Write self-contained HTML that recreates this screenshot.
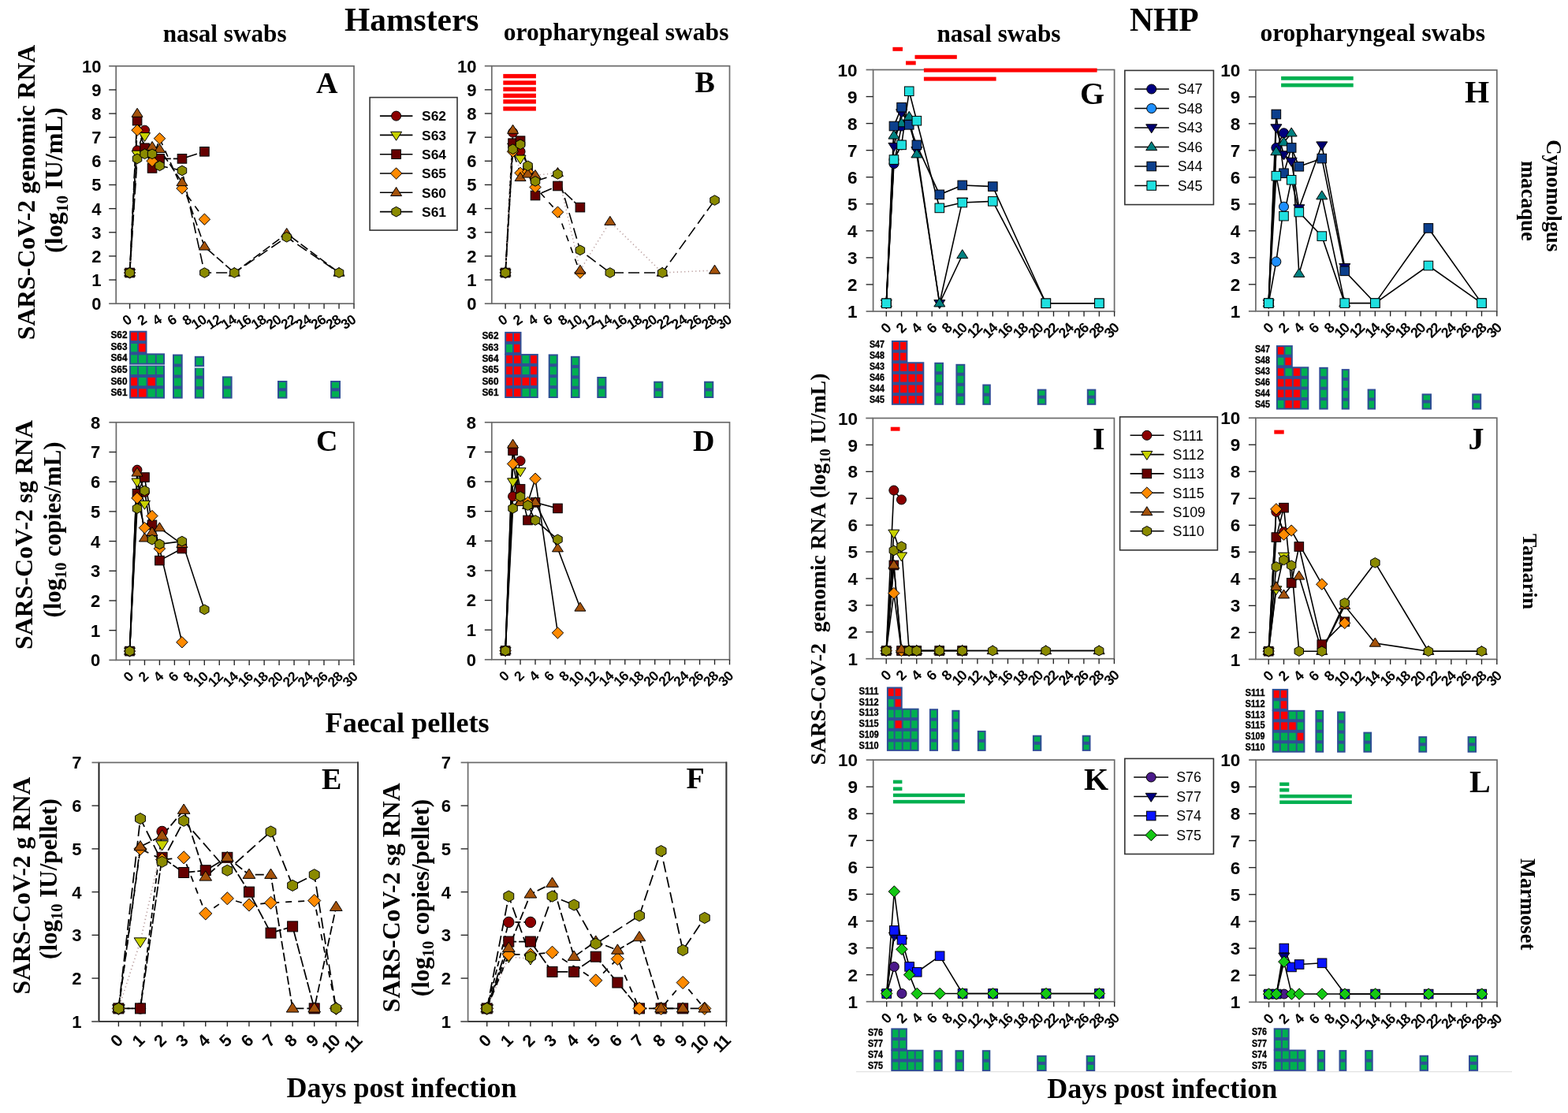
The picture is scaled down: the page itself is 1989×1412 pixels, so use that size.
<!DOCTYPE html>
<html><head><meta charset="utf-8"><title>SARS-CoV-2 RNA shedding in hamsters and NHP</title>
<style>
html,body{margin:0;padding:0;background:#fff;}
body{width:1989px;height:1412px;overflow:hidden;}
svg{display:block;}
</style></head>
<body>
<svg width="1989" height="1412" viewBox="0 0 1989 1412">
<rect width="1989" height="1412" fill="#fff"/>
<rect x="147.2" y="83.8" width="301.8" height="301.4" fill="none" stroke="#6a6a6a" stroke-width="1.7"/>
<line x1="138.2" y1="385.2" x2="147.2" y2="385.2" stroke="#6a6a6a" stroke-width="1.7"/>
<text x="128.5" y="393.12" font-family="'Liberation Sans', Arial, sans-serif" font-size="22" font-weight="bold" text-anchor="end">0</text>
<line x1="138.2" y1="355.06" x2="147.2" y2="355.06" stroke="#222" stroke-width="1.35"/>
<text x="128.5" y="362.98" font-family="'Liberation Sans', Arial, sans-serif" font-size="22" font-weight="bold" text-anchor="end">1</text>
<line x1="138.2" y1="324.92" x2="147.2" y2="324.92" stroke="#222" stroke-width="1.35"/>
<text x="128.5" y="332.84" font-family="'Liberation Sans', Arial, sans-serif" font-size="22" font-weight="bold" text-anchor="end">2</text>
<line x1="138.2" y1="294.78" x2="147.2" y2="294.78" stroke="#222" stroke-width="1.35"/>
<text x="128.5" y="302.7" font-family="'Liberation Sans', Arial, sans-serif" font-size="22" font-weight="bold" text-anchor="end">3</text>
<line x1="138.2" y1="264.64" x2="147.2" y2="264.64" stroke="#222" stroke-width="1.35"/>
<text x="128.5" y="272.56" font-family="'Liberation Sans', Arial, sans-serif" font-size="22" font-weight="bold" text-anchor="end">4</text>
<line x1="138.2" y1="234.5" x2="147.2" y2="234.5" stroke="#222" stroke-width="1.35"/>
<text x="128.5" y="242.42" font-family="'Liberation Sans', Arial, sans-serif" font-size="22" font-weight="bold" text-anchor="end">5</text>
<line x1="138.2" y1="204.36" x2="147.2" y2="204.36" stroke="#222" stroke-width="1.35"/>
<text x="128.5" y="212.28" font-family="'Liberation Sans', Arial, sans-serif" font-size="22" font-weight="bold" text-anchor="end">6</text>
<line x1="138.2" y1="174.22" x2="147.2" y2="174.22" stroke="#222" stroke-width="1.35"/>
<text x="128.5" y="182.14" font-family="'Liberation Sans', Arial, sans-serif" font-size="22" font-weight="bold" text-anchor="end">7</text>
<line x1="138.2" y1="144.08" x2="147.2" y2="144.08" stroke="#222" stroke-width="1.35"/>
<text x="128.5" y="152" font-family="'Liberation Sans', Arial, sans-serif" font-size="22" font-weight="bold" text-anchor="end">8</text>
<line x1="138.2" y1="113.94" x2="147.2" y2="113.94" stroke="#222" stroke-width="1.35"/>
<text x="128.5" y="121.86" font-family="'Liberation Sans', Arial, sans-serif" font-size="22" font-weight="bold" text-anchor="end">9</text>
<line x1="138.2" y1="83.8" x2="147.2" y2="83.8" stroke="#6a6a6a" stroke-width="1.7"/>
<text x="128.5" y="91.72" font-family="'Liberation Sans', Arial, sans-serif" font-size="22" font-weight="bold" text-anchor="end">10</text>
<line x1="164.6" y1="385.2" x2="164.6" y2="391.7" stroke="#222" stroke-width="1.35"/>
<text x="168.2" y="408.37" font-family="'Liberation Sans', Arial, sans-serif" font-size="17.5" font-weight="bold" text-anchor="end" transform="rotate(-34 168.2 408.37)" letter-spacing="-0.6">0</text>
<line x1="183.56" y1="385.2" x2="183.56" y2="391.7" stroke="#222" stroke-width="1.35"/>
<text x="187.16" y="408.37" font-family="'Liberation Sans', Arial, sans-serif" font-size="17.5" font-weight="bold" text-anchor="end" transform="rotate(-34 187.16 408.37)" letter-spacing="-0.6">2</text>
<line x1="202.52" y1="385.2" x2="202.52" y2="391.7" stroke="#222" stroke-width="1.35"/>
<text x="206.12" y="408.37" font-family="'Liberation Sans', Arial, sans-serif" font-size="17.5" font-weight="bold" text-anchor="end" transform="rotate(-34 206.12 408.37)" letter-spacing="-0.6">4</text>
<line x1="221.48" y1="385.2" x2="221.48" y2="391.7" stroke="#222" stroke-width="1.35"/>
<text x="225.08" y="408.37" font-family="'Liberation Sans', Arial, sans-serif" font-size="17.5" font-weight="bold" text-anchor="end" transform="rotate(-34 225.08 408.37)" letter-spacing="-0.6">6</text>
<line x1="240.44" y1="385.2" x2="240.44" y2="391.7" stroke="#222" stroke-width="1.35"/>
<text x="244.04" y="408.37" font-family="'Liberation Sans', Arial, sans-serif" font-size="17.5" font-weight="bold" text-anchor="end" transform="rotate(-34 244.04 408.37)" letter-spacing="-0.6">8</text>
<line x1="259.4" y1="385.2" x2="259.4" y2="391.7" stroke="#222" stroke-width="1.35"/>
<text x="263" y="408.37" font-family="'Liberation Sans', Arial, sans-serif" font-size="17.5" font-weight="bold" text-anchor="end" transform="rotate(-34 263 408.37)" letter-spacing="-0.6">10</text>
<line x1="278.36" y1="385.2" x2="278.36" y2="391.7" stroke="#222" stroke-width="1.35"/>
<text x="281.96" y="408.37" font-family="'Liberation Sans', Arial, sans-serif" font-size="17.5" font-weight="bold" text-anchor="end" transform="rotate(-34 281.96 408.37)" letter-spacing="-0.6">12</text>
<line x1="297.32" y1="385.2" x2="297.32" y2="391.7" stroke="#222" stroke-width="1.35"/>
<text x="300.92" y="408.37" font-family="'Liberation Sans', Arial, sans-serif" font-size="17.5" font-weight="bold" text-anchor="end" transform="rotate(-34 300.92 408.37)" letter-spacing="-0.6">14</text>
<line x1="316.28" y1="385.2" x2="316.28" y2="391.7" stroke="#222" stroke-width="1.35"/>
<text x="319.88" y="408.37" font-family="'Liberation Sans', Arial, sans-serif" font-size="17.5" font-weight="bold" text-anchor="end" transform="rotate(-34 319.88 408.37)" letter-spacing="-0.6">16</text>
<line x1="335.24" y1="385.2" x2="335.24" y2="391.7" stroke="#222" stroke-width="1.35"/>
<text x="338.84" y="408.37" font-family="'Liberation Sans', Arial, sans-serif" font-size="17.5" font-weight="bold" text-anchor="end" transform="rotate(-34 338.84 408.37)" letter-spacing="-0.6">18</text>
<line x1="354.2" y1="385.2" x2="354.2" y2="391.7" stroke="#222" stroke-width="1.35"/>
<text x="357.8" y="408.37" font-family="'Liberation Sans', Arial, sans-serif" font-size="17.5" font-weight="bold" text-anchor="end" transform="rotate(-34 357.8 408.37)" letter-spacing="-0.6">20</text>
<line x1="373.16" y1="385.2" x2="373.16" y2="391.7" stroke="#222" stroke-width="1.35"/>
<text x="376.76" y="408.37" font-family="'Liberation Sans', Arial, sans-serif" font-size="17.5" font-weight="bold" text-anchor="end" transform="rotate(-34 376.76 408.37)" letter-spacing="-0.6">22</text>
<line x1="392.12" y1="385.2" x2="392.12" y2="391.7" stroke="#222" stroke-width="1.35"/>
<text x="395.72" y="408.37" font-family="'Liberation Sans', Arial, sans-serif" font-size="17.5" font-weight="bold" text-anchor="end" transform="rotate(-34 395.72 408.37)" letter-spacing="-0.6">24</text>
<line x1="411.08" y1="385.2" x2="411.08" y2="391.7" stroke="#222" stroke-width="1.35"/>
<text x="414.68" y="408.37" font-family="'Liberation Sans', Arial, sans-serif" font-size="17.5" font-weight="bold" text-anchor="end" transform="rotate(-34 414.68 408.37)" letter-spacing="-0.6">26</text>
<line x1="430.04" y1="385.2" x2="430.04" y2="391.7" stroke="#222" stroke-width="1.35"/>
<text x="433.64" y="408.37" font-family="'Liberation Sans', Arial, sans-serif" font-size="17.5" font-weight="bold" text-anchor="end" transform="rotate(-34 433.64 408.37)" letter-spacing="-0.6">28</text>
<line x1="449" y1="385.2" x2="449" y2="391.7" stroke="#222" stroke-width="1.35"/>
<text x="452.6" y="408.37" font-family="'Liberation Sans', Arial, sans-serif" font-size="17.5" font-weight="bold" text-anchor="end" transform="rotate(-34 452.6 408.37)" letter-spacing="-0.6">30</text>
<text x="400.9" y="117.5" font-family="'Liberation Serif', 'Times New Roman', serif" font-size="38" font-weight="bold" text-anchor="start">A</text>
<polyline points="164.6,346.02 174.08,190.8 183.56,165.18" fill="none" stroke="#000" stroke-width="1.6" stroke-dasharray="7,4"/>
<polyline points="164.6,346.02 174.08,195.32 183.56,172.71" fill="none" stroke="#b89c9c" stroke-width="1.6" stroke-dasharray="1.2,3.5"/>
<polyline points="164.6,346.02 174.08,153.12 183.56,187.78 193.04,213.4 202.52,201.35 230.96,201.35 259.4,192.3" fill="none" stroke="#000" stroke-width="1.6" stroke-dasharray="14,3"/>
<polyline points="164.6,346.02 174.08,165.18 193.04,204.36 202.52,175.73 230.96,239.02 259.4,278.2" fill="none" stroke="#000" stroke-width="1.6" stroke-dasharray="8,8"/>
<polyline points="164.6,346.02 174.08,144.08 183.56,195.32 193.04,186.28 202.52,189.29 230.96,231.49 259.4,312.86 297.32,346.02 363.68,296.29 430.04,346.02" fill="none" stroke="#000" stroke-width="1.6" stroke-dasharray="11,4"/>
<polyline points="164.6,346.02 174.08,201.35 183.56,195.32 193.04,195.32 202.52,210.39 230.96,216.42 259.4,346.02 297.32,346.02 363.68,300.81 430.04,346.02" fill="none" stroke="#000" stroke-width="1.6" stroke-dasharray="14,6"/>
<circle cx="164.6" cy="346.02" r="6" fill="#8b0000" stroke="#000" stroke-width="1"/>
<circle cx="174.08" cy="190.8" r="6" fill="#8b0000" stroke="#000" stroke-width="1"/>
<circle cx="183.56" cy="165.18" r="6" fill="#8b0000" stroke="#000" stroke-width="1"/>
<path d="M164.6 352.84L171.6 341.84L157.6 341.84Z" fill="#c8d200" stroke="#000" stroke-width="1"/>
<path d="M174.08 202.14L181.08 191.14L167.08 191.14Z" fill="#c8d200" stroke="#000" stroke-width="1"/>
<path d="M183.56 179.53L190.56 168.53L176.56 168.53Z" fill="#c8d200" stroke="#000" stroke-width="1"/>
<rect x="158.8" y="340.22" width="11.6" height="11.6" fill="#650000" stroke="#000" stroke-width="1"/>
<rect x="168.28" y="147.32" width="11.6" height="11.6" fill="#650000" stroke="#000" stroke-width="1"/>
<rect x="177.76" y="181.98" width="11.6" height="11.6" fill="#650000" stroke="#000" stroke-width="1"/>
<rect x="187.24" y="207.6" width="11.6" height="11.6" fill="#650000" stroke="#000" stroke-width="1"/>
<rect x="196.72" y="195.55" width="11.6" height="11.6" fill="#650000" stroke="#000" stroke-width="1"/>
<rect x="225.16" y="195.55" width="11.6" height="11.6" fill="#650000" stroke="#000" stroke-width="1"/>
<rect x="253.6" y="186.5" width="11.6" height="11.6" fill="#650000" stroke="#000" stroke-width="1"/>
<path d="M164.6 338.82L171.8 346.02L164.6 353.22L157.4 346.02Z" fill="#ff8a00" stroke="#000" stroke-width="1"/>
<path d="M174.08 157.98L181.28 165.18L174.08 172.38L166.88 165.18Z" fill="#ff8a00" stroke="#000" stroke-width="1"/>
<path d="M193.04 197.16L200.24 204.36L193.04 211.56L185.84 204.36Z" fill="#ff8a00" stroke="#000" stroke-width="1"/>
<path d="M202.52 168.53L209.72 175.73L202.52 182.93L195.32 175.73Z" fill="#ff8a00" stroke="#000" stroke-width="1"/>
<path d="M230.96 231.82L238.16 239.02L230.96 246.22L223.76 239.02Z" fill="#ff8a00" stroke="#000" stroke-width="1"/>
<path d="M259.4 271L266.6 278.2L259.4 285.4L252.2 278.2Z" fill="#ff8a00" stroke="#000" stroke-width="1"/>
<path d="M164.6 339.2L171.6 350.2L157.6 350.2Z" fill="#a4520a" stroke="#000" stroke-width="1"/>
<path d="M174.08 137.26L181.08 148.26L167.08 148.26Z" fill="#a4520a" stroke="#000" stroke-width="1"/>
<path d="M183.56 188.5L190.56 199.5L176.56 199.5Z" fill="#a4520a" stroke="#000" stroke-width="1"/>
<path d="M193.04 179.46L200.04 190.46L186.04 190.46Z" fill="#a4520a" stroke="#000" stroke-width="1"/>
<path d="M202.52 182.47L209.52 193.47L195.52 193.47Z" fill="#a4520a" stroke="#000" stroke-width="1"/>
<path d="M230.96 224.67L237.96 235.67L223.96 235.67Z" fill="#a4520a" stroke="#000" stroke-width="1"/>
<path d="M259.4 306.04L266.4 317.04L252.4 317.04Z" fill="#a4520a" stroke="#000" stroke-width="1"/>
<path d="M297.32 339.2L304.32 350.2L290.32 350.2Z" fill="#a4520a" stroke="#000" stroke-width="1"/>
<path d="M363.68 289.47L370.68 300.47L356.68 300.47Z" fill="#a4520a" stroke="#000" stroke-width="1"/>
<path d="M430.04 339.2L437.04 350.2L423.04 350.2Z" fill="#a4520a" stroke="#000" stroke-width="1"/>
<polygon points="164.6,339.72 158.87,342.87 158.87,349.17 164.6,352.32 170.33,349.17 170.33,342.87" fill="#8a8a00" stroke="#000" stroke-width="1"/>
<polygon points="174.08,195.05 168.35,198.2 168.35,204.5 174.08,207.65 179.81,204.5 179.81,198.2" fill="#8a8a00" stroke="#000" stroke-width="1"/>
<polygon points="183.56,189.02 177.83,192.17 177.83,198.47 183.56,201.62 189.29,198.47 189.29,192.17" fill="#8a8a00" stroke="#000" stroke-width="1"/>
<polygon points="193.04,189.02 187.31,192.17 187.31,198.47 193.04,201.62 198.77,198.47 198.77,192.17" fill="#8a8a00" stroke="#000" stroke-width="1"/>
<polygon points="202.52,204.09 196.79,207.24 196.79,213.54 202.52,216.69 208.25,213.54 208.25,207.24" fill="#8a8a00" stroke="#000" stroke-width="1"/>
<polygon points="230.96,210.12 225.23,213.27 225.23,219.57 230.96,222.72 236.69,219.57 236.69,213.27" fill="#8a8a00" stroke="#000" stroke-width="1"/>
<polygon points="259.4,339.72 253.67,342.87 253.67,349.17 259.4,352.32 265.13,349.17 265.13,342.87" fill="#8a8a00" stroke="#000" stroke-width="1"/>
<polygon points="297.32,339.72 291.59,342.87 291.59,349.17 297.32,352.32 303.05,349.17 303.05,342.87" fill="#8a8a00" stroke="#000" stroke-width="1"/>
<polygon points="363.68,294.51 357.95,297.66 357.95,303.96 363.68,307.11 369.41,303.96 369.41,297.66" fill="#8a8a00" stroke="#000" stroke-width="1"/>
<polygon points="430.04,339.72 424.31,342.87 424.31,349.17 430.04,352.32 435.77,349.17 435.77,342.87" fill="#8a8a00" stroke="#000" stroke-width="1"/>
<rect x="623.8" y="83.7" width="301.7" height="301.5" fill="none" stroke="#6a6a6a" stroke-width="1.7"/>
<line x1="614.8" y1="385.2" x2="623.8" y2="385.2" stroke="#6a6a6a" stroke-width="1.7"/>
<text x="604.5" y="393.12" font-family="'Liberation Sans', Arial, sans-serif" font-size="22" font-weight="bold" text-anchor="end">0</text>
<line x1="614.8" y1="355.05" x2="623.8" y2="355.05" stroke="#222" stroke-width="1.35"/>
<text x="604.5" y="362.97" font-family="'Liberation Sans', Arial, sans-serif" font-size="22" font-weight="bold" text-anchor="end">1</text>
<line x1="614.8" y1="324.9" x2="623.8" y2="324.9" stroke="#222" stroke-width="1.35"/>
<text x="604.5" y="332.82" font-family="'Liberation Sans', Arial, sans-serif" font-size="22" font-weight="bold" text-anchor="end">2</text>
<line x1="614.8" y1="294.75" x2="623.8" y2="294.75" stroke="#222" stroke-width="1.35"/>
<text x="604.5" y="302.67" font-family="'Liberation Sans', Arial, sans-serif" font-size="22" font-weight="bold" text-anchor="end">3</text>
<line x1="614.8" y1="264.6" x2="623.8" y2="264.6" stroke="#222" stroke-width="1.35"/>
<text x="604.5" y="272.52" font-family="'Liberation Sans', Arial, sans-serif" font-size="22" font-weight="bold" text-anchor="end">4</text>
<line x1="614.8" y1="234.45" x2="623.8" y2="234.45" stroke="#222" stroke-width="1.35"/>
<text x="604.5" y="242.37" font-family="'Liberation Sans', Arial, sans-serif" font-size="22" font-weight="bold" text-anchor="end">5</text>
<line x1="614.8" y1="204.3" x2="623.8" y2="204.3" stroke="#222" stroke-width="1.35"/>
<text x="604.5" y="212.22" font-family="'Liberation Sans', Arial, sans-serif" font-size="22" font-weight="bold" text-anchor="end">6</text>
<line x1="614.8" y1="174.15" x2="623.8" y2="174.15" stroke="#222" stroke-width="1.35"/>
<text x="604.5" y="182.07" font-family="'Liberation Sans', Arial, sans-serif" font-size="22" font-weight="bold" text-anchor="end">7</text>
<line x1="614.8" y1="144" x2="623.8" y2="144" stroke="#222" stroke-width="1.35"/>
<text x="604.5" y="151.92" font-family="'Liberation Sans', Arial, sans-serif" font-size="22" font-weight="bold" text-anchor="end">8</text>
<line x1="614.8" y1="113.85" x2="623.8" y2="113.85" stroke="#222" stroke-width="1.35"/>
<text x="604.5" y="121.77" font-family="'Liberation Sans', Arial, sans-serif" font-size="22" font-weight="bold" text-anchor="end">9</text>
<line x1="614.8" y1="83.7" x2="623.8" y2="83.7" stroke="#6a6a6a" stroke-width="1.7"/>
<text x="604.5" y="91.62" font-family="'Liberation Sans', Arial, sans-serif" font-size="22" font-weight="bold" text-anchor="end">10</text>
<line x1="641.1" y1="385.2" x2="641.1" y2="391.7" stroke="#222" stroke-width="1.35"/>
<text x="644.7" y="408.37" font-family="'Liberation Sans', Arial, sans-serif" font-size="17.5" font-weight="bold" text-anchor="end" transform="rotate(-34 644.7 408.37)" letter-spacing="-0.6">0</text>
<line x1="660.06" y1="385.2" x2="660.06" y2="391.7" stroke="#222" stroke-width="1.35"/>
<text x="663.66" y="408.37" font-family="'Liberation Sans', Arial, sans-serif" font-size="17.5" font-weight="bold" text-anchor="end" transform="rotate(-34 663.66 408.37)" letter-spacing="-0.6">2</text>
<line x1="679.02" y1="385.2" x2="679.02" y2="391.7" stroke="#222" stroke-width="1.35"/>
<text x="682.62" y="408.37" font-family="'Liberation Sans', Arial, sans-serif" font-size="17.5" font-weight="bold" text-anchor="end" transform="rotate(-34 682.62 408.37)" letter-spacing="-0.6">4</text>
<line x1="697.98" y1="385.2" x2="697.98" y2="391.7" stroke="#222" stroke-width="1.35"/>
<text x="701.58" y="408.37" font-family="'Liberation Sans', Arial, sans-serif" font-size="17.5" font-weight="bold" text-anchor="end" transform="rotate(-34 701.58 408.37)" letter-spacing="-0.6">6</text>
<line x1="716.94" y1="385.2" x2="716.94" y2="391.7" stroke="#222" stroke-width="1.35"/>
<text x="720.54" y="408.37" font-family="'Liberation Sans', Arial, sans-serif" font-size="17.5" font-weight="bold" text-anchor="end" transform="rotate(-34 720.54 408.37)" letter-spacing="-0.6">8</text>
<line x1="735.9" y1="385.2" x2="735.9" y2="391.7" stroke="#222" stroke-width="1.35"/>
<text x="739.5" y="408.37" font-family="'Liberation Sans', Arial, sans-serif" font-size="17.5" font-weight="bold" text-anchor="end" transform="rotate(-34 739.5 408.37)" letter-spacing="-0.6">10</text>
<line x1="754.86" y1="385.2" x2="754.86" y2="391.7" stroke="#222" stroke-width="1.35"/>
<text x="758.46" y="408.37" font-family="'Liberation Sans', Arial, sans-serif" font-size="17.5" font-weight="bold" text-anchor="end" transform="rotate(-34 758.46 408.37)" letter-spacing="-0.6">12</text>
<line x1="773.82" y1="385.2" x2="773.82" y2="391.7" stroke="#222" stroke-width="1.35"/>
<text x="777.42" y="408.37" font-family="'Liberation Sans', Arial, sans-serif" font-size="17.5" font-weight="bold" text-anchor="end" transform="rotate(-34 777.42 408.37)" letter-spacing="-0.6">14</text>
<line x1="792.78" y1="385.2" x2="792.78" y2="391.7" stroke="#222" stroke-width="1.35"/>
<text x="796.38" y="408.37" font-family="'Liberation Sans', Arial, sans-serif" font-size="17.5" font-weight="bold" text-anchor="end" transform="rotate(-34 796.38 408.37)" letter-spacing="-0.6">16</text>
<line x1="811.74" y1="385.2" x2="811.74" y2="391.7" stroke="#222" stroke-width="1.35"/>
<text x="815.34" y="408.37" font-family="'Liberation Sans', Arial, sans-serif" font-size="17.5" font-weight="bold" text-anchor="end" transform="rotate(-34 815.34 408.37)" letter-spacing="-0.6">18</text>
<line x1="830.7" y1="385.2" x2="830.7" y2="391.7" stroke="#222" stroke-width="1.35"/>
<text x="834.3" y="408.37" font-family="'Liberation Sans', Arial, sans-serif" font-size="17.5" font-weight="bold" text-anchor="end" transform="rotate(-34 834.3 408.37)" letter-spacing="-0.6">20</text>
<line x1="849.66" y1="385.2" x2="849.66" y2="391.7" stroke="#222" stroke-width="1.35"/>
<text x="853.26" y="408.37" font-family="'Liberation Sans', Arial, sans-serif" font-size="17.5" font-weight="bold" text-anchor="end" transform="rotate(-34 853.26 408.37)" letter-spacing="-0.6">22</text>
<line x1="868.62" y1="385.2" x2="868.62" y2="391.7" stroke="#222" stroke-width="1.35"/>
<text x="872.22" y="408.37" font-family="'Liberation Sans', Arial, sans-serif" font-size="17.5" font-weight="bold" text-anchor="end" transform="rotate(-34 872.22 408.37)" letter-spacing="-0.6">24</text>
<line x1="887.58" y1="385.2" x2="887.58" y2="391.7" stroke="#222" stroke-width="1.35"/>
<text x="891.18" y="408.37" font-family="'Liberation Sans', Arial, sans-serif" font-size="17.5" font-weight="bold" text-anchor="end" transform="rotate(-34 891.18 408.37)" letter-spacing="-0.6">26</text>
<line x1="906.54" y1="385.2" x2="906.54" y2="391.7" stroke="#222" stroke-width="1.35"/>
<text x="910.14" y="408.37" font-family="'Liberation Sans', Arial, sans-serif" font-size="17.5" font-weight="bold" text-anchor="end" transform="rotate(-34 910.14 408.37)" letter-spacing="-0.6">28</text>
<line x1="925.5" y1="385.2" x2="925.5" y2="391.7" stroke="#222" stroke-width="1.35"/>
<text x="929.1" y="408.37" font-family="'Liberation Sans', Arial, sans-serif" font-size="17.5" font-weight="bold" text-anchor="end" transform="rotate(-34 929.1 408.37)" letter-spacing="-0.6">30</text>
<rect x="638.3" y="93.9" width="41.6" height="5.4" fill="#ff0000"/>
<rect x="638.3" y="102.3" width="41.6" height="5.4" fill="#ff0000"/>
<rect x="638.3" y="110.5" width="41.6" height="5.4" fill="#ff0000"/>
<rect x="638.3" y="118.7" width="41.6" height="5.4" fill="#ff0000"/>
<rect x="638.3" y="126.2" width="41.6" height="5.4" fill="#ff0000"/>
<rect x="638.3" y="135.2" width="41.6" height="5.4" fill="#ff0000"/>
<text x="881.4" y="116.5" font-family="'Liberation Serif', 'Times New Roman', serif" font-size="38" font-weight="bold" text-anchor="start">B</text>
<polyline points="641.1,346 650.58,168.12 660.06,192.24" fill="none" stroke="#000" stroke-width="1.6" stroke-dasharray="7,4"/>
<polyline points="641.1,346 650.58,186.21 660.06,201.28" fill="none" stroke="#b89c9c" stroke-width="1.6" stroke-dasharray="1.2,3.5"/>
<polyline points="641.1,346 650.58,181.69 660.06,178.67 669.54,216.36 679.02,248.02 707.46,235.96 735.9,263.09" fill="none" stroke="#000" stroke-width="1.6" stroke-dasharray="14,3"/>
<polyline points="641.1,346 650.58,192.24 660.06,219.38 669.54,217.87 679.02,237.46 707.46,269.12 735.9,346" fill="none" stroke="#000" stroke-width="1.6" stroke-dasharray="8,8"/>
<polyline points="641.1,346 650.58,165.11 660.06,225.4 669.54,220.88 679.02,222.39 707.46,219.38 735.9,342.99 773.82,281.18 840.18,346 906.54,342.99" fill="none" stroke="#b89c9c" stroke-width="1.6" stroke-dasharray="1.2,3.5"/>
<polyline points="641.1,346 650.58,189.22 660.06,183.19 669.54,210.33 679.02,229.93 707.46,220.88 735.9,317.36 773.82,346 840.18,346 906.54,254.05" fill="none" stroke="#000" stroke-width="1.6" stroke-dasharray="14,6"/>
<circle cx="641.1" cy="346" r="6" fill="#8b0000" stroke="#000" stroke-width="1"/>
<circle cx="650.58" cy="168.12" r="6" fill="#8b0000" stroke="#000" stroke-width="1"/>
<circle cx="660.06" cy="192.24" r="6" fill="#8b0000" stroke="#000" stroke-width="1"/>
<path d="M641.1 352.82L648.1 341.82L634.1 341.82Z" fill="#c8d200" stroke="#000" stroke-width="1"/>
<path d="M650.58 193.03L657.58 182.03L643.58 182.03Z" fill="#c8d200" stroke="#000" stroke-width="1"/>
<path d="M660.06 208.1L667.06 197.1L653.06 197.1Z" fill="#c8d200" stroke="#000" stroke-width="1"/>
<rect x="635.3" y="340.2" width="11.6" height="11.6" fill="#650000" stroke="#000" stroke-width="1"/>
<rect x="644.78" y="175.89" width="11.6" height="11.6" fill="#650000" stroke="#000" stroke-width="1"/>
<rect x="654.26" y="172.87" width="11.6" height="11.6" fill="#650000" stroke="#000" stroke-width="1"/>
<rect x="663.74" y="210.56" width="11.6" height="11.6" fill="#650000" stroke="#000" stroke-width="1"/>
<rect x="673.22" y="242.22" width="11.6" height="11.6" fill="#650000" stroke="#000" stroke-width="1"/>
<rect x="701.66" y="230.16" width="11.6" height="11.6" fill="#650000" stroke="#000" stroke-width="1"/>
<rect x="730.1" y="257.29" width="11.6" height="11.6" fill="#650000" stroke="#000" stroke-width="1"/>
<path d="M641.1 338.81L648.3 346L641.1 353.2L633.9 346Z" fill="#ff8a00" stroke="#000" stroke-width="1"/>
<path d="M650.58 185.04L657.78 192.24L650.58 199.44L643.38 192.24Z" fill="#ff8a00" stroke="#000" stroke-width="1"/>
<path d="M660.06 212.18L667.26 219.38L660.06 226.57L652.86 219.38Z" fill="#ff8a00" stroke="#000" stroke-width="1"/>
<path d="M669.54 210.67L676.74 217.87L669.54 225.07L662.34 217.87Z" fill="#ff8a00" stroke="#000" stroke-width="1"/>
<path d="M679.02 230.26L686.22 237.46L679.02 244.66L671.82 237.46Z" fill="#ff8a00" stroke="#000" stroke-width="1"/>
<path d="M707.46 261.92L714.66 269.12L707.46 276.32L700.26 269.12Z" fill="#ff8a00" stroke="#000" stroke-width="1"/>
<path d="M735.9 338.81L743.1 346L735.9 353.2L728.7 346Z" fill="#ff8a00" stroke="#000" stroke-width="1"/>
<path d="M641.1 339.19L648.1 350.19L634.1 350.19Z" fill="#a4520a" stroke="#000" stroke-width="1"/>
<path d="M650.58 158.29L657.58 169.29L643.58 169.29Z" fill="#a4520a" stroke="#000" stroke-width="1"/>
<path d="M660.06 218.58L667.06 229.58L653.06 229.58Z" fill="#a4520a" stroke="#000" stroke-width="1"/>
<path d="M669.54 214.06L676.54 225.06L662.54 225.06Z" fill="#a4520a" stroke="#000" stroke-width="1"/>
<path d="M679.02 215.57L686.02 226.57L672.02 226.57Z" fill="#a4520a" stroke="#000" stroke-width="1"/>
<path d="M707.46 212.56L714.46 223.56L700.46 223.56Z" fill="#a4520a" stroke="#000" stroke-width="1"/>
<path d="M735.9 336.17L742.9 347.17L728.9 347.17Z" fill="#a4520a" stroke="#000" stroke-width="1"/>
<path d="M773.82 274.36L780.82 285.36L766.82 285.36Z" fill="#a4520a" stroke="#000" stroke-width="1"/>
<path d="M840.18 339.19L847.18 350.19L833.18 350.19Z" fill="#a4520a" stroke="#000" stroke-width="1"/>
<path d="M906.54 336.17L913.54 347.17L899.54 347.17Z" fill="#a4520a" stroke="#000" stroke-width="1"/>
<polygon points="641.1,339.7 635.37,342.86 635.37,349.15 641.1,352.31 646.83,349.15 646.83,342.86" fill="#8a8a00" stroke="#000" stroke-width="1"/>
<polygon points="650.58,182.92 644.85,186.07 644.85,192.38 650.58,195.53 656.31,192.38 656.31,186.07" fill="#8a8a00" stroke="#000" stroke-width="1"/>
<polygon points="660.06,176.89 654.33,180.04 654.33,186.34 660.06,189.5 665.79,186.34 665.79,180.04" fill="#8a8a00" stroke="#000" stroke-width="1"/>
<polygon points="669.54,204.03 663.81,207.18 663.81,213.48 669.54,216.63 675.27,213.48 675.27,207.18" fill="#8a8a00" stroke="#000" stroke-width="1"/>
<polygon points="679.02,223.63 673.29,226.78 673.29,233.08 679.02,236.23 684.75,233.08 684.75,226.78" fill="#8a8a00" stroke="#000" stroke-width="1"/>
<polygon points="707.46,214.58 701.73,217.73 701.73,224.03 707.46,227.18 713.19,224.03 713.19,217.73" fill="#8a8a00" stroke="#000" stroke-width="1"/>
<polygon points="735.9,311.06 730.17,314.21 730.17,320.51 735.9,323.66 741.63,320.51 741.63,314.21" fill="#8a8a00" stroke="#000" stroke-width="1"/>
<polygon points="773.82,339.7 768.09,342.86 768.09,349.15 773.82,352.31 779.55,349.15 779.55,342.86" fill="#8a8a00" stroke="#000" stroke-width="1"/>
<polygon points="840.18,339.7 834.45,342.86 834.45,349.15 840.18,352.31 845.91,349.15 845.91,342.86" fill="#8a8a00" stroke="#000" stroke-width="1"/>
<polygon points="906.54,247.75 900.81,250.9 900.81,257.2 906.54,260.35 912.27,257.2 912.27,250.9" fill="#8a8a00" stroke="#000" stroke-width="1"/>
<rect x="147.4" y="535.8" width="301.4" height="301.6" fill="none" stroke="#6a6a6a" stroke-width="1.7"/>
<line x1="138.4" y1="837.4" x2="147.4" y2="837.4" stroke="#6a6a6a" stroke-width="1.7"/>
<text x="127.2" y="845.32" font-family="'Liberation Sans', Arial, sans-serif" font-size="22" font-weight="bold" text-anchor="end">0</text>
<line x1="138.4" y1="799.7" x2="147.4" y2="799.7" stroke="#222" stroke-width="1.35"/>
<text x="127.2" y="807.62" font-family="'Liberation Sans', Arial, sans-serif" font-size="22" font-weight="bold" text-anchor="end">1</text>
<line x1="138.4" y1="762" x2="147.4" y2="762" stroke="#222" stroke-width="1.35"/>
<text x="127.2" y="769.92" font-family="'Liberation Sans', Arial, sans-serif" font-size="22" font-weight="bold" text-anchor="end">2</text>
<line x1="138.4" y1="724.3" x2="147.4" y2="724.3" stroke="#222" stroke-width="1.35"/>
<text x="127.2" y="732.22" font-family="'Liberation Sans', Arial, sans-serif" font-size="22" font-weight="bold" text-anchor="end">3</text>
<line x1="138.4" y1="686.6" x2="147.4" y2="686.6" stroke="#222" stroke-width="1.35"/>
<text x="127.2" y="694.52" font-family="'Liberation Sans', Arial, sans-serif" font-size="22" font-weight="bold" text-anchor="end">4</text>
<line x1="138.4" y1="648.9" x2="147.4" y2="648.9" stroke="#222" stroke-width="1.35"/>
<text x="127.2" y="656.82" font-family="'Liberation Sans', Arial, sans-serif" font-size="22" font-weight="bold" text-anchor="end">5</text>
<line x1="138.4" y1="611.2" x2="147.4" y2="611.2" stroke="#222" stroke-width="1.35"/>
<text x="127.2" y="619.12" font-family="'Liberation Sans', Arial, sans-serif" font-size="22" font-weight="bold" text-anchor="end">6</text>
<line x1="138.4" y1="573.5" x2="147.4" y2="573.5" stroke="#222" stroke-width="1.35"/>
<text x="127.2" y="581.42" font-family="'Liberation Sans', Arial, sans-serif" font-size="22" font-weight="bold" text-anchor="end">7</text>
<line x1="138.4" y1="535.8" x2="147.4" y2="535.8" stroke="#6a6a6a" stroke-width="1.7"/>
<text x="127.2" y="543.72" font-family="'Liberation Sans', Arial, sans-serif" font-size="22" font-weight="bold" text-anchor="end">8</text>
<line x1="164.5" y1="837.4" x2="164.5" y2="843.9" stroke="#222" stroke-width="1.35"/>
<text x="170.23" y="859.48" font-family="'Liberation Sans', Arial, sans-serif" font-size="17.5" font-weight="bold" text-anchor="end" transform="rotate(-45 170.23 859.48)" letter-spacing="-0.6">0</text>
<line x1="183.46" y1="837.4" x2="183.46" y2="843.9" stroke="#222" stroke-width="1.35"/>
<text x="189.19" y="859.48" font-family="'Liberation Sans', Arial, sans-serif" font-size="17.5" font-weight="bold" text-anchor="end" transform="rotate(-45 189.19 859.48)" letter-spacing="-0.6">2</text>
<line x1="202.42" y1="837.4" x2="202.42" y2="843.9" stroke="#222" stroke-width="1.35"/>
<text x="208.15" y="859.48" font-family="'Liberation Sans', Arial, sans-serif" font-size="17.5" font-weight="bold" text-anchor="end" transform="rotate(-45 208.15 859.48)" letter-spacing="-0.6">4</text>
<line x1="221.38" y1="837.4" x2="221.38" y2="843.9" stroke="#222" stroke-width="1.35"/>
<text x="227.11" y="859.48" font-family="'Liberation Sans', Arial, sans-serif" font-size="17.5" font-weight="bold" text-anchor="end" transform="rotate(-45 227.11 859.48)" letter-spacing="-0.6">6</text>
<line x1="240.34" y1="837.4" x2="240.34" y2="843.9" stroke="#222" stroke-width="1.35"/>
<text x="246.07" y="859.48" font-family="'Liberation Sans', Arial, sans-serif" font-size="17.5" font-weight="bold" text-anchor="end" transform="rotate(-45 246.07 859.48)" letter-spacing="-0.6">8</text>
<line x1="259.3" y1="837.4" x2="259.3" y2="843.9" stroke="#222" stroke-width="1.35"/>
<text x="265.03" y="859.48" font-family="'Liberation Sans', Arial, sans-serif" font-size="17.5" font-weight="bold" text-anchor="end" transform="rotate(-45 265.03 859.48)" letter-spacing="-0.6">10</text>
<line x1="278.26" y1="837.4" x2="278.26" y2="843.9" stroke="#222" stroke-width="1.35"/>
<text x="283.99" y="859.48" font-family="'Liberation Sans', Arial, sans-serif" font-size="17.5" font-weight="bold" text-anchor="end" transform="rotate(-45 283.99 859.48)" letter-spacing="-0.6">12</text>
<line x1="297.22" y1="837.4" x2="297.22" y2="843.9" stroke="#222" stroke-width="1.35"/>
<text x="302.95" y="859.48" font-family="'Liberation Sans', Arial, sans-serif" font-size="17.5" font-weight="bold" text-anchor="end" transform="rotate(-45 302.95 859.48)" letter-spacing="-0.6">14</text>
<line x1="316.18" y1="837.4" x2="316.18" y2="843.9" stroke="#222" stroke-width="1.35"/>
<text x="321.91" y="859.48" font-family="'Liberation Sans', Arial, sans-serif" font-size="17.5" font-weight="bold" text-anchor="end" transform="rotate(-45 321.91 859.48)" letter-spacing="-0.6">16</text>
<line x1="335.14" y1="837.4" x2="335.14" y2="843.9" stroke="#222" stroke-width="1.35"/>
<text x="340.87" y="859.48" font-family="'Liberation Sans', Arial, sans-serif" font-size="17.5" font-weight="bold" text-anchor="end" transform="rotate(-45 340.87 859.48)" letter-spacing="-0.6">18</text>
<line x1="354.1" y1="837.4" x2="354.1" y2="843.9" stroke="#222" stroke-width="1.35"/>
<text x="359.83" y="859.48" font-family="'Liberation Sans', Arial, sans-serif" font-size="17.5" font-weight="bold" text-anchor="end" transform="rotate(-45 359.83 859.48)" letter-spacing="-0.6">20</text>
<line x1="373.06" y1="837.4" x2="373.06" y2="843.9" stroke="#222" stroke-width="1.35"/>
<text x="378.79" y="859.48" font-family="'Liberation Sans', Arial, sans-serif" font-size="17.5" font-weight="bold" text-anchor="end" transform="rotate(-45 378.79 859.48)" letter-spacing="-0.6">22</text>
<line x1="392.02" y1="837.4" x2="392.02" y2="843.9" stroke="#222" stroke-width="1.35"/>
<text x="397.75" y="859.48" font-family="'Liberation Sans', Arial, sans-serif" font-size="17.5" font-weight="bold" text-anchor="end" transform="rotate(-45 397.75 859.48)" letter-spacing="-0.6">24</text>
<line x1="410.98" y1="837.4" x2="410.98" y2="843.9" stroke="#222" stroke-width="1.35"/>
<text x="416.71" y="859.48" font-family="'Liberation Sans', Arial, sans-serif" font-size="17.5" font-weight="bold" text-anchor="end" transform="rotate(-45 416.71 859.48)" letter-spacing="-0.6">26</text>
<line x1="429.94" y1="837.4" x2="429.94" y2="843.9" stroke="#222" stroke-width="1.35"/>
<text x="435.67" y="859.48" font-family="'Liberation Sans', Arial, sans-serif" font-size="17.5" font-weight="bold" text-anchor="end" transform="rotate(-45 435.67 859.48)" letter-spacing="-0.6">28</text>
<line x1="448.9" y1="837.4" x2="448.9" y2="843.9" stroke="#222" stroke-width="1.35"/>
<text x="454.63" y="859.48" font-family="'Liberation Sans', Arial, sans-serif" font-size="17.5" font-weight="bold" text-anchor="end" transform="rotate(-45 454.63 859.48)" letter-spacing="-0.6">30</text>
<text x="400.9" y="572.3" font-family="'Liberation Serif', 'Times New Roman', serif" font-size="38" font-weight="bold" text-anchor="start">C</text>
<polyline points="164.5,826.09 173.98,596.12 183.46,624.39" fill="none" stroke="#000" stroke-width="1.6"/>
<polyline points="164.5,826.09 173.98,611.2 183.46,639.47" fill="none" stroke="#000" stroke-width="1.6"/>
<polyline points="164.5,826.09 173.98,626.28 183.46,605.54 192.94,665.87 202.42,711.11 230.86,696.02" fill="none" stroke="#000" stroke-width="1.6"/>
<polyline points="164.5,826.09 173.98,631.93 183.46,669.63 192.94,654.55 202.42,696.02 230.86,814.78" fill="none" stroke="#000" stroke-width="1.6"/>
<polyline points="164.5,826.09 173.98,599.89 183.46,682.83 192.94,675.29 202.42,669.63 230.86,690.37" fill="none" stroke="#000" stroke-width="1.6"/>
<polyline points="164.5,826.09 173.98,645.13 183.46,622.51 192.94,684.71 202.42,690.37 230.86,686.6 259.3,773.31" fill="none" stroke="#000" stroke-width="1.6"/>
<circle cx="164.5" cy="826.09" r="6" fill="#8b0000" stroke="#000" stroke-width="1"/>
<circle cx="173.98" cy="596.12" r="6" fill="#8b0000" stroke="#000" stroke-width="1"/>
<circle cx="183.46" cy="624.39" r="6" fill="#8b0000" stroke="#000" stroke-width="1"/>
<path d="M164.5 832.91L171.5 821.91L157.5 821.91Z" fill="#c8d200" stroke="#000" stroke-width="1"/>
<path d="M173.98 618.02L180.98 607.02L166.98 607.02Z" fill="#c8d200" stroke="#000" stroke-width="1"/>
<path d="M183.46 646.29L190.46 635.29L176.46 635.29Z" fill="#c8d200" stroke="#000" stroke-width="1"/>
<rect x="158.7" y="820.29" width="11.6" height="11.6" fill="#650000" stroke="#000" stroke-width="1"/>
<rect x="168.18" y="620.48" width="11.6" height="11.6" fill="#650000" stroke="#000" stroke-width="1"/>
<rect x="177.66" y="599.75" width="11.6" height="11.6" fill="#650000" stroke="#000" stroke-width="1"/>
<rect x="187.14" y="660.07" width="11.6" height="11.6" fill="#650000" stroke="#000" stroke-width="1"/>
<rect x="196.62" y="705.31" width="11.6" height="11.6" fill="#650000" stroke="#000" stroke-width="1"/>
<rect x="225.06" y="690.23" width="11.6" height="11.6" fill="#650000" stroke="#000" stroke-width="1"/>
<path d="M164.5 818.89L171.7 826.09L164.5 833.29L157.3 826.09Z" fill="#ff8a00" stroke="#000" stroke-width="1"/>
<path d="M173.98 624.73L181.18 631.93L173.98 639.13L166.78 631.93Z" fill="#ff8a00" stroke="#000" stroke-width="1"/>
<path d="M183.46 662.43L190.66 669.63L183.46 676.84L176.26 669.63Z" fill="#ff8a00" stroke="#000" stroke-width="1"/>
<path d="M192.94 647.35L200.14 654.55L192.94 661.75L185.74 654.55Z" fill="#ff8a00" stroke="#000" stroke-width="1"/>
<path d="M202.42 688.82L209.62 696.02L202.42 703.23L195.22 696.02Z" fill="#ff8a00" stroke="#000" stroke-width="1"/>
<path d="M230.86 807.58L238.06 814.78L230.86 821.98L223.66 814.78Z" fill="#ff8a00" stroke="#000" stroke-width="1"/>
<path d="M164.5 819.27L171.5 830.27L157.5 830.27Z" fill="#a4520a" stroke="#000" stroke-width="1"/>
<path d="M173.98 593.07L180.98 604.07L166.98 604.07Z" fill="#a4520a" stroke="#000" stroke-width="1"/>
<path d="M183.46 676.01L190.46 687.01L176.46 687.01Z" fill="#a4520a" stroke="#000" stroke-width="1"/>
<path d="M192.94 668.47L199.94 679.47L185.94 679.47Z" fill="#a4520a" stroke="#000" stroke-width="1"/>
<path d="M202.42 662.81L209.42 673.81L195.42 673.81Z" fill="#a4520a" stroke="#000" stroke-width="1"/>
<path d="M230.86 683.55L237.86 694.55L223.86 694.55Z" fill="#a4520a" stroke="#000" stroke-width="1"/>
<polygon points="164.5,819.79 158.77,822.94 158.77,829.24 164.5,832.39 170.23,829.24 170.23,822.94" fill="#8a8a00" stroke="#000" stroke-width="1"/>
<polygon points="173.98,638.83 168.25,641.98 168.25,648.28 173.98,651.43 179.71,648.28 179.71,641.98" fill="#8a8a00" stroke="#000" stroke-width="1"/>
<polygon points="183.46,616.21 177.73,619.36 177.73,625.66 183.46,628.81 189.19,625.66 189.19,619.36" fill="#8a8a00" stroke="#000" stroke-width="1"/>
<polygon points="192.94,678.41 187.21,681.56 187.21,687.86 192.94,691.01 198.67,687.86 198.67,681.56" fill="#8a8a00" stroke="#000" stroke-width="1"/>
<polygon points="202.42,684.07 196.69,687.22 196.69,693.52 202.42,696.67 208.15,693.52 208.15,687.22" fill="#8a8a00" stroke="#000" stroke-width="1"/>
<polygon points="230.86,680.3 225.13,683.45 225.13,689.75 230.86,692.9 236.59,689.75 236.59,683.45" fill="#8a8a00" stroke="#000" stroke-width="1"/>
<polygon points="259.3,767.01 253.57,770.16 253.57,776.46 259.3,779.61 265.03,776.46 265.03,770.16" fill="#8a8a00" stroke="#000" stroke-width="1"/>
<rect x="623.8" y="535.8" width="301.7" height="301" fill="none" stroke="#6a6a6a" stroke-width="1.7"/>
<line x1="614.8" y1="836.8" x2="623.8" y2="836.8" stroke="#6a6a6a" stroke-width="1.7"/>
<text x="604" y="844.72" font-family="'Liberation Sans', Arial, sans-serif" font-size="22" font-weight="bold" text-anchor="end">0</text>
<line x1="614.8" y1="799.17" x2="623.8" y2="799.17" stroke="#222" stroke-width="1.35"/>
<text x="604" y="807.09" font-family="'Liberation Sans', Arial, sans-serif" font-size="22" font-weight="bold" text-anchor="end">1</text>
<line x1="614.8" y1="761.55" x2="623.8" y2="761.55" stroke="#222" stroke-width="1.35"/>
<text x="604" y="769.47" font-family="'Liberation Sans', Arial, sans-serif" font-size="22" font-weight="bold" text-anchor="end">2</text>
<line x1="614.8" y1="723.92" x2="623.8" y2="723.92" stroke="#222" stroke-width="1.35"/>
<text x="604" y="731.84" font-family="'Liberation Sans', Arial, sans-serif" font-size="22" font-weight="bold" text-anchor="end">3</text>
<line x1="614.8" y1="686.3" x2="623.8" y2="686.3" stroke="#222" stroke-width="1.35"/>
<text x="604" y="694.22" font-family="'Liberation Sans', Arial, sans-serif" font-size="22" font-weight="bold" text-anchor="end">4</text>
<line x1="614.8" y1="648.67" x2="623.8" y2="648.67" stroke="#222" stroke-width="1.35"/>
<text x="604" y="656.59" font-family="'Liberation Sans', Arial, sans-serif" font-size="22" font-weight="bold" text-anchor="end">5</text>
<line x1="614.8" y1="611.05" x2="623.8" y2="611.05" stroke="#222" stroke-width="1.35"/>
<text x="604" y="618.97" font-family="'Liberation Sans', Arial, sans-serif" font-size="22" font-weight="bold" text-anchor="end">6</text>
<line x1="614.8" y1="573.42" x2="623.8" y2="573.42" stroke="#222" stroke-width="1.35"/>
<text x="604" y="581.34" font-family="'Liberation Sans', Arial, sans-serif" font-size="22" font-weight="bold" text-anchor="end">7</text>
<line x1="614.8" y1="535.8" x2="623.8" y2="535.8" stroke="#6a6a6a" stroke-width="1.7"/>
<text x="604" y="543.72" font-family="'Liberation Sans', Arial, sans-serif" font-size="22" font-weight="bold" text-anchor="end">8</text>
<line x1="641.1" y1="836.8" x2="641.1" y2="843.3" stroke="#222" stroke-width="1.35"/>
<text x="646.83" y="858.88" font-family="'Liberation Sans', Arial, sans-serif" font-size="17.5" font-weight="bold" text-anchor="end" transform="rotate(-45 646.83 858.88)" letter-spacing="-0.6">0</text>
<line x1="660.06" y1="836.8" x2="660.06" y2="843.3" stroke="#222" stroke-width="1.35"/>
<text x="665.79" y="858.88" font-family="'Liberation Sans', Arial, sans-serif" font-size="17.5" font-weight="bold" text-anchor="end" transform="rotate(-45 665.79 858.88)" letter-spacing="-0.6">2</text>
<line x1="679.02" y1="836.8" x2="679.02" y2="843.3" stroke="#222" stroke-width="1.35"/>
<text x="684.75" y="858.88" font-family="'Liberation Sans', Arial, sans-serif" font-size="17.5" font-weight="bold" text-anchor="end" transform="rotate(-45 684.75 858.88)" letter-spacing="-0.6">4</text>
<line x1="697.98" y1="836.8" x2="697.98" y2="843.3" stroke="#222" stroke-width="1.35"/>
<text x="703.71" y="858.88" font-family="'Liberation Sans', Arial, sans-serif" font-size="17.5" font-weight="bold" text-anchor="end" transform="rotate(-45 703.71 858.88)" letter-spacing="-0.6">6</text>
<line x1="716.94" y1="836.8" x2="716.94" y2="843.3" stroke="#222" stroke-width="1.35"/>
<text x="722.67" y="858.88" font-family="'Liberation Sans', Arial, sans-serif" font-size="17.5" font-weight="bold" text-anchor="end" transform="rotate(-45 722.67 858.88)" letter-spacing="-0.6">8</text>
<line x1="735.9" y1="836.8" x2="735.9" y2="843.3" stroke="#222" stroke-width="1.35"/>
<text x="741.63" y="858.88" font-family="'Liberation Sans', Arial, sans-serif" font-size="17.5" font-weight="bold" text-anchor="end" transform="rotate(-45 741.63 858.88)" letter-spacing="-0.6">10</text>
<line x1="754.86" y1="836.8" x2="754.86" y2="843.3" stroke="#222" stroke-width="1.35"/>
<text x="760.59" y="858.88" font-family="'Liberation Sans', Arial, sans-serif" font-size="17.5" font-weight="bold" text-anchor="end" transform="rotate(-45 760.59 858.88)" letter-spacing="-0.6">12</text>
<line x1="773.82" y1="836.8" x2="773.82" y2="843.3" stroke="#222" stroke-width="1.35"/>
<text x="779.55" y="858.88" font-family="'Liberation Sans', Arial, sans-serif" font-size="17.5" font-weight="bold" text-anchor="end" transform="rotate(-45 779.55 858.88)" letter-spacing="-0.6">14</text>
<line x1="792.78" y1="836.8" x2="792.78" y2="843.3" stroke="#222" stroke-width="1.35"/>
<text x="798.51" y="858.88" font-family="'Liberation Sans', Arial, sans-serif" font-size="17.5" font-weight="bold" text-anchor="end" transform="rotate(-45 798.51 858.88)" letter-spacing="-0.6">16</text>
<line x1="811.74" y1="836.8" x2="811.74" y2="843.3" stroke="#222" stroke-width="1.35"/>
<text x="817.47" y="858.88" font-family="'Liberation Sans', Arial, sans-serif" font-size="17.5" font-weight="bold" text-anchor="end" transform="rotate(-45 817.47 858.88)" letter-spacing="-0.6">18</text>
<line x1="830.7" y1="836.8" x2="830.7" y2="843.3" stroke="#222" stroke-width="1.35"/>
<text x="836.43" y="858.88" font-family="'Liberation Sans', Arial, sans-serif" font-size="17.5" font-weight="bold" text-anchor="end" transform="rotate(-45 836.43 858.88)" letter-spacing="-0.6">20</text>
<line x1="849.66" y1="836.8" x2="849.66" y2="843.3" stroke="#222" stroke-width="1.35"/>
<text x="855.39" y="858.88" font-family="'Liberation Sans', Arial, sans-serif" font-size="17.5" font-weight="bold" text-anchor="end" transform="rotate(-45 855.39 858.88)" letter-spacing="-0.6">22</text>
<line x1="868.62" y1="836.8" x2="868.62" y2="843.3" stroke="#222" stroke-width="1.35"/>
<text x="874.35" y="858.88" font-family="'Liberation Sans', Arial, sans-serif" font-size="17.5" font-weight="bold" text-anchor="end" transform="rotate(-45 874.35 858.88)" letter-spacing="-0.6">24</text>
<line x1="887.58" y1="836.8" x2="887.58" y2="843.3" stroke="#222" stroke-width="1.35"/>
<text x="893.31" y="858.88" font-family="'Liberation Sans', Arial, sans-serif" font-size="17.5" font-weight="bold" text-anchor="end" transform="rotate(-45 893.31 858.88)" letter-spacing="-0.6">26</text>
<line x1="906.54" y1="836.8" x2="906.54" y2="843.3" stroke="#222" stroke-width="1.35"/>
<text x="912.27" y="858.88" font-family="'Liberation Sans', Arial, sans-serif" font-size="17.5" font-weight="bold" text-anchor="end" transform="rotate(-45 912.27 858.88)" letter-spacing="-0.6">28</text>
<line x1="925.5" y1="836.8" x2="925.5" y2="843.3" stroke="#222" stroke-width="1.35"/>
<text x="931.23" y="858.88" font-family="'Liberation Sans', Arial, sans-serif" font-size="17.5" font-weight="bold" text-anchor="end" transform="rotate(-45 931.23 858.88)" letter-spacing="-0.6">30</text>
<text x="878.9" y="572.3" font-family="'Liberation Serif', 'Times New Roman', serif" font-size="38" font-weight="bold" text-anchor="start">D</text>
<polyline points="641.1,825.51 650.58,629.86 660.06,584.71" fill="none" stroke="#000" stroke-width="1.6"/>
<polyline points="641.1,825.51 650.58,611.05 660.06,597.88" fill="none" stroke="#000" stroke-width="1.6"/>
<polyline points="641.1,825.51 650.58,571.54 660.06,620.46 669.54,659.96 679.02,637.39 707.46,644.91" fill="none" stroke="#000" stroke-width="1.6"/>
<polyline points="641.1,825.51 650.58,588.47 660.06,633.62 669.54,637.39 679.02,607.29 707.46,802.94" fill="none" stroke="#000" stroke-width="1.6"/>
<polyline points="641.1,825.51 650.58,564.02 660.06,637.39 669.54,641.15 679.02,637.39 707.46,695.71 735.9,770.96" fill="none" stroke="#000" stroke-width="1.6"/>
<polyline points="641.1,825.51 650.58,644.91 660.06,629.86 669.54,641.15 679.02,659.96 707.46,684.42" fill="none" stroke="#000" stroke-width="1.6"/>
<circle cx="641.1" cy="825.51" r="6" fill="#8b0000" stroke="#000" stroke-width="1"/>
<circle cx="650.58" cy="629.86" r="6" fill="#8b0000" stroke="#000" stroke-width="1"/>
<circle cx="660.06" cy="584.71" r="6" fill="#8b0000" stroke="#000" stroke-width="1"/>
<path d="M641.1 832.33L648.1 821.33L634.1 821.33Z" fill="#c8d200" stroke="#000" stroke-width="1"/>
<path d="M650.58 617.87L657.58 606.87L643.58 606.87Z" fill="#c8d200" stroke="#000" stroke-width="1"/>
<path d="M660.06 604.7L667.06 593.7L653.06 593.7Z" fill="#c8d200" stroke="#000" stroke-width="1"/>
<rect x="635.3" y="819.71" width="11.6" height="11.6" fill="#650000" stroke="#000" stroke-width="1"/>
<rect x="644.78" y="565.74" width="11.6" height="11.6" fill="#650000" stroke="#000" stroke-width="1"/>
<rect x="654.26" y="614.66" width="11.6" height="11.6" fill="#650000" stroke="#000" stroke-width="1"/>
<rect x="663.74" y="654.16" width="11.6" height="11.6" fill="#650000" stroke="#000" stroke-width="1"/>
<rect x="673.22" y="631.59" width="11.6" height="11.6" fill="#650000" stroke="#000" stroke-width="1"/>
<rect x="701.66" y="639.11" width="11.6" height="11.6" fill="#650000" stroke="#000" stroke-width="1"/>
<path d="M641.1 818.31L648.3 825.51L641.1 832.71L633.9 825.51Z" fill="#ff8a00" stroke="#000" stroke-width="1"/>
<path d="M650.58 581.27L657.78 588.47L650.58 595.67L643.38 588.47Z" fill="#ff8a00" stroke="#000" stroke-width="1"/>
<path d="M660.06 626.42L667.26 633.62L660.06 640.83L652.86 633.62Z" fill="#ff8a00" stroke="#000" stroke-width="1"/>
<path d="M669.54 630.19L676.74 637.39L669.54 644.59L662.34 637.39Z" fill="#ff8a00" stroke="#000" stroke-width="1"/>
<path d="M679.02 600.09L686.22 607.29L679.02 614.49L671.82 607.29Z" fill="#ff8a00" stroke="#000" stroke-width="1"/>
<path d="M707.46 795.74L714.66 802.94L707.46 810.14L700.26 802.94Z" fill="#ff8a00" stroke="#000" stroke-width="1"/>
<path d="M641.1 818.69L648.1 829.69L634.1 829.69Z" fill="#a4520a" stroke="#000" stroke-width="1"/>
<path d="M650.58 557.2L657.58 568.2L643.58 568.2Z" fill="#a4520a" stroke="#000" stroke-width="1"/>
<path d="M660.06 630.57L667.06 641.57L653.06 641.57Z" fill="#a4520a" stroke="#000" stroke-width="1"/>
<path d="M669.54 634.33L676.54 645.33L662.54 645.33Z" fill="#a4520a" stroke="#000" stroke-width="1"/>
<path d="M679.02 630.57L686.02 641.57L672.02 641.57Z" fill="#a4520a" stroke="#000" stroke-width="1"/>
<path d="M707.46 688.89L714.46 699.89L700.46 699.89Z" fill="#a4520a" stroke="#000" stroke-width="1"/>
<path d="M735.9 764.14L742.9 775.14L728.9 775.14Z" fill="#a4520a" stroke="#000" stroke-width="1"/>
<polygon points="641.1,819.21 635.37,822.36 635.37,828.66 641.1,831.81 646.83,828.66 646.83,822.36" fill="#8a8a00" stroke="#000" stroke-width="1"/>
<polygon points="650.58,638.61 644.85,641.76 644.85,648.06 650.58,651.21 656.31,648.06 656.31,641.76" fill="#8a8a00" stroke="#000" stroke-width="1"/>
<polygon points="660.06,623.56 654.33,626.71 654.33,633.01 660.06,636.16 665.79,633.01 665.79,626.71" fill="#8a8a00" stroke="#000" stroke-width="1"/>
<polygon points="669.54,634.85 663.81,638 663.81,644.3 669.54,647.45 675.27,644.3 675.27,638" fill="#8a8a00" stroke="#000" stroke-width="1"/>
<polygon points="679.02,653.66 673.29,656.81 673.29,663.11 679.02,666.26 684.75,663.11 684.75,656.81" fill="#8a8a00" stroke="#000" stroke-width="1"/>
<polygon points="707.46,678.12 701.73,681.27 701.73,687.57 707.46,690.72 713.19,687.57 713.19,681.27" fill="#8a8a00" stroke="#000" stroke-width="1"/>
<rect x="125.5" y="967.4" width="328.5" height="328.4" fill="none" stroke="#6a6a6a" stroke-width="1.7"/>
<line x1="116.5" y1="1295.8" x2="454.85" y2="1295.8" stroke="#333" stroke-width="1.8"/>
<line x1="125.5" y1="967.4" x2="125.5" y2="1295.8" stroke="#1a1a1a" stroke-width="1.6"/>
<line x1="454" y1="966.55" x2="454" y2="1295.8" stroke="#333" stroke-width="1.8"/>
<line x1="116.5" y1="1295.8" x2="125.5" y2="1295.8" stroke="#6a6a6a" stroke-width="1.7"/>
<text x="103.5" y="1303.72" font-family="'Liberation Sans', Arial, sans-serif" font-size="22" font-weight="bold" text-anchor="end">1</text>
<line x1="116.5" y1="1241.07" x2="125.5" y2="1241.07" stroke="#222" stroke-width="1.35"/>
<text x="103.5" y="1248.99" font-family="'Liberation Sans', Arial, sans-serif" font-size="22" font-weight="bold" text-anchor="end">2</text>
<line x1="116.5" y1="1186.33" x2="125.5" y2="1186.33" stroke="#222" stroke-width="1.35"/>
<text x="103.5" y="1194.25" font-family="'Liberation Sans', Arial, sans-serif" font-size="22" font-weight="bold" text-anchor="end">3</text>
<line x1="116.5" y1="1131.6" x2="125.5" y2="1131.6" stroke="#222" stroke-width="1.35"/>
<text x="103.5" y="1139.52" font-family="'Liberation Sans', Arial, sans-serif" font-size="22" font-weight="bold" text-anchor="end">4</text>
<line x1="116.5" y1="1076.87" x2="125.5" y2="1076.87" stroke="#222" stroke-width="1.35"/>
<text x="103.5" y="1084.79" font-family="'Liberation Sans', Arial, sans-serif" font-size="22" font-weight="bold" text-anchor="end">5</text>
<line x1="116.5" y1="1022.13" x2="125.5" y2="1022.13" stroke="#222" stroke-width="1.35"/>
<text x="103.5" y="1030.05" font-family="'Liberation Sans', Arial, sans-serif" font-size="22" font-weight="bold" text-anchor="end">6</text>
<line x1="116.5" y1="967.4" x2="125.5" y2="967.4" stroke="#6a6a6a" stroke-width="1.7"/>
<text x="103.5" y="975.32" font-family="'Liberation Sans', Arial, sans-serif" font-size="22" font-weight="bold" text-anchor="end">7</text>
<line x1="150.4" y1="1295.8" x2="150.4" y2="1302.3" stroke="#222" stroke-width="1.35"/>
<text x="156.84" y="1321.6" font-family="'Liberation Sans', Arial, sans-serif" font-size="21.5" font-weight="bold" text-anchor="end" transform="rotate(-45 156.84 1321.6)" letter-spacing="-0.8">0</text>
<line x1="177.99" y1="1295.8" x2="177.99" y2="1302.3" stroke="#222" stroke-width="1.35"/>
<text x="184.43" y="1321.6" font-family="'Liberation Sans', Arial, sans-serif" font-size="21.5" font-weight="bold" text-anchor="end" transform="rotate(-45 184.43 1321.6)" letter-spacing="-0.8">1</text>
<line x1="205.58" y1="1295.8" x2="205.58" y2="1302.3" stroke="#222" stroke-width="1.35"/>
<text x="212.02" y="1321.6" font-family="'Liberation Sans', Arial, sans-serif" font-size="21.5" font-weight="bold" text-anchor="end" transform="rotate(-45 212.02 1321.6)" letter-spacing="-0.8">2</text>
<line x1="233.17" y1="1295.8" x2="233.17" y2="1302.3" stroke="#222" stroke-width="1.35"/>
<text x="239.61" y="1321.6" font-family="'Liberation Sans', Arial, sans-serif" font-size="21.5" font-weight="bold" text-anchor="end" transform="rotate(-45 239.61 1321.6)" letter-spacing="-0.8">3</text>
<line x1="260.76" y1="1295.8" x2="260.76" y2="1302.3" stroke="#222" stroke-width="1.35"/>
<text x="267.2" y="1321.6" font-family="'Liberation Sans', Arial, sans-serif" font-size="21.5" font-weight="bold" text-anchor="end" transform="rotate(-45 267.2 1321.6)" letter-spacing="-0.8">4</text>
<line x1="288.35" y1="1295.8" x2="288.35" y2="1302.3" stroke="#222" stroke-width="1.35"/>
<text x="294.79" y="1321.6" font-family="'Liberation Sans', Arial, sans-serif" font-size="21.5" font-weight="bold" text-anchor="end" transform="rotate(-45 294.79 1321.6)" letter-spacing="-0.8">5</text>
<line x1="315.94" y1="1295.8" x2="315.94" y2="1302.3" stroke="#222" stroke-width="1.35"/>
<text x="322.38" y="1321.6" font-family="'Liberation Sans', Arial, sans-serif" font-size="21.5" font-weight="bold" text-anchor="end" transform="rotate(-45 322.38 1321.6)" letter-spacing="-0.8">6</text>
<line x1="343.53" y1="1295.8" x2="343.53" y2="1302.3" stroke="#222" stroke-width="1.35"/>
<text x="349.97" y="1321.6" font-family="'Liberation Sans', Arial, sans-serif" font-size="21.5" font-weight="bold" text-anchor="end" transform="rotate(-45 349.97 1321.6)" letter-spacing="-0.8">7</text>
<line x1="371.12" y1="1295.8" x2="371.12" y2="1302.3" stroke="#222" stroke-width="1.35"/>
<text x="377.56" y="1321.6" font-family="'Liberation Sans', Arial, sans-serif" font-size="21.5" font-weight="bold" text-anchor="end" transform="rotate(-45 377.56 1321.6)" letter-spacing="-0.8">8</text>
<line x1="398.71" y1="1295.8" x2="398.71" y2="1302.3" stroke="#222" stroke-width="1.35"/>
<text x="405.15" y="1321.6" font-family="'Liberation Sans', Arial, sans-serif" font-size="21.5" font-weight="bold" text-anchor="end" transform="rotate(-45 405.15 1321.6)" letter-spacing="-0.8">9</text>
<line x1="426.3" y1="1295.8" x2="426.3" y2="1302.3" stroke="#222" stroke-width="1.35"/>
<text x="432.74" y="1321.6" font-family="'Liberation Sans', Arial, sans-serif" font-size="21.5" font-weight="bold" text-anchor="end" transform="rotate(-45 432.74 1321.6)" letter-spacing="-0.8">10</text>
<line x1="453.89" y1="1295.8" x2="453.89" y2="1302.3" stroke="#222" stroke-width="1.35"/>
<text x="460.33" y="1321.6" font-family="'Liberation Sans', Arial, sans-serif" font-size="21.5" font-weight="bold" text-anchor="end" transform="rotate(-45 460.33 1321.6)" letter-spacing="-0.8">11</text>
<text x="407.9" y="1000.6" font-family="'Liberation Serif', 'Times New Roman', serif" font-size="38" font-weight="bold" text-anchor="start">E</text>
<polyline points="150.4,1279.38 177.99,1279.38 205.58,1054.97" fill="none" stroke="#000" stroke-width="1.75" stroke-dasharray="7,4"/>
<polyline points="150.4,1279.38 177.99,1194.54 205.58,1071.39" fill="none" stroke="#b89c9c" stroke-width="1.75" stroke-dasharray="1.2,3.5"/>
<polyline points="150.4,1279.38 177.99,1279.38 205.58,1087.81 233.17,1106.97 260.76,1104.23 288.35,1087.81 315.94,1131.6 343.53,1183.6 371.12,1175.39 398.71,1279.38" fill="none" stroke="#000" stroke-width="1.75" stroke-dasharray="14,3"/>
<polyline points="150.4,1279.38 177.99,1076.87 205.58,1090.55 233.17,1087.81 260.76,1158.97 288.35,1139.81 315.94,1148.02 343.53,1145.28 398.71,1142.55 426.3,1279.38" fill="none" stroke="#000" stroke-width="1.75" stroke-dasharray="8,8"/>
<polyline points="150.4,1279.38 177.99,1074.13 205.58,1060.45 233.17,1027.61 260.76,1112.44 288.35,1087.81 315.94,1109.71 343.53,1109.71 371.12,1279.38 398.71,1279.38 426.3,1150.76" fill="none" stroke="#000" stroke-width="1.75" stroke-dasharray="11,4"/>
<polyline points="150.4,1279.38 177.99,1038.55 205.58,1093.29 233.17,1041.29 288.35,1104.23 343.53,1054.97 371.12,1123.39 398.71,1109.71 426.3,1279.38" fill="none" stroke="#000" stroke-width="1.75" stroke-dasharray="14,6"/>
<circle cx="150.4" cy="1279.38" r="6.72" fill="#8b0000" stroke="#000" stroke-width="1"/>
<circle cx="177.99" cy="1279.38" r="6.72" fill="#8b0000" stroke="#000" stroke-width="1"/>
<circle cx="205.58" cy="1054.97" r="6.72" fill="#8b0000" stroke="#000" stroke-width="1"/>
<path d="M150.4 1287.02L158.24 1274.7L142.56 1274.7Z" fill="#c8d200" stroke="#000" stroke-width="1"/>
<path d="M177.99 1202.18L185.83 1189.86L170.15 1189.86Z" fill="#c8d200" stroke="#000" stroke-width="1"/>
<path d="M205.58 1079.03L213.42 1066.71L197.74 1066.71Z" fill="#c8d200" stroke="#000" stroke-width="1"/>
<rect x="143.9" y="1272.88" width="12.99" height="12.99" fill="#650000" stroke="#000" stroke-width="1"/>
<rect x="171.49" y="1272.88" width="12.99" height="12.99" fill="#650000" stroke="#000" stroke-width="1"/>
<rect x="199.08" y="1081.32" width="12.99" height="12.99" fill="#650000" stroke="#000" stroke-width="1"/>
<rect x="226.67" y="1100.47" width="12.99" height="12.99" fill="#650000" stroke="#000" stroke-width="1"/>
<rect x="254.26" y="1097.74" width="12.99" height="12.99" fill="#650000" stroke="#000" stroke-width="1"/>
<rect x="281.85" y="1081.32" width="12.99" height="12.99" fill="#650000" stroke="#000" stroke-width="1"/>
<rect x="309.44" y="1125.1" width="12.99" height="12.99" fill="#650000" stroke="#000" stroke-width="1"/>
<rect x="337.03" y="1177.1" width="12.99" height="12.99" fill="#650000" stroke="#000" stroke-width="1"/>
<rect x="364.62" y="1168.89" width="12.99" height="12.99" fill="#650000" stroke="#000" stroke-width="1"/>
<rect x="392.21" y="1272.88" width="12.99" height="12.99" fill="#650000" stroke="#000" stroke-width="1"/>
<path d="M150.4 1271.32L158.46 1279.38L150.4 1287.44L142.34 1279.38Z" fill="#ff8a00" stroke="#000" stroke-width="1"/>
<path d="M177.99 1068.8L186.05 1076.87L177.99 1084.93L169.93 1076.87Z" fill="#ff8a00" stroke="#000" stroke-width="1"/>
<path d="M205.58 1082.49L213.64 1090.55L205.58 1098.61L197.52 1090.55Z" fill="#ff8a00" stroke="#000" stroke-width="1"/>
<path d="M233.17 1079.75L241.23 1087.81L233.17 1095.88L225.11 1087.81Z" fill="#ff8a00" stroke="#000" stroke-width="1"/>
<path d="M260.76 1150.9L268.82 1158.97L260.76 1167.03L252.7 1158.97Z" fill="#ff8a00" stroke="#000" stroke-width="1"/>
<path d="M288.35 1131.75L296.41 1139.81L288.35 1147.87L280.29 1139.81Z" fill="#ff8a00" stroke="#000" stroke-width="1"/>
<path d="M315.94 1139.96L324 1148.02L315.94 1156.08L307.88 1148.02Z" fill="#ff8a00" stroke="#000" stroke-width="1"/>
<path d="M343.53 1137.22L351.59 1145.28L343.53 1153.35L335.47 1145.28Z" fill="#ff8a00" stroke="#000" stroke-width="1"/>
<path d="M398.71 1134.48L406.77 1142.55L398.71 1150.61L390.65 1142.55Z" fill="#ff8a00" stroke="#000" stroke-width="1"/>
<path d="M426.3 1271.32L434.36 1279.38L426.3 1287.44L418.24 1279.38Z" fill="#ff8a00" stroke="#000" stroke-width="1"/>
<path d="M150.4 1271.74L158.24 1284.06L142.56 1284.06Z" fill="#a4520a" stroke="#000" stroke-width="1"/>
<path d="M177.99 1066.49L185.83 1078.81L170.15 1078.81Z" fill="#a4520a" stroke="#000" stroke-width="1"/>
<path d="M205.58 1052.81L213.42 1065.13L197.74 1065.13Z" fill="#a4520a" stroke="#000" stroke-width="1"/>
<path d="M233.17 1019.97L241.01 1032.29L225.33 1032.29Z" fill="#a4520a" stroke="#000" stroke-width="1"/>
<path d="M260.76 1104.8L268.6 1117.12L252.92 1117.12Z" fill="#a4520a" stroke="#000" stroke-width="1"/>
<path d="M288.35 1080.17L296.19 1092.49L280.51 1092.49Z" fill="#a4520a" stroke="#000" stroke-width="1"/>
<path d="M315.94 1102.07L323.78 1114.39L308.1 1114.39Z" fill="#a4520a" stroke="#000" stroke-width="1"/>
<path d="M343.53 1102.07L351.37 1114.39L335.69 1114.39Z" fill="#a4520a" stroke="#000" stroke-width="1"/>
<path d="M371.12 1271.74L378.96 1284.06L363.28 1284.06Z" fill="#a4520a" stroke="#000" stroke-width="1"/>
<path d="M398.71 1271.74L406.55 1284.06L390.87 1284.06Z" fill="#a4520a" stroke="#000" stroke-width="1"/>
<path d="M426.3 1143.12L434.14 1155.44L418.46 1155.44Z" fill="#a4520a" stroke="#000" stroke-width="1"/>
<polygon points="150.4,1272.32 143.98,1275.85 143.98,1282.91 150.4,1286.44 156.82,1282.91 156.82,1275.85" fill="#8a8a00" stroke="#000" stroke-width="1"/>
<polygon points="177.99,1031.5 171.57,1035.03 171.57,1042.08 177.99,1045.61 184.41,1042.08 184.41,1035.03" fill="#8a8a00" stroke="#000" stroke-width="1"/>
<polygon points="205.58,1086.23 199.16,1089.76 199.16,1096.81 205.58,1100.34 212,1096.81 212,1089.76" fill="#8a8a00" stroke="#000" stroke-width="1"/>
<polygon points="233.17,1034.23 226.75,1037.76 226.75,1044.82 233.17,1048.35 239.59,1044.82 239.59,1037.76" fill="#8a8a00" stroke="#000" stroke-width="1"/>
<polygon points="288.35,1097.18 281.93,1100.71 281.93,1107.76 288.35,1111.29 294.77,1107.76 294.77,1100.71" fill="#8a8a00" stroke="#000" stroke-width="1"/>
<polygon points="343.53,1047.92 337.11,1051.45 337.11,1058.5 343.53,1062.03 349.95,1058.5 349.95,1051.45" fill="#8a8a00" stroke="#000" stroke-width="1"/>
<polygon points="371.12,1116.33 364.7,1119.86 364.7,1126.92 371.12,1130.45 377.54,1126.92 377.54,1119.86" fill="#8a8a00" stroke="#000" stroke-width="1"/>
<polygon points="398.71,1102.65 392.29,1106.18 392.29,1113.23 398.71,1116.76 405.13,1113.23 405.13,1106.18" fill="#8a8a00" stroke="#000" stroke-width="1"/>
<polygon points="426.3,1272.32 419.88,1275.85 419.88,1282.91 426.3,1286.44 432.72,1282.91 432.72,1275.85" fill="#8a8a00" stroke="#000" stroke-width="1"/>
<rect x="593.6" y="967.4" width="327.8" height="328.4" fill="none" stroke="#6a6a6a" stroke-width="1.7"/>
<line x1="584.6" y1="1295.8" x2="922.25" y2="1295.8" stroke="#333" stroke-width="1.8"/>
<line x1="921.4" y1="966.55" x2="921.4" y2="1295.8" stroke="#333" stroke-width="1.8"/>
<line x1="584.6" y1="1295.8" x2="593.6" y2="1295.8" stroke="#6a6a6a" stroke-width="1.7"/>
<text x="572" y="1303.72" font-family="'Liberation Sans', Arial, sans-serif" font-size="22" font-weight="bold" text-anchor="end">1</text>
<line x1="584.6" y1="1241.07" x2="593.6" y2="1241.07" stroke="#222" stroke-width="1.35"/>
<text x="572" y="1248.99" font-family="'Liberation Sans', Arial, sans-serif" font-size="22" font-weight="bold" text-anchor="end">2</text>
<line x1="584.6" y1="1186.33" x2="593.6" y2="1186.33" stroke="#222" stroke-width="1.35"/>
<text x="572" y="1194.25" font-family="'Liberation Sans', Arial, sans-serif" font-size="22" font-weight="bold" text-anchor="end">3</text>
<line x1="584.6" y1="1131.6" x2="593.6" y2="1131.6" stroke="#222" stroke-width="1.35"/>
<text x="572" y="1139.52" font-family="'Liberation Sans', Arial, sans-serif" font-size="22" font-weight="bold" text-anchor="end">4</text>
<line x1="584.6" y1="1076.87" x2="593.6" y2="1076.87" stroke="#222" stroke-width="1.35"/>
<text x="572" y="1084.79" font-family="'Liberation Sans', Arial, sans-serif" font-size="22" font-weight="bold" text-anchor="end">5</text>
<line x1="584.6" y1="1022.13" x2="593.6" y2="1022.13" stroke="#222" stroke-width="1.35"/>
<text x="572" y="1030.05" font-family="'Liberation Sans', Arial, sans-serif" font-size="22" font-weight="bold" text-anchor="end">6</text>
<line x1="584.6" y1="967.4" x2="593.6" y2="967.4" stroke="#6a6a6a" stroke-width="1.7"/>
<text x="572" y="975.32" font-family="'Liberation Sans', Arial, sans-serif" font-size="22" font-weight="bold" text-anchor="end">7</text>
<line x1="617.7" y1="1295.8" x2="617.7" y2="1302.3" stroke="#222" stroke-width="1.35"/>
<text x="624.14" y="1321.6" font-family="'Liberation Sans', Arial, sans-serif" font-size="21.5" font-weight="bold" text-anchor="end" transform="rotate(-45 624.14 1321.6)" letter-spacing="-0.8">0</text>
<line x1="645.31" y1="1295.8" x2="645.31" y2="1302.3" stroke="#222" stroke-width="1.35"/>
<text x="651.75" y="1321.6" font-family="'Liberation Sans', Arial, sans-serif" font-size="21.5" font-weight="bold" text-anchor="end" transform="rotate(-45 651.75 1321.6)" letter-spacing="-0.8">1</text>
<line x1="672.92" y1="1295.8" x2="672.92" y2="1302.3" stroke="#222" stroke-width="1.35"/>
<text x="679.36" y="1321.6" font-family="'Liberation Sans', Arial, sans-serif" font-size="21.5" font-weight="bold" text-anchor="end" transform="rotate(-45 679.36 1321.6)" letter-spacing="-0.8">2</text>
<line x1="700.53" y1="1295.8" x2="700.53" y2="1302.3" stroke="#222" stroke-width="1.35"/>
<text x="706.97" y="1321.6" font-family="'Liberation Sans', Arial, sans-serif" font-size="21.5" font-weight="bold" text-anchor="end" transform="rotate(-45 706.97 1321.6)" letter-spacing="-0.8">3</text>
<line x1="728.14" y1="1295.8" x2="728.14" y2="1302.3" stroke="#222" stroke-width="1.35"/>
<text x="734.58" y="1321.6" font-family="'Liberation Sans', Arial, sans-serif" font-size="21.5" font-weight="bold" text-anchor="end" transform="rotate(-45 734.58 1321.6)" letter-spacing="-0.8">4</text>
<line x1="755.75" y1="1295.8" x2="755.75" y2="1302.3" stroke="#222" stroke-width="1.35"/>
<text x="762.19" y="1321.6" font-family="'Liberation Sans', Arial, sans-serif" font-size="21.5" font-weight="bold" text-anchor="end" transform="rotate(-45 762.19 1321.6)" letter-spacing="-0.8">5</text>
<line x1="783.36" y1="1295.8" x2="783.36" y2="1302.3" stroke="#222" stroke-width="1.35"/>
<text x="789.8" y="1321.6" font-family="'Liberation Sans', Arial, sans-serif" font-size="21.5" font-weight="bold" text-anchor="end" transform="rotate(-45 789.8 1321.6)" letter-spacing="-0.8">6</text>
<line x1="810.97" y1="1295.8" x2="810.97" y2="1302.3" stroke="#222" stroke-width="1.35"/>
<text x="817.41" y="1321.6" font-family="'Liberation Sans', Arial, sans-serif" font-size="21.5" font-weight="bold" text-anchor="end" transform="rotate(-45 817.41 1321.6)" letter-spacing="-0.8">7</text>
<line x1="838.58" y1="1295.8" x2="838.58" y2="1302.3" stroke="#222" stroke-width="1.35"/>
<text x="845.02" y="1321.6" font-family="'Liberation Sans', Arial, sans-serif" font-size="21.5" font-weight="bold" text-anchor="end" transform="rotate(-45 845.02 1321.6)" letter-spacing="-0.8">8</text>
<line x1="866.19" y1="1295.8" x2="866.19" y2="1302.3" stroke="#222" stroke-width="1.35"/>
<text x="872.63" y="1321.6" font-family="'Liberation Sans', Arial, sans-serif" font-size="21.5" font-weight="bold" text-anchor="end" transform="rotate(-45 872.63 1321.6)" letter-spacing="-0.8">9</text>
<line x1="893.8" y1="1295.8" x2="893.8" y2="1302.3" stroke="#222" stroke-width="1.35"/>
<text x="900.24" y="1321.6" font-family="'Liberation Sans', Arial, sans-serif" font-size="21.5" font-weight="bold" text-anchor="end" transform="rotate(-45 900.24 1321.6)" letter-spacing="-0.8">10</text>
<line x1="921.41" y1="1295.8" x2="921.41" y2="1302.3" stroke="#222" stroke-width="1.35"/>
<text x="927.85" y="1321.6" font-family="'Liberation Sans', Arial, sans-serif" font-size="21.5" font-weight="bold" text-anchor="end" transform="rotate(-45 927.85 1321.6)" letter-spacing="-0.8">11</text>
<text x="870.4" y="999.8" font-family="'Liberation Serif', 'Times New Roman', serif" font-size="38" font-weight="bold" text-anchor="start">F</text>
<polyline points="617.7,1279.38 645.31,1169.91 672.92,1169.91" fill="none" stroke="#000" stroke-width="1.75" stroke-dasharray="7,4"/>
<polyline points="617.7,1279.38 645.31,1213.7 672.92,1216.44" fill="none" stroke="#b89c9c" stroke-width="1.75" stroke-dasharray="1.2,3.5"/>
<polyline points="617.7,1279.38 645.31,1194.54 672.92,1194.54 700.53,1232.86 728.14,1232.86 755.75,1213.7 783.36,1246.54 810.97,1279.38 838.58,1279.38 866.19,1279.38" fill="none" stroke="#000" stroke-width="1.75" stroke-dasharray="14,3"/>
<polyline points="617.7,1279.38 645.31,1210.96 672.92,1210.96 700.53,1208.23 755.75,1243.8 783.36,1216.44 810.97,1279.38 838.58,1279.38 866.19,1246.54 893.8,1279.38" fill="none" stroke="#000" stroke-width="1.75" stroke-dasharray="8,8"/>
<polyline points="617.7,1279.38 645.31,1202.75 672.92,1134.34 700.53,1120.65 728.14,1213.7 755.75,1194.54 783.36,1205.49 810.97,1189.07 838.58,1279.38 866.19,1279.38 893.8,1279.38" fill="none" stroke="#000" stroke-width="1.75" stroke-dasharray="11,4"/>
<polyline points="617.7,1279.38 645.31,1137.07 672.92,1213.7 700.53,1137.07 728.14,1148.02 755.75,1197.28 810.97,1161.7 838.58,1079.6 866.19,1205.49 893.8,1164.44" fill="none" stroke="#000" stroke-width="1.75" stroke-dasharray="14,6"/>
<circle cx="617.7" cy="1279.38" r="6.72" fill="#8b0000" stroke="#000" stroke-width="1"/>
<circle cx="645.31" cy="1169.91" r="6.72" fill="#8b0000" stroke="#000" stroke-width="1"/>
<circle cx="672.92" cy="1169.91" r="6.72" fill="#8b0000" stroke="#000" stroke-width="1"/>
<path d="M617.7 1287.02L625.54 1274.7L609.86 1274.7Z" fill="#c8d200" stroke="#000" stroke-width="1"/>
<path d="M645.31 1221.34L653.15 1209.02L637.47 1209.02Z" fill="#c8d200" stroke="#000" stroke-width="1"/>
<path d="M672.92 1224.08L680.76 1211.76L665.08 1211.76Z" fill="#c8d200" stroke="#000" stroke-width="1"/>
<rect x="611.2" y="1272.88" width="12.99" height="12.99" fill="#650000" stroke="#000" stroke-width="1"/>
<rect x="638.81" y="1188.05" width="12.99" height="12.99" fill="#650000" stroke="#000" stroke-width="1"/>
<rect x="666.42" y="1188.05" width="12.99" height="12.99" fill="#650000" stroke="#000" stroke-width="1"/>
<rect x="694.03" y="1226.36" width="12.99" height="12.99" fill="#650000" stroke="#000" stroke-width="1"/>
<rect x="721.64" y="1226.36" width="12.99" height="12.99" fill="#650000" stroke="#000" stroke-width="1"/>
<rect x="749.25" y="1207.2" width="12.99" height="12.99" fill="#650000" stroke="#000" stroke-width="1"/>
<rect x="776.86" y="1240.04" width="12.99" height="12.99" fill="#650000" stroke="#000" stroke-width="1"/>
<rect x="804.47" y="1272.88" width="12.99" height="12.99" fill="#650000" stroke="#000" stroke-width="1"/>
<rect x="832.08" y="1272.88" width="12.99" height="12.99" fill="#650000" stroke="#000" stroke-width="1"/>
<rect x="859.69" y="1272.88" width="12.99" height="12.99" fill="#650000" stroke="#000" stroke-width="1"/>
<path d="M617.7 1271.32L625.76 1279.38L617.7 1287.44L609.64 1279.38Z" fill="#ff8a00" stroke="#000" stroke-width="1"/>
<path d="M645.31 1202.9L653.37 1210.96L645.31 1219.03L637.25 1210.96Z" fill="#ff8a00" stroke="#000" stroke-width="1"/>
<path d="M672.92 1202.9L680.98 1210.96L672.92 1219.03L664.86 1210.96Z" fill="#ff8a00" stroke="#000" stroke-width="1"/>
<path d="M700.53 1200.16L708.59 1208.23L700.53 1216.29L692.47 1208.23Z" fill="#ff8a00" stroke="#000" stroke-width="1"/>
<path d="M755.75 1235.74L763.81 1243.8L755.75 1251.87L747.69 1243.8Z" fill="#ff8a00" stroke="#000" stroke-width="1"/>
<path d="M783.36 1208.37L791.42 1216.44L783.36 1224.5L775.3 1216.44Z" fill="#ff8a00" stroke="#000" stroke-width="1"/>
<path d="M810.97 1271.32L819.03 1279.38L810.97 1287.44L802.91 1279.38Z" fill="#ff8a00" stroke="#000" stroke-width="1"/>
<path d="M838.58 1271.32L846.64 1279.38L838.58 1287.44L830.52 1279.38Z" fill="#ff8a00" stroke="#000" stroke-width="1"/>
<path d="M866.19 1238.48L874.25 1246.54L866.19 1254.6L858.13 1246.54Z" fill="#ff8a00" stroke="#000" stroke-width="1"/>
<path d="M893.8 1271.32L901.86 1279.38L893.8 1287.44L885.74 1279.38Z" fill="#ff8a00" stroke="#000" stroke-width="1"/>
<path d="M617.7 1271.74L625.54 1284.06L609.86 1284.06Z" fill="#a4520a" stroke="#000" stroke-width="1"/>
<path d="M645.31 1195.11L653.15 1207.43L637.47 1207.43Z" fill="#a4520a" stroke="#000" stroke-width="1"/>
<path d="M672.92 1126.7L680.76 1139.02L665.08 1139.02Z" fill="#a4520a" stroke="#000" stroke-width="1"/>
<path d="M700.53 1113.01L708.37 1125.33L692.69 1125.33Z" fill="#a4520a" stroke="#000" stroke-width="1"/>
<path d="M728.14 1206.06L735.98 1218.38L720.3 1218.38Z" fill="#a4520a" stroke="#000" stroke-width="1"/>
<path d="M755.75 1186.9L763.59 1199.22L747.91 1199.22Z" fill="#a4520a" stroke="#000" stroke-width="1"/>
<path d="M783.36 1197.85L791.2 1210.17L775.52 1210.17Z" fill="#a4520a" stroke="#000" stroke-width="1"/>
<path d="M810.97 1181.43L818.81 1193.75L803.13 1193.75Z" fill="#a4520a" stroke="#000" stroke-width="1"/>
<path d="M838.58 1271.74L846.42 1284.06L830.74 1284.06Z" fill="#a4520a" stroke="#000" stroke-width="1"/>
<path d="M866.19 1271.74L874.03 1284.06L858.35 1284.06Z" fill="#a4520a" stroke="#000" stroke-width="1"/>
<path d="M893.8 1271.74L901.64 1284.06L885.96 1284.06Z" fill="#a4520a" stroke="#000" stroke-width="1"/>
<polygon points="617.7,1272.32 611.28,1275.85 611.28,1282.91 617.7,1286.44 624.12,1282.91 624.12,1275.85" fill="#8a8a00" stroke="#000" stroke-width="1"/>
<polygon points="645.31,1130.02 638.89,1133.55 638.89,1140.6 645.31,1144.13 651.73,1140.6 651.73,1133.55" fill="#8a8a00" stroke="#000" stroke-width="1"/>
<polygon points="672.92,1206.64 666.5,1210.17 666.5,1217.23 672.92,1220.76 679.34,1217.23 679.34,1210.17" fill="#8a8a00" stroke="#000" stroke-width="1"/>
<polygon points="700.53,1130.02 694.11,1133.55 694.11,1140.6 700.53,1144.13 706.95,1140.6 706.95,1133.55" fill="#8a8a00" stroke="#000" stroke-width="1"/>
<polygon points="728.14,1140.96 721.72,1144.49 721.72,1151.55 728.14,1155.08 734.56,1151.55 734.56,1144.49" fill="#8a8a00" stroke="#000" stroke-width="1"/>
<polygon points="755.75,1190.22 749.33,1193.75 749.33,1200.81 755.75,1204.34 762.17,1200.81 762.17,1193.75" fill="#8a8a00" stroke="#000" stroke-width="1"/>
<polygon points="810.97,1154.65 804.55,1158.18 804.55,1165.23 810.97,1168.76 817.39,1165.23 817.39,1158.18" fill="#8a8a00" stroke="#000" stroke-width="1"/>
<polygon points="838.58,1072.55 832.16,1076.08 832.16,1083.13 838.58,1086.66 845,1083.13 845,1076.08" fill="#8a8a00" stroke="#000" stroke-width="1"/>
<polygon points="866.19,1198.43 859.77,1201.96 859.77,1209.02 866.19,1212.55 872.61,1209.02 872.61,1201.96" fill="#8a8a00" stroke="#000" stroke-width="1"/>
<polygon points="893.8,1157.38 887.38,1160.91 887.38,1167.97 893.8,1171.5 900.22,1167.97 900.22,1160.91" fill="#8a8a00" stroke="#000" stroke-width="1"/>
<rect x="1107.6" y="88.5" width="306" height="306.5" fill="none" stroke="#6a6a6a" stroke-width="1.7"/>
<line x1="1098.6" y1="395" x2="1107.6" y2="395" stroke="#6a6a6a" stroke-width="1.7"/>
<text x="1087.5" y="403.1" font-family="'Liberation Sans', Arial, sans-serif" font-size="22.5" font-weight="bold" text-anchor="end">1</text>
<line x1="1098.6" y1="360.94" x2="1107.6" y2="360.94" stroke="#222" stroke-width="1.35"/>
<text x="1087.5" y="369.04" font-family="'Liberation Sans', Arial, sans-serif" font-size="22.5" font-weight="bold" text-anchor="end">2</text>
<line x1="1098.6" y1="326.89" x2="1107.6" y2="326.89" stroke="#222" stroke-width="1.35"/>
<text x="1087.5" y="334.99" font-family="'Liberation Sans', Arial, sans-serif" font-size="22.5" font-weight="bold" text-anchor="end">3</text>
<line x1="1098.6" y1="292.83" x2="1107.6" y2="292.83" stroke="#222" stroke-width="1.35"/>
<text x="1087.5" y="300.93" font-family="'Liberation Sans', Arial, sans-serif" font-size="22.5" font-weight="bold" text-anchor="end">4</text>
<line x1="1098.6" y1="258.78" x2="1107.6" y2="258.78" stroke="#222" stroke-width="1.35"/>
<text x="1087.5" y="266.88" font-family="'Liberation Sans', Arial, sans-serif" font-size="22.5" font-weight="bold" text-anchor="end">5</text>
<line x1="1098.6" y1="224.72" x2="1107.6" y2="224.72" stroke="#222" stroke-width="1.35"/>
<text x="1087.5" y="232.82" font-family="'Liberation Sans', Arial, sans-serif" font-size="22.5" font-weight="bold" text-anchor="end">6</text>
<line x1="1098.6" y1="190.67" x2="1107.6" y2="190.67" stroke="#222" stroke-width="1.35"/>
<text x="1087.5" y="198.77" font-family="'Liberation Sans', Arial, sans-serif" font-size="22.5" font-weight="bold" text-anchor="end">7</text>
<line x1="1098.6" y1="156.61" x2="1107.6" y2="156.61" stroke="#222" stroke-width="1.35"/>
<text x="1087.5" y="164.71" font-family="'Liberation Sans', Arial, sans-serif" font-size="22.5" font-weight="bold" text-anchor="end">8</text>
<line x1="1098.6" y1="122.56" x2="1107.6" y2="122.56" stroke="#222" stroke-width="1.35"/>
<text x="1087.5" y="130.66" font-family="'Liberation Sans', Arial, sans-serif" font-size="22.5" font-weight="bold" text-anchor="end">9</text>
<line x1="1098.6" y1="88.5" x2="1107.6" y2="88.5" stroke="#6a6a6a" stroke-width="1.7"/>
<text x="1087.5" y="96.6" font-family="'Liberation Sans', Arial, sans-serif" font-size="22.5" font-weight="bold" text-anchor="end">10</text>
<line x1="1124.3" y1="395" x2="1124.3" y2="401.5" stroke="#222" stroke-width="1.35"/>
<text x="1130.96" y="417.71" font-family="'Liberation Sans', Arial, sans-serif" font-size="18" font-weight="bold" text-anchor="end" transform="rotate(-45 1130.96 417.71)" letter-spacing="-1.3">0</text>
<line x1="1143.59" y1="395" x2="1143.59" y2="401.5" stroke="#222" stroke-width="1.35"/>
<text x="1150.25" y="417.71" font-family="'Liberation Sans', Arial, sans-serif" font-size="18" font-weight="bold" text-anchor="end" transform="rotate(-45 1150.25 417.71)" letter-spacing="-1.3">2</text>
<line x1="1162.88" y1="395" x2="1162.88" y2="401.5" stroke="#222" stroke-width="1.35"/>
<text x="1169.53" y="417.71" font-family="'Liberation Sans', Arial, sans-serif" font-size="18" font-weight="bold" text-anchor="end" transform="rotate(-45 1169.53 417.71)" letter-spacing="-1.3">4</text>
<line x1="1182.16" y1="395" x2="1182.16" y2="401.5" stroke="#222" stroke-width="1.35"/>
<text x="1188.82" y="417.71" font-family="'Liberation Sans', Arial, sans-serif" font-size="18" font-weight="bold" text-anchor="end" transform="rotate(-45 1188.82 417.71)" letter-spacing="-1.3">6</text>
<line x1="1201.45" y1="395" x2="1201.45" y2="401.5" stroke="#222" stroke-width="1.35"/>
<text x="1208.11" y="417.71" font-family="'Liberation Sans', Arial, sans-serif" font-size="18" font-weight="bold" text-anchor="end" transform="rotate(-45 1208.11 417.71)" letter-spacing="-1.3">8</text>
<line x1="1220.74" y1="395" x2="1220.74" y2="401.5" stroke="#222" stroke-width="1.35"/>
<text x="1227.4" y="417.71" font-family="'Liberation Sans', Arial, sans-serif" font-size="18" font-weight="bold" text-anchor="end" transform="rotate(-45 1227.4 417.71)" letter-spacing="-1.3">10</text>
<line x1="1240.03" y1="395" x2="1240.03" y2="401.5" stroke="#222" stroke-width="1.35"/>
<text x="1246.69" y="417.71" font-family="'Liberation Sans', Arial, sans-serif" font-size="18" font-weight="bold" text-anchor="end" transform="rotate(-45 1246.69 417.71)" letter-spacing="-1.3">12</text>
<line x1="1259.32" y1="395" x2="1259.32" y2="401.5" stroke="#222" stroke-width="1.35"/>
<text x="1265.97" y="417.71" font-family="'Liberation Sans', Arial, sans-serif" font-size="18" font-weight="bold" text-anchor="end" transform="rotate(-45 1265.97 417.71)" letter-spacing="-1.3">14</text>
<line x1="1278.6" y1="395" x2="1278.6" y2="401.5" stroke="#222" stroke-width="1.35"/>
<text x="1285.26" y="417.71" font-family="'Liberation Sans', Arial, sans-serif" font-size="18" font-weight="bold" text-anchor="end" transform="rotate(-45 1285.26 417.71)" letter-spacing="-1.3">16</text>
<line x1="1297.89" y1="395" x2="1297.89" y2="401.5" stroke="#222" stroke-width="1.35"/>
<text x="1304.55" y="417.71" font-family="'Liberation Sans', Arial, sans-serif" font-size="18" font-weight="bold" text-anchor="end" transform="rotate(-45 1304.55 417.71)" letter-spacing="-1.3">18</text>
<line x1="1317.18" y1="395" x2="1317.18" y2="401.5" stroke="#222" stroke-width="1.35"/>
<text x="1323.84" y="417.71" font-family="'Liberation Sans', Arial, sans-serif" font-size="18" font-weight="bold" text-anchor="end" transform="rotate(-45 1323.84 417.71)" letter-spacing="-1.3">20</text>
<line x1="1336.47" y1="395" x2="1336.47" y2="401.5" stroke="#222" stroke-width="1.35"/>
<text x="1343.13" y="417.71" font-family="'Liberation Sans', Arial, sans-serif" font-size="18" font-weight="bold" text-anchor="end" transform="rotate(-45 1343.13 417.71)" letter-spacing="-1.3">22</text>
<line x1="1355.76" y1="395" x2="1355.76" y2="401.5" stroke="#222" stroke-width="1.35"/>
<text x="1362.41" y="417.71" font-family="'Liberation Sans', Arial, sans-serif" font-size="18" font-weight="bold" text-anchor="end" transform="rotate(-45 1362.41 417.71)" letter-spacing="-1.3">24</text>
<line x1="1375.04" y1="395" x2="1375.04" y2="401.5" stroke="#222" stroke-width="1.35"/>
<text x="1381.7" y="417.71" font-family="'Liberation Sans', Arial, sans-serif" font-size="18" font-weight="bold" text-anchor="end" transform="rotate(-45 1381.7 417.71)" letter-spacing="-1.3">26</text>
<line x1="1394.33" y1="395" x2="1394.33" y2="401.5" stroke="#222" stroke-width="1.35"/>
<text x="1400.99" y="417.71" font-family="'Liberation Sans', Arial, sans-serif" font-size="18" font-weight="bold" text-anchor="end" transform="rotate(-45 1400.99 417.71)" letter-spacing="-1.3">28</text>
<line x1="1413.62" y1="395" x2="1413.62" y2="401.5" stroke="#222" stroke-width="1.35"/>
<text x="1420.28" y="417.71" font-family="'Liberation Sans', Arial, sans-serif" font-size="18" font-weight="bold" text-anchor="end" transform="rotate(-45 1420.28 417.71)" letter-spacing="-1.3">30</text>
<rect x="1132.4" y="59.8" width="12.6" height="5" fill="#ff0000"/>
<rect x="1160.5" y="69.8" width="53.3" height="5" fill="#ff0000"/>
<rect x="1149" y="77.4" width="12.7" height="5" fill="#ff0000"/>
<rect x="1171.9" y="86.6" width="219.7" height="5" fill="#ff0000"/>
<rect x="1171.9" y="97.6" width="91.7" height="5" fill="#ff0000"/>
<text x="1370" y="132.4" font-family="'Liberation Serif', 'Times New Roman', serif" font-size="40" font-weight="bold" text-anchor="start">G</text>
<polyline points="1124.3,384.78 1133.94,207.69 1143.59,160.02" fill="none" stroke="#000" stroke-width="1.6"/>
<polyline points="1124.3,384.78 1133.94,202.59 1143.59,183.86" fill="none" stroke="#000" stroke-width="1.6"/>
<polyline points="1124.3,384.78 1133.94,185.56 1143.59,142.99 1153.23,156.61 1162.88,190.67 1191.81,384.78 1220.74,255.37" fill="none" stroke="#000" stroke-width="1.6"/>
<polyline points="1124.3,384.78 1133.94,171.94 1143.59,156.61 1153.23,148.1 1162.88,195.78 1191.81,384.78 1220.74,323.48" fill="none" stroke="#000" stroke-width="1.6"/>
<polyline points="1124.3,384.78 1133.94,160.02 1143.59,136.18 1153.23,158.31 1162.88,183.86 1191.81,246.86 1220.74,234.94 1259.32,236.64 1326.82,384.78 1394.33,384.78" fill="none" stroke="#000" stroke-width="1.6"/>
<polyline points="1124.3,384.78 1133.94,202.59 1143.59,183.86 1153.23,115.74 1162.88,153.21 1191.81,263.89 1220.74,257.07 1259.32,255.37 1326.82,384.78 1394.33,384.78" fill="none" stroke="#000" stroke-width="1.6"/>
<circle cx="1124.3" cy="384.78" r="6" fill="#000080" stroke="#000" stroke-width="1"/>
<circle cx="1133.94" cy="207.69" r="6" fill="#000080" stroke="#000" stroke-width="1"/>
<circle cx="1143.59" cy="160.02" r="6" fill="#000080" stroke="#000" stroke-width="1"/>
<circle cx="1124.3" cy="384.78" r="6" fill="#1e8fff" stroke="#000" stroke-width="1"/>
<circle cx="1133.94" cy="202.59" r="6" fill="#1e8fff" stroke="#000" stroke-width="1"/>
<circle cx="1143.59" cy="183.86" r="6" fill="#1e8fff" stroke="#000" stroke-width="1"/>
<path d="M1124.3 391.6L1131.3 380.6L1117.3 380.6Z" fill="#000070" stroke="#000" stroke-width="1"/>
<path d="M1133.94 192.38L1140.94 181.38L1126.94 181.38Z" fill="#000070" stroke="#000" stroke-width="1"/>
<path d="M1143.59 149.81L1150.59 138.81L1136.59 138.81Z" fill="#000070" stroke="#000" stroke-width="1"/>
<path d="M1153.23 163.43L1160.23 152.43L1146.23 152.43Z" fill="#000070" stroke="#000" stroke-width="1"/>
<path d="M1162.88 197.49L1169.88 186.49L1155.88 186.49Z" fill="#000070" stroke="#000" stroke-width="1"/>
<path d="M1191.81 391.6L1198.81 380.6L1184.81 380.6Z" fill="#000070" stroke="#000" stroke-width="1"/>
<path d="M1220.74 262.19L1227.74 251.19L1213.74 251.19Z" fill="#000070" stroke="#000" stroke-width="1"/>
<path d="M1124.3 377.96L1131.3 388.96L1117.3 388.96Z" fill="#008080" stroke="#000" stroke-width="1"/>
<path d="M1133.94 165.12L1140.94 176.12L1126.94 176.12Z" fill="#008080" stroke="#000" stroke-width="1"/>
<path d="M1143.59 149.79L1150.59 160.79L1136.59 160.79Z" fill="#008080" stroke="#000" stroke-width="1"/>
<path d="M1153.23 141.28L1160.23 152.28L1146.23 152.28Z" fill="#008080" stroke="#000" stroke-width="1"/>
<path d="M1162.88 188.96L1169.88 199.96L1155.88 199.96Z" fill="#008080" stroke="#000" stroke-width="1"/>
<path d="M1191.81 377.96L1198.81 388.96L1184.81 388.96Z" fill="#008080" stroke="#000" stroke-width="1"/>
<path d="M1220.74 316.66L1227.74 327.66L1213.74 327.66Z" fill="#008080" stroke="#000" stroke-width="1"/>
<rect x="1118.5" y="378.98" width="11.6" height="11.6" fill="#0c3f8c" stroke="#000" stroke-width="1"/>
<rect x="1128.14" y="154.22" width="11.6" height="11.6" fill="#0c3f8c" stroke="#000" stroke-width="1"/>
<rect x="1137.79" y="130.38" width="11.6" height="11.6" fill="#0c3f8c" stroke="#000" stroke-width="1"/>
<rect x="1147.43" y="152.51" width="11.6" height="11.6" fill="#0c3f8c" stroke="#000" stroke-width="1"/>
<rect x="1157.08" y="178.06" width="11.6" height="11.6" fill="#0c3f8c" stroke="#000" stroke-width="1"/>
<rect x="1186.01" y="241.06" width="11.6" height="11.6" fill="#0c3f8c" stroke="#000" stroke-width="1"/>
<rect x="1214.94" y="229.14" width="11.6" height="11.6" fill="#0c3f8c" stroke="#000" stroke-width="1"/>
<rect x="1253.52" y="230.84" width="11.6" height="11.6" fill="#0c3f8c" stroke="#000" stroke-width="1"/>
<rect x="1321.02" y="378.98" width="11.6" height="11.6" fill="#0c3f8c" stroke="#000" stroke-width="1"/>
<rect x="1388.53" y="378.98" width="11.6" height="11.6" fill="#0c3f8c" stroke="#000" stroke-width="1"/>
<rect x="1118.5" y="378.98" width="11.6" height="11.6" fill="#1fe0e0" stroke="#000" stroke-width="1"/>
<rect x="1128.14" y="196.79" width="11.6" height="11.6" fill="#1fe0e0" stroke="#000" stroke-width="1"/>
<rect x="1137.79" y="178.06" width="11.6" height="11.6" fill="#1fe0e0" stroke="#000" stroke-width="1"/>
<rect x="1147.43" y="109.94" width="11.6" height="11.6" fill="#1fe0e0" stroke="#000" stroke-width="1"/>
<rect x="1157.08" y="147.41" width="11.6" height="11.6" fill="#1fe0e0" stroke="#000" stroke-width="1"/>
<rect x="1186.01" y="258.09" width="11.6" height="11.6" fill="#1fe0e0" stroke="#000" stroke-width="1"/>
<rect x="1214.94" y="251.27" width="11.6" height="11.6" fill="#1fe0e0" stroke="#000" stroke-width="1"/>
<rect x="1253.52" y="249.57" width="11.6" height="11.6" fill="#1fe0e0" stroke="#000" stroke-width="1"/>
<rect x="1321.02" y="378.98" width="11.6" height="11.6" fill="#1fe0e0" stroke="#000" stroke-width="1"/>
<rect x="1388.53" y="378.98" width="11.6" height="11.6" fill="#1fe0e0" stroke="#000" stroke-width="1"/>
<rect x="1592.9" y="88.9" width="305.9" height="305.9" fill="none" stroke="#6a6a6a" stroke-width="1.7"/>
<line x1="1583.9" y1="394.8" x2="1592.9" y2="394.8" stroke="#6a6a6a" stroke-width="1.7"/>
<text x="1573.3" y="402.9" font-family="'Liberation Sans', Arial, sans-serif" font-size="22.5" font-weight="bold" text-anchor="end">1</text>
<line x1="1583.9" y1="360.81" x2="1592.9" y2="360.81" stroke="#222" stroke-width="1.35"/>
<text x="1573.3" y="368.91" font-family="'Liberation Sans', Arial, sans-serif" font-size="22.5" font-weight="bold" text-anchor="end">2</text>
<line x1="1583.9" y1="326.82" x2="1592.9" y2="326.82" stroke="#222" stroke-width="1.35"/>
<text x="1573.3" y="334.92" font-family="'Liberation Sans', Arial, sans-serif" font-size="22.5" font-weight="bold" text-anchor="end">3</text>
<line x1="1583.9" y1="292.83" x2="1592.9" y2="292.83" stroke="#222" stroke-width="1.35"/>
<text x="1573.3" y="300.93" font-family="'Liberation Sans', Arial, sans-serif" font-size="22.5" font-weight="bold" text-anchor="end">4</text>
<line x1="1583.9" y1="258.84" x2="1592.9" y2="258.84" stroke="#222" stroke-width="1.35"/>
<text x="1573.3" y="266.94" font-family="'Liberation Sans', Arial, sans-serif" font-size="22.5" font-weight="bold" text-anchor="end">5</text>
<line x1="1583.9" y1="224.86" x2="1592.9" y2="224.86" stroke="#222" stroke-width="1.35"/>
<text x="1573.3" y="232.96" font-family="'Liberation Sans', Arial, sans-serif" font-size="22.5" font-weight="bold" text-anchor="end">6</text>
<line x1="1583.9" y1="190.87" x2="1592.9" y2="190.87" stroke="#222" stroke-width="1.35"/>
<text x="1573.3" y="198.97" font-family="'Liberation Sans', Arial, sans-serif" font-size="22.5" font-weight="bold" text-anchor="end">7</text>
<line x1="1583.9" y1="156.88" x2="1592.9" y2="156.88" stroke="#222" stroke-width="1.35"/>
<text x="1573.3" y="164.98" font-family="'Liberation Sans', Arial, sans-serif" font-size="22.5" font-weight="bold" text-anchor="end">8</text>
<line x1="1583.9" y1="122.89" x2="1592.9" y2="122.89" stroke="#222" stroke-width="1.35"/>
<text x="1573.3" y="130.99" font-family="'Liberation Sans', Arial, sans-serif" font-size="22.5" font-weight="bold" text-anchor="end">9</text>
<line x1="1583.9" y1="88.9" x2="1592.9" y2="88.9" stroke="#6a6a6a" stroke-width="1.7"/>
<text x="1573.3" y="97" font-family="'Liberation Sans', Arial, sans-serif" font-size="22.5" font-weight="bold" text-anchor="end">10</text>
<line x1="1609.2" y1="394.8" x2="1609.2" y2="401.3" stroke="#222" stroke-width="1.35"/>
<text x="1615.86" y="417.51" font-family="'Liberation Sans', Arial, sans-serif" font-size="18" font-weight="bold" text-anchor="end" transform="rotate(-45 1615.86 417.51)" letter-spacing="-1.3">0</text>
<line x1="1628.51" y1="394.8" x2="1628.51" y2="401.3" stroke="#222" stroke-width="1.35"/>
<text x="1635.16" y="417.51" font-family="'Liberation Sans', Arial, sans-serif" font-size="18" font-weight="bold" text-anchor="end" transform="rotate(-45 1635.16 417.51)" letter-spacing="-1.3">2</text>
<line x1="1647.81" y1="394.8" x2="1647.81" y2="401.3" stroke="#222" stroke-width="1.35"/>
<text x="1654.47" y="417.51" font-family="'Liberation Sans', Arial, sans-serif" font-size="18" font-weight="bold" text-anchor="end" transform="rotate(-45 1654.47 417.51)" letter-spacing="-1.3">4</text>
<line x1="1667.12" y1="394.8" x2="1667.12" y2="401.3" stroke="#222" stroke-width="1.35"/>
<text x="1673.78" y="417.51" font-family="'Liberation Sans', Arial, sans-serif" font-size="18" font-weight="bold" text-anchor="end" transform="rotate(-45 1673.78 417.51)" letter-spacing="-1.3">6</text>
<line x1="1686.42" y1="394.8" x2="1686.42" y2="401.3" stroke="#222" stroke-width="1.35"/>
<text x="1693.08" y="417.51" font-family="'Liberation Sans', Arial, sans-serif" font-size="18" font-weight="bold" text-anchor="end" transform="rotate(-45 1693.08 417.51)" letter-spacing="-1.3">8</text>
<line x1="1705.73" y1="394.8" x2="1705.73" y2="401.3" stroke="#222" stroke-width="1.35"/>
<text x="1712.39" y="417.51" font-family="'Liberation Sans', Arial, sans-serif" font-size="18" font-weight="bold" text-anchor="end" transform="rotate(-45 1712.39 417.51)" letter-spacing="-1.3">10</text>
<line x1="1725.04" y1="394.8" x2="1725.04" y2="401.3" stroke="#222" stroke-width="1.35"/>
<text x="1731.69" y="417.51" font-family="'Liberation Sans', Arial, sans-serif" font-size="18" font-weight="bold" text-anchor="end" transform="rotate(-45 1731.69 417.51)" letter-spacing="-1.3">12</text>
<line x1="1744.34" y1="394.8" x2="1744.34" y2="401.3" stroke="#222" stroke-width="1.35"/>
<text x="1751" y="417.51" font-family="'Liberation Sans', Arial, sans-serif" font-size="18" font-weight="bold" text-anchor="end" transform="rotate(-45 1751 417.51)" letter-spacing="-1.3">14</text>
<line x1="1763.65" y1="394.8" x2="1763.65" y2="401.3" stroke="#222" stroke-width="1.35"/>
<text x="1770.31" y="417.51" font-family="'Liberation Sans', Arial, sans-serif" font-size="18" font-weight="bold" text-anchor="end" transform="rotate(-45 1770.31 417.51)" letter-spacing="-1.3">16</text>
<line x1="1782.95" y1="394.8" x2="1782.95" y2="401.3" stroke="#222" stroke-width="1.35"/>
<text x="1789.61" y="417.51" font-family="'Liberation Sans', Arial, sans-serif" font-size="18" font-weight="bold" text-anchor="end" transform="rotate(-45 1789.61 417.51)" letter-spacing="-1.3">18</text>
<line x1="1802.26" y1="394.8" x2="1802.26" y2="401.3" stroke="#222" stroke-width="1.35"/>
<text x="1808.92" y="417.51" font-family="'Liberation Sans', Arial, sans-serif" font-size="18" font-weight="bold" text-anchor="end" transform="rotate(-45 1808.92 417.51)" letter-spacing="-1.3">20</text>
<line x1="1821.57" y1="394.8" x2="1821.57" y2="401.3" stroke="#222" stroke-width="1.35"/>
<text x="1828.22" y="417.51" font-family="'Liberation Sans', Arial, sans-serif" font-size="18" font-weight="bold" text-anchor="end" transform="rotate(-45 1828.22 417.51)" letter-spacing="-1.3">22</text>
<line x1="1840.87" y1="394.8" x2="1840.87" y2="401.3" stroke="#222" stroke-width="1.35"/>
<text x="1847.53" y="417.51" font-family="'Liberation Sans', Arial, sans-serif" font-size="18" font-weight="bold" text-anchor="end" transform="rotate(-45 1847.53 417.51)" letter-spacing="-1.3">24</text>
<line x1="1860.18" y1="394.8" x2="1860.18" y2="401.3" stroke="#222" stroke-width="1.35"/>
<text x="1866.84" y="417.51" font-family="'Liberation Sans', Arial, sans-serif" font-size="18" font-weight="bold" text-anchor="end" transform="rotate(-45 1866.84 417.51)" letter-spacing="-1.3">26</text>
<line x1="1879.48" y1="394.8" x2="1879.48" y2="401.3" stroke="#222" stroke-width="1.35"/>
<text x="1886.14" y="417.51" font-family="'Liberation Sans', Arial, sans-serif" font-size="18" font-weight="bold" text-anchor="end" transform="rotate(-45 1886.14 417.51)" letter-spacing="-1.3">28</text>
<line x1="1898.79" y1="394.8" x2="1898.79" y2="401.3" stroke="#222" stroke-width="1.35"/>
<text x="1905.45" y="417.51" font-family="'Liberation Sans', Arial, sans-serif" font-size="18" font-weight="bold" text-anchor="end" transform="rotate(-45 1905.45 417.51)" letter-spacing="-1.3">30</text>
<rect x="1625.1" y="96.9" width="91.6" height="4.8" fill="#00b050"/>
<rect x="1625.1" y="105.7" width="91.6" height="4.8" fill="#00b050"/>
<text x="1858" y="129.6" font-family="'Liberation Serif', 'Times New Roman', serif" font-size="40" font-weight="bold" text-anchor="start">H</text>
<polyline points="1609.2,384.6 1618.85,187.47 1628.51,168.77" fill="none" stroke="#000" stroke-width="1.6"/>
<polyline points="1609.2,384.6 1618.85,331.92 1628.51,262.24" fill="none" stroke="#000" stroke-width="1.6"/>
<polyline points="1609.2,384.6 1618.85,161.98 1628.51,195.97 1638.16,204.46 1647.81,263.94 1676.77,184.07 1705.73,338.72" fill="none" stroke="#000" stroke-width="1.6"/>
<polyline points="1609.2,384.6 1618.85,192.57 1628.51,180.67 1638.16,168.77 1647.81,347.22 1676.77,248.65 1705.73,384.6" fill="none" stroke="#000" stroke-width="1.6"/>
<polyline points="1609.2,384.6 1618.85,144.98 1628.51,219.76 1638.16,187.47 1647.81,211.26 1676.77,201.06 1705.73,343.82 1744.34,384.6 1811.91,289.43 1879.48,384.6" fill="none" stroke="#000" stroke-width="1.6"/>
<polyline points="1609.2,384.6 1618.85,223.16 1628.51,274.14 1638.16,228.25 1647.81,269.04 1676.77,299.63 1705.73,384.6 1744.34,384.6 1811.91,337.02 1879.48,384.6" fill="none" stroke="#000" stroke-width="1.6"/>
<circle cx="1609.2" cy="384.6" r="6" fill="#000080" stroke="#000" stroke-width="1"/>
<circle cx="1618.85" cy="187.47" r="6" fill="#000080" stroke="#000" stroke-width="1"/>
<circle cx="1628.51" cy="168.77" r="6" fill="#000080" stroke="#000" stroke-width="1"/>
<circle cx="1609.2" cy="384.6" r="6" fill="#1e8fff" stroke="#000" stroke-width="1"/>
<circle cx="1618.85" cy="331.92" r="6" fill="#1e8fff" stroke="#000" stroke-width="1"/>
<circle cx="1628.51" cy="262.24" r="6" fill="#1e8fff" stroke="#000" stroke-width="1"/>
<path d="M1609.2 391.42L1616.2 380.42L1602.2 380.42Z" fill="#000070" stroke="#000" stroke-width="1"/>
<path d="M1618.85 168.8L1625.85 157.8L1611.85 157.8Z" fill="#000070" stroke="#000" stroke-width="1"/>
<path d="M1628.51 202.79L1635.51 191.79L1621.51 191.79Z" fill="#000070" stroke="#000" stroke-width="1"/>
<path d="M1638.16 211.28L1645.16 200.28L1631.16 200.28Z" fill="#000070" stroke="#000" stroke-width="1"/>
<path d="M1647.81 270.76L1654.81 259.76L1640.81 259.76Z" fill="#000070" stroke="#000" stroke-width="1"/>
<path d="M1676.77 190.89L1683.77 179.89L1669.77 179.89Z" fill="#000070" stroke="#000" stroke-width="1"/>
<path d="M1705.73 345.54L1712.73 334.54L1698.73 334.54Z" fill="#000070" stroke="#000" stroke-width="1"/>
<path d="M1609.2 377.78L1616.2 388.78L1602.2 388.78Z" fill="#008080" stroke="#000" stroke-width="1"/>
<path d="M1618.85 185.75L1625.85 196.75L1611.85 196.75Z" fill="#008080" stroke="#000" stroke-width="1"/>
<path d="M1628.51 173.85L1635.51 184.85L1621.51 184.85Z" fill="#008080" stroke="#000" stroke-width="1"/>
<path d="M1638.16 161.95L1645.16 172.95L1631.16 172.95Z" fill="#008080" stroke="#000" stroke-width="1"/>
<path d="M1647.81 340.4L1654.81 351.4L1640.81 351.4Z" fill="#008080" stroke="#000" stroke-width="1"/>
<path d="M1676.77 241.83L1683.77 252.83L1669.77 252.83Z" fill="#008080" stroke="#000" stroke-width="1"/>
<path d="M1705.73 377.78L1712.73 388.78L1698.73 388.78Z" fill="#008080" stroke="#000" stroke-width="1"/>
<rect x="1603.4" y="378.8" width="11.6" height="11.6" fill="#0c3f8c" stroke="#000" stroke-width="1"/>
<rect x="1613.05" y="139.18" width="11.6" height="11.6" fill="#0c3f8c" stroke="#000" stroke-width="1"/>
<rect x="1622.71" y="213.96" width="11.6" height="11.6" fill="#0c3f8c" stroke="#000" stroke-width="1"/>
<rect x="1632.36" y="181.67" width="11.6" height="11.6" fill="#0c3f8c" stroke="#000" stroke-width="1"/>
<rect x="1642.01" y="205.46" width="11.6" height="11.6" fill="#0c3f8c" stroke="#000" stroke-width="1"/>
<rect x="1670.97" y="195.26" width="11.6" height="11.6" fill="#0c3f8c" stroke="#000" stroke-width="1"/>
<rect x="1699.93" y="338.02" width="11.6" height="11.6" fill="#0c3f8c" stroke="#000" stroke-width="1"/>
<rect x="1738.54" y="378.8" width="11.6" height="11.6" fill="#0c3f8c" stroke="#000" stroke-width="1"/>
<rect x="1806.11" y="283.63" width="11.6" height="11.6" fill="#0c3f8c" stroke="#000" stroke-width="1"/>
<rect x="1873.68" y="378.8" width="11.6" height="11.6" fill="#0c3f8c" stroke="#000" stroke-width="1"/>
<rect x="1603.4" y="378.8" width="11.6" height="11.6" fill="#1fe0e0" stroke="#000" stroke-width="1"/>
<rect x="1613.05" y="217.36" width="11.6" height="11.6" fill="#1fe0e0" stroke="#000" stroke-width="1"/>
<rect x="1622.71" y="268.34" width="11.6" height="11.6" fill="#1fe0e0" stroke="#000" stroke-width="1"/>
<rect x="1632.36" y="222.45" width="11.6" height="11.6" fill="#1fe0e0" stroke="#000" stroke-width="1"/>
<rect x="1642.01" y="263.24" width="11.6" height="11.6" fill="#1fe0e0" stroke="#000" stroke-width="1"/>
<rect x="1670.97" y="293.83" width="11.6" height="11.6" fill="#1fe0e0" stroke="#000" stroke-width="1"/>
<rect x="1699.93" y="378.8" width="11.6" height="11.6" fill="#1fe0e0" stroke="#000" stroke-width="1"/>
<rect x="1738.54" y="378.8" width="11.6" height="11.6" fill="#1fe0e0" stroke="#000" stroke-width="1"/>
<rect x="1806.11" y="331.22" width="11.6" height="11.6" fill="#1fe0e0" stroke="#000" stroke-width="1"/>
<rect x="1873.68" y="378.8" width="11.6" height="11.6" fill="#1fe0e0" stroke="#000" stroke-width="1"/>
<rect x="1107.3" y="530.5" width="306.1" height="305.2" fill="none" stroke="#6a6a6a" stroke-width="1.7"/>
<line x1="1098.3" y1="835.7" x2="1107.3" y2="835.7" stroke="#6a6a6a" stroke-width="1.7"/>
<text x="1088" y="843.8" font-family="'Liberation Sans', Arial, sans-serif" font-size="22.5" font-weight="bold" text-anchor="end">1</text>
<line x1="1098.3" y1="801.79" x2="1107.3" y2="801.79" stroke="#222" stroke-width="1.35"/>
<text x="1088" y="809.89" font-family="'Liberation Sans', Arial, sans-serif" font-size="22.5" font-weight="bold" text-anchor="end">2</text>
<line x1="1098.3" y1="767.88" x2="1107.3" y2="767.88" stroke="#222" stroke-width="1.35"/>
<text x="1088" y="775.98" font-family="'Liberation Sans', Arial, sans-serif" font-size="22.5" font-weight="bold" text-anchor="end">3</text>
<line x1="1098.3" y1="733.97" x2="1107.3" y2="733.97" stroke="#222" stroke-width="1.35"/>
<text x="1088" y="742.07" font-family="'Liberation Sans', Arial, sans-serif" font-size="22.5" font-weight="bold" text-anchor="end">4</text>
<line x1="1098.3" y1="700.06" x2="1107.3" y2="700.06" stroke="#222" stroke-width="1.35"/>
<text x="1088" y="708.16" font-family="'Liberation Sans', Arial, sans-serif" font-size="22.5" font-weight="bold" text-anchor="end">5</text>
<line x1="1098.3" y1="666.14" x2="1107.3" y2="666.14" stroke="#222" stroke-width="1.35"/>
<text x="1088" y="674.24" font-family="'Liberation Sans', Arial, sans-serif" font-size="22.5" font-weight="bold" text-anchor="end">6</text>
<line x1="1098.3" y1="632.23" x2="1107.3" y2="632.23" stroke="#222" stroke-width="1.35"/>
<text x="1088" y="640.33" font-family="'Liberation Sans', Arial, sans-serif" font-size="22.5" font-weight="bold" text-anchor="end">7</text>
<line x1="1098.3" y1="598.32" x2="1107.3" y2="598.32" stroke="#222" stroke-width="1.35"/>
<text x="1088" y="606.42" font-family="'Liberation Sans', Arial, sans-serif" font-size="22.5" font-weight="bold" text-anchor="end">8</text>
<line x1="1098.3" y1="564.41" x2="1107.3" y2="564.41" stroke="#222" stroke-width="1.35"/>
<text x="1088" y="572.51" font-family="'Liberation Sans', Arial, sans-serif" font-size="22.5" font-weight="bold" text-anchor="end">9</text>
<line x1="1098.3" y1="530.5" x2="1107.3" y2="530.5" stroke="#6a6a6a" stroke-width="1.7"/>
<text x="1088" y="538.6" font-family="'Liberation Sans', Arial, sans-serif" font-size="22.5" font-weight="bold" text-anchor="end">10</text>
<line x1="1124.2" y1="835.7" x2="1124.2" y2="842.2" stroke="#222" stroke-width="1.35"/>
<text x="1130.86" y="858.41" font-family="'Liberation Sans', Arial, sans-serif" font-size="18" font-weight="bold" text-anchor="end" transform="rotate(-45 1130.86 858.41)" letter-spacing="-1.3">0</text>
<line x1="1143.48" y1="835.7" x2="1143.48" y2="842.2" stroke="#222" stroke-width="1.35"/>
<text x="1150.14" y="858.41" font-family="'Liberation Sans', Arial, sans-serif" font-size="18" font-weight="bold" text-anchor="end" transform="rotate(-45 1150.14 858.41)" letter-spacing="-1.3">2</text>
<line x1="1162.76" y1="835.7" x2="1162.76" y2="842.2" stroke="#222" stroke-width="1.35"/>
<text x="1169.42" y="858.41" font-family="'Liberation Sans', Arial, sans-serif" font-size="18" font-weight="bold" text-anchor="end" transform="rotate(-45 1169.42 858.41)" letter-spacing="-1.3">4</text>
<line x1="1182.04" y1="835.7" x2="1182.04" y2="842.2" stroke="#222" stroke-width="1.35"/>
<text x="1188.7" y="858.41" font-family="'Liberation Sans', Arial, sans-serif" font-size="18" font-weight="bold" text-anchor="end" transform="rotate(-45 1188.7 858.41)" letter-spacing="-1.3">6</text>
<line x1="1201.32" y1="835.7" x2="1201.32" y2="842.2" stroke="#222" stroke-width="1.35"/>
<text x="1207.98" y="858.41" font-family="'Liberation Sans', Arial, sans-serif" font-size="18" font-weight="bold" text-anchor="end" transform="rotate(-45 1207.98 858.41)" letter-spacing="-1.3">8</text>
<line x1="1220.6" y1="835.7" x2="1220.6" y2="842.2" stroke="#222" stroke-width="1.35"/>
<text x="1227.26" y="858.41" font-family="'Liberation Sans', Arial, sans-serif" font-size="18" font-weight="bold" text-anchor="end" transform="rotate(-45 1227.26 858.41)" letter-spacing="-1.3">10</text>
<line x1="1239.88" y1="835.7" x2="1239.88" y2="842.2" stroke="#222" stroke-width="1.35"/>
<text x="1246.54" y="858.41" font-family="'Liberation Sans', Arial, sans-serif" font-size="18" font-weight="bold" text-anchor="end" transform="rotate(-45 1246.54 858.41)" letter-spacing="-1.3">12</text>
<line x1="1259.16" y1="835.7" x2="1259.16" y2="842.2" stroke="#222" stroke-width="1.35"/>
<text x="1265.82" y="858.41" font-family="'Liberation Sans', Arial, sans-serif" font-size="18" font-weight="bold" text-anchor="end" transform="rotate(-45 1265.82 858.41)" letter-spacing="-1.3">14</text>
<line x1="1278.44" y1="835.7" x2="1278.44" y2="842.2" stroke="#222" stroke-width="1.35"/>
<text x="1285.1" y="858.41" font-family="'Liberation Sans', Arial, sans-serif" font-size="18" font-weight="bold" text-anchor="end" transform="rotate(-45 1285.1 858.41)" letter-spacing="-1.3">16</text>
<line x1="1297.72" y1="835.7" x2="1297.72" y2="842.2" stroke="#222" stroke-width="1.35"/>
<text x="1304.38" y="858.41" font-family="'Liberation Sans', Arial, sans-serif" font-size="18" font-weight="bold" text-anchor="end" transform="rotate(-45 1304.38 858.41)" letter-spacing="-1.3">18</text>
<line x1="1317" y1="835.7" x2="1317" y2="842.2" stroke="#222" stroke-width="1.35"/>
<text x="1323.66" y="858.41" font-family="'Liberation Sans', Arial, sans-serif" font-size="18" font-weight="bold" text-anchor="end" transform="rotate(-45 1323.66 858.41)" letter-spacing="-1.3">20</text>
<line x1="1336.28" y1="835.7" x2="1336.28" y2="842.2" stroke="#222" stroke-width="1.35"/>
<text x="1342.94" y="858.41" font-family="'Liberation Sans', Arial, sans-serif" font-size="18" font-weight="bold" text-anchor="end" transform="rotate(-45 1342.94 858.41)" letter-spacing="-1.3">22</text>
<line x1="1355.56" y1="835.7" x2="1355.56" y2="842.2" stroke="#222" stroke-width="1.35"/>
<text x="1362.22" y="858.41" font-family="'Liberation Sans', Arial, sans-serif" font-size="18" font-weight="bold" text-anchor="end" transform="rotate(-45 1362.22 858.41)" letter-spacing="-1.3">24</text>
<line x1="1374.84" y1="835.7" x2="1374.84" y2="842.2" stroke="#222" stroke-width="1.35"/>
<text x="1381.5" y="858.41" font-family="'Liberation Sans', Arial, sans-serif" font-size="18" font-weight="bold" text-anchor="end" transform="rotate(-45 1381.5 858.41)" letter-spacing="-1.3">26</text>
<line x1="1394.12" y1="835.7" x2="1394.12" y2="842.2" stroke="#222" stroke-width="1.35"/>
<text x="1400.78" y="858.41" font-family="'Liberation Sans', Arial, sans-serif" font-size="18" font-weight="bold" text-anchor="end" transform="rotate(-45 1400.78 858.41)" letter-spacing="-1.3">28</text>
<line x1="1413.4" y1="835.7" x2="1413.4" y2="842.2" stroke="#222" stroke-width="1.35"/>
<text x="1420.06" y="858.41" font-family="'Liberation Sans', Arial, sans-serif" font-size="18" font-weight="bold" text-anchor="end" transform="rotate(-45 1420.06 858.41)" letter-spacing="-1.3">30</text>
<rect x="1129.8" y="541.7" width="11.7" height="5" fill="#ff0000"/>
<text x="1386" y="569.6" font-family="'Liberation Serif', 'Times New Roman', serif" font-size="40" font-weight="bold" text-anchor="start">I</text>
<polyline points="1124.2,825.53 1133.84,622.06 1143.48,633.93" fill="none" stroke="#000" stroke-width="1.6"/>
<polyline points="1124.2,825.53 1133.84,676.32 1143.48,705.14" fill="none" stroke="#000" stroke-width="1.6"/>
<polyline points="1124.2,825.53 1133.84,717.01 1143.48,825.53 1153.12,825.53 1162.76,825.53 1191.68,825.53 1220.6,825.53" fill="none" stroke="#000" stroke-width="1.6"/>
<polyline points="1124.2,825.53 1133.84,752.62 1143.48,825.53 1153.12,825.53 1162.76,825.53 1191.68,825.53 1220.6,825.53" fill="none" stroke="#000" stroke-width="1.6"/>
<polyline points="1124.2,825.53 1133.84,717.01 1143.48,823.83 1153.12,825.53 1162.76,825.53 1191.68,825.53 1220.6,825.53 1259.16,825.53 1326.64,825.53 1394.12,825.53" fill="none" stroke="#000" stroke-width="1.6"/>
<polyline points="1124.2,825.53 1133.84,698.36 1143.48,693.27 1153.12,825.53 1162.76,825.53 1191.68,825.53 1220.6,825.53 1259.16,825.53 1326.64,825.53 1394.12,825.53" fill="none" stroke="#000" stroke-width="1.6"/>
<circle cx="1124.2" cy="825.53" r="6" fill="#8b0000" stroke="#000" stroke-width="1"/>
<circle cx="1133.84" cy="622.06" r="6" fill="#8b0000" stroke="#000" stroke-width="1"/>
<circle cx="1143.48" cy="633.93" r="6" fill="#8b0000" stroke="#000" stroke-width="1"/>
<path d="M1124.2 832.35L1131.2 821.35L1117.2 821.35Z" fill="#c8d200" stroke="#000" stroke-width="1"/>
<path d="M1133.84 683.14L1140.84 672.14L1126.84 672.14Z" fill="#c8d200" stroke="#000" stroke-width="1"/>
<path d="M1143.48 711.96L1150.48 700.96L1136.48 700.96Z" fill="#c8d200" stroke="#000" stroke-width="1"/>
<rect x="1118.4" y="819.73" width="11.6" height="11.6" fill="#650000" stroke="#000" stroke-width="1"/>
<rect x="1128.04" y="711.21" width="11.6" height="11.6" fill="#650000" stroke="#000" stroke-width="1"/>
<rect x="1137.68" y="819.73" width="11.6" height="11.6" fill="#650000" stroke="#000" stroke-width="1"/>
<rect x="1147.32" y="819.73" width="11.6" height="11.6" fill="#650000" stroke="#000" stroke-width="1"/>
<rect x="1156.96" y="819.73" width="11.6" height="11.6" fill="#650000" stroke="#000" stroke-width="1"/>
<rect x="1185.88" y="819.73" width="11.6" height="11.6" fill="#650000" stroke="#000" stroke-width="1"/>
<rect x="1214.8" y="819.73" width="11.6" height="11.6" fill="#650000" stroke="#000" stroke-width="1"/>
<path d="M1124.2 818.33L1131.4 825.53L1124.2 832.73L1117 825.53Z" fill="#ff8a00" stroke="#000" stroke-width="1"/>
<path d="M1133.84 745.42L1141.04 752.62L1133.84 759.82L1126.64 752.62Z" fill="#ff8a00" stroke="#000" stroke-width="1"/>
<path d="M1143.48 818.33L1150.68 825.53L1143.48 832.73L1136.28 825.53Z" fill="#ff8a00" stroke="#000" stroke-width="1"/>
<path d="M1153.12 818.33L1160.32 825.53L1153.12 832.73L1145.92 825.53Z" fill="#ff8a00" stroke="#000" stroke-width="1"/>
<path d="M1162.76 818.33L1169.96 825.53L1162.76 832.73L1155.56 825.53Z" fill="#ff8a00" stroke="#000" stroke-width="1"/>
<path d="M1191.68 818.33L1198.88 825.53L1191.68 832.73L1184.48 825.53Z" fill="#ff8a00" stroke="#000" stroke-width="1"/>
<path d="M1220.6 818.33L1227.8 825.53L1220.6 832.73L1213.4 825.53Z" fill="#ff8a00" stroke="#000" stroke-width="1"/>
<path d="M1124.2 818.71L1131.2 829.71L1117.2 829.71Z" fill="#a4520a" stroke="#000" stroke-width="1"/>
<path d="M1133.84 710.19L1140.84 721.19L1126.84 721.19Z" fill="#a4520a" stroke="#000" stroke-width="1"/>
<path d="M1143.48 817.01L1150.48 828.01L1136.48 828.01Z" fill="#a4520a" stroke="#000" stroke-width="1"/>
<path d="M1153.12 818.71L1160.12 829.71L1146.12 829.71Z" fill="#a4520a" stroke="#000" stroke-width="1"/>
<path d="M1162.76 818.71L1169.76 829.71L1155.76 829.71Z" fill="#a4520a" stroke="#000" stroke-width="1"/>
<path d="M1191.68 818.71L1198.68 829.71L1184.68 829.71Z" fill="#a4520a" stroke="#000" stroke-width="1"/>
<path d="M1220.6 818.71L1227.6 829.71L1213.6 829.71Z" fill="#a4520a" stroke="#000" stroke-width="1"/>
<path d="M1259.16 818.71L1266.16 829.71L1252.16 829.71Z" fill="#a4520a" stroke="#000" stroke-width="1"/>
<path d="M1326.64 818.71L1333.64 829.71L1319.64 829.71Z" fill="#a4520a" stroke="#000" stroke-width="1"/>
<path d="M1394.12 818.71L1401.12 829.71L1387.12 829.71Z" fill="#a4520a" stroke="#000" stroke-width="1"/>
<polygon points="1124.2,819.23 1118.47,822.38 1118.47,828.68 1124.2,831.83 1129.93,828.68 1129.93,822.38" fill="#8a8a00" stroke="#000" stroke-width="1"/>
<polygon points="1133.84,692.06 1128.11,695.21 1128.11,701.51 1133.84,704.66 1139.57,701.51 1139.57,695.21" fill="#8a8a00" stroke="#000" stroke-width="1"/>
<polygon points="1143.48,686.97 1137.75,690.12 1137.75,696.42 1143.48,699.57 1149.21,696.42 1149.21,690.12" fill="#8a8a00" stroke="#000" stroke-width="1"/>
<polygon points="1153.12,819.23 1147.39,822.38 1147.39,828.68 1153.12,831.83 1158.85,828.68 1158.85,822.38" fill="#8a8a00" stroke="#000" stroke-width="1"/>
<polygon points="1162.76,819.23 1157.03,822.38 1157.03,828.68 1162.76,831.83 1168.49,828.68 1168.49,822.38" fill="#8a8a00" stroke="#000" stroke-width="1"/>
<polygon points="1191.68,819.23 1185.95,822.38 1185.95,828.68 1191.68,831.83 1197.41,828.68 1197.41,822.38" fill="#8a8a00" stroke="#000" stroke-width="1"/>
<polygon points="1220.6,819.23 1214.87,822.38 1214.87,828.68 1220.6,831.83 1226.33,828.68 1226.33,822.38" fill="#8a8a00" stroke="#000" stroke-width="1"/>
<polygon points="1259.16,819.23 1253.43,822.38 1253.43,828.68 1259.16,831.83 1264.89,828.68 1264.89,822.38" fill="#8a8a00" stroke="#000" stroke-width="1"/>
<polygon points="1326.64,819.23 1320.91,822.38 1320.91,828.68 1326.64,831.83 1332.37,828.68 1332.37,822.38" fill="#8a8a00" stroke="#000" stroke-width="1"/>
<polygon points="1394.12,819.23 1388.39,822.38 1388.39,828.68 1394.12,831.83 1399.85,828.68 1399.85,822.38" fill="#8a8a00" stroke="#000" stroke-width="1"/>
<rect x="1592.9" y="530.2" width="305.9" height="306.2" fill="none" stroke="#6a6a6a" stroke-width="1.7"/>
<line x1="1583.9" y1="836.4" x2="1592.9" y2="836.4" stroke="#6a6a6a" stroke-width="1.7"/>
<text x="1573.3" y="844.5" font-family="'Liberation Sans', Arial, sans-serif" font-size="22.5" font-weight="bold" text-anchor="end">1</text>
<line x1="1583.9" y1="802.38" x2="1592.9" y2="802.38" stroke="#222" stroke-width="1.35"/>
<text x="1573.3" y="810.48" font-family="'Liberation Sans', Arial, sans-serif" font-size="22.5" font-weight="bold" text-anchor="end">2</text>
<line x1="1583.9" y1="768.36" x2="1592.9" y2="768.36" stroke="#222" stroke-width="1.35"/>
<text x="1573.3" y="776.46" font-family="'Liberation Sans', Arial, sans-serif" font-size="22.5" font-weight="bold" text-anchor="end">3</text>
<line x1="1583.9" y1="734.33" x2="1592.9" y2="734.33" stroke="#222" stroke-width="1.35"/>
<text x="1573.3" y="742.43" font-family="'Liberation Sans', Arial, sans-serif" font-size="22.5" font-weight="bold" text-anchor="end">4</text>
<line x1="1583.9" y1="700.31" x2="1592.9" y2="700.31" stroke="#222" stroke-width="1.35"/>
<text x="1573.3" y="708.41" font-family="'Liberation Sans', Arial, sans-serif" font-size="22.5" font-weight="bold" text-anchor="end">5</text>
<line x1="1583.9" y1="666.29" x2="1592.9" y2="666.29" stroke="#222" stroke-width="1.35"/>
<text x="1573.3" y="674.39" font-family="'Liberation Sans', Arial, sans-serif" font-size="22.5" font-weight="bold" text-anchor="end">6</text>
<line x1="1583.9" y1="632.27" x2="1592.9" y2="632.27" stroke="#222" stroke-width="1.35"/>
<text x="1573.3" y="640.37" font-family="'Liberation Sans', Arial, sans-serif" font-size="22.5" font-weight="bold" text-anchor="end">7</text>
<line x1="1583.9" y1="598.24" x2="1592.9" y2="598.24" stroke="#222" stroke-width="1.35"/>
<text x="1573.3" y="606.34" font-family="'Liberation Sans', Arial, sans-serif" font-size="22.5" font-weight="bold" text-anchor="end">8</text>
<line x1="1583.9" y1="564.22" x2="1592.9" y2="564.22" stroke="#222" stroke-width="1.35"/>
<text x="1573.3" y="572.32" font-family="'Liberation Sans', Arial, sans-serif" font-size="22.5" font-weight="bold" text-anchor="end">9</text>
<line x1="1583.9" y1="530.2" x2="1592.9" y2="530.2" stroke="#6a6a6a" stroke-width="1.7"/>
<text x="1573.3" y="538.3" font-family="'Liberation Sans', Arial, sans-serif" font-size="22.5" font-weight="bold" text-anchor="end">10</text>
<line x1="1609.2" y1="836.4" x2="1609.2" y2="842.9" stroke="#222" stroke-width="1.35"/>
<text x="1615.86" y="859.11" font-family="'Liberation Sans', Arial, sans-serif" font-size="18" font-weight="bold" text-anchor="end" transform="rotate(-45 1615.86 859.11)" letter-spacing="-1.3">0</text>
<line x1="1628.51" y1="836.4" x2="1628.51" y2="842.9" stroke="#222" stroke-width="1.35"/>
<text x="1635.16" y="859.11" font-family="'Liberation Sans', Arial, sans-serif" font-size="18" font-weight="bold" text-anchor="end" transform="rotate(-45 1635.16 859.11)" letter-spacing="-1.3">2</text>
<line x1="1647.81" y1="836.4" x2="1647.81" y2="842.9" stroke="#222" stroke-width="1.35"/>
<text x="1654.47" y="859.11" font-family="'Liberation Sans', Arial, sans-serif" font-size="18" font-weight="bold" text-anchor="end" transform="rotate(-45 1654.47 859.11)" letter-spacing="-1.3">4</text>
<line x1="1667.12" y1="836.4" x2="1667.12" y2="842.9" stroke="#222" stroke-width="1.35"/>
<text x="1673.78" y="859.11" font-family="'Liberation Sans', Arial, sans-serif" font-size="18" font-weight="bold" text-anchor="end" transform="rotate(-45 1673.78 859.11)" letter-spacing="-1.3">6</text>
<line x1="1686.42" y1="836.4" x2="1686.42" y2="842.9" stroke="#222" stroke-width="1.35"/>
<text x="1693.08" y="859.11" font-family="'Liberation Sans', Arial, sans-serif" font-size="18" font-weight="bold" text-anchor="end" transform="rotate(-45 1693.08 859.11)" letter-spacing="-1.3">8</text>
<line x1="1705.73" y1="836.4" x2="1705.73" y2="842.9" stroke="#222" stroke-width="1.35"/>
<text x="1712.39" y="859.11" font-family="'Liberation Sans', Arial, sans-serif" font-size="18" font-weight="bold" text-anchor="end" transform="rotate(-45 1712.39 859.11)" letter-spacing="-1.3">10</text>
<line x1="1725.04" y1="836.4" x2="1725.04" y2="842.9" stroke="#222" stroke-width="1.35"/>
<text x="1731.69" y="859.11" font-family="'Liberation Sans', Arial, sans-serif" font-size="18" font-weight="bold" text-anchor="end" transform="rotate(-45 1731.69 859.11)" letter-spacing="-1.3">12</text>
<line x1="1744.34" y1="836.4" x2="1744.34" y2="842.9" stroke="#222" stroke-width="1.35"/>
<text x="1751" y="859.11" font-family="'Liberation Sans', Arial, sans-serif" font-size="18" font-weight="bold" text-anchor="end" transform="rotate(-45 1751 859.11)" letter-spacing="-1.3">14</text>
<line x1="1763.65" y1="836.4" x2="1763.65" y2="842.9" stroke="#222" stroke-width="1.35"/>
<text x="1770.31" y="859.11" font-family="'Liberation Sans', Arial, sans-serif" font-size="18" font-weight="bold" text-anchor="end" transform="rotate(-45 1770.31 859.11)" letter-spacing="-1.3">16</text>
<line x1="1782.95" y1="836.4" x2="1782.95" y2="842.9" stroke="#222" stroke-width="1.35"/>
<text x="1789.61" y="859.11" font-family="'Liberation Sans', Arial, sans-serif" font-size="18" font-weight="bold" text-anchor="end" transform="rotate(-45 1789.61 859.11)" letter-spacing="-1.3">18</text>
<line x1="1802.26" y1="836.4" x2="1802.26" y2="842.9" stroke="#222" stroke-width="1.35"/>
<text x="1808.92" y="859.11" font-family="'Liberation Sans', Arial, sans-serif" font-size="18" font-weight="bold" text-anchor="end" transform="rotate(-45 1808.92 859.11)" letter-spacing="-1.3">20</text>
<line x1="1821.57" y1="836.4" x2="1821.57" y2="842.9" stroke="#222" stroke-width="1.35"/>
<text x="1828.22" y="859.11" font-family="'Liberation Sans', Arial, sans-serif" font-size="18" font-weight="bold" text-anchor="end" transform="rotate(-45 1828.22 859.11)" letter-spacing="-1.3">22</text>
<line x1="1840.87" y1="836.4" x2="1840.87" y2="842.9" stroke="#222" stroke-width="1.35"/>
<text x="1847.53" y="859.11" font-family="'Liberation Sans', Arial, sans-serif" font-size="18" font-weight="bold" text-anchor="end" transform="rotate(-45 1847.53 859.11)" letter-spacing="-1.3">24</text>
<line x1="1860.18" y1="836.4" x2="1860.18" y2="842.9" stroke="#222" stroke-width="1.35"/>
<text x="1866.84" y="859.11" font-family="'Liberation Sans', Arial, sans-serif" font-size="18" font-weight="bold" text-anchor="end" transform="rotate(-45 1866.84 859.11)" letter-spacing="-1.3">26</text>
<line x1="1879.48" y1="836.4" x2="1879.48" y2="842.9" stroke="#222" stroke-width="1.35"/>
<text x="1886.14" y="859.11" font-family="'Liberation Sans', Arial, sans-serif" font-size="18" font-weight="bold" text-anchor="end" transform="rotate(-45 1886.14 859.11)" letter-spacing="-1.3">28</text>
<line x1="1898.79" y1="836.4" x2="1898.79" y2="842.9" stroke="#222" stroke-width="1.35"/>
<text x="1905.45" y="859.11" font-family="'Liberation Sans', Arial, sans-serif" font-size="18" font-weight="bold" text-anchor="end" transform="rotate(-45 1905.45 859.11)" letter-spacing="-1.3">30</text>
<rect x="1616.3" y="545.6" width="12.4" height="5" fill="#ff0000"/>
<text x="1862.5" y="569.6" font-family="'Liberation Serif', 'Times New Roman', serif" font-size="40" font-weight="bold" text-anchor="start">J</text>
<polyline points="1609.2,826.19 1618.85,649.28 1628.51,674.79" fill="none" stroke="#000" stroke-width="1.6"/>
<polyline points="1609.2,826.19 1618.85,747.94 1628.51,705.41" fill="none" stroke="#000" stroke-width="1.6"/>
<polyline points="1609.2,826.19 1618.85,681.6 1628.51,644.17 1638.16,739.44 1647.81,693.51 1676.77,817.69 1705.73,788.77" fill="none" stroke="#000" stroke-width="1.6"/>
<polyline points="1609.2,826.19 1618.85,645.88 1628.51,678.2 1638.16,673.09 1676.77,741.14 1705.73,790.47" fill="none" stroke="#000" stroke-width="1.6"/>
<polyline points="1609.2,826.19 1618.85,744.54 1628.51,754.75 1647.81,730.93 1676.77,826.19 1705.73,768.36 1744.34,815.99 1811.91,826.19 1879.48,826.19" fill="none" stroke="#000" stroke-width="1.6"/>
<polyline points="1609.2,826.19 1618.85,719.02 1628.51,710.52 1638.16,717.32 1647.81,826.19 1676.77,826.19 1705.73,764.95 1744.34,713.92 1811.91,826.19 1879.48,826.19" fill="none" stroke="#000" stroke-width="1.6"/>
<circle cx="1609.2" cy="826.19" r="6" fill="#8b0000" stroke="#000" stroke-width="1"/>
<circle cx="1618.85" cy="649.28" r="6" fill="#8b0000" stroke="#000" stroke-width="1"/>
<circle cx="1628.51" cy="674.79" r="6" fill="#8b0000" stroke="#000" stroke-width="1"/>
<path d="M1609.2 833.01L1616.2 822.01L1602.2 822.01Z" fill="#c8d200" stroke="#000" stroke-width="1"/>
<path d="M1618.85 754.76L1625.85 743.76L1611.85 743.76Z" fill="#c8d200" stroke="#000" stroke-width="1"/>
<path d="M1628.51 712.23L1635.51 701.23L1621.51 701.23Z" fill="#c8d200" stroke="#000" stroke-width="1"/>
<rect x="1603.4" y="820.39" width="11.6" height="11.6" fill="#650000" stroke="#000" stroke-width="1"/>
<rect x="1613.05" y="675.8" width="11.6" height="11.6" fill="#650000" stroke="#000" stroke-width="1"/>
<rect x="1622.71" y="638.37" width="11.6" height="11.6" fill="#650000" stroke="#000" stroke-width="1"/>
<rect x="1632.36" y="733.64" width="11.6" height="11.6" fill="#650000" stroke="#000" stroke-width="1"/>
<rect x="1642.01" y="687.71" width="11.6" height="11.6" fill="#650000" stroke="#000" stroke-width="1"/>
<rect x="1670.97" y="811.89" width="11.6" height="11.6" fill="#650000" stroke="#000" stroke-width="1"/>
<rect x="1699.93" y="782.97" width="11.6" height="11.6" fill="#650000" stroke="#000" stroke-width="1"/>
<path d="M1609.2 818.99L1616.4 826.19L1609.2 833.39L1602 826.19Z" fill="#ff8a00" stroke="#000" stroke-width="1"/>
<path d="M1618.85 638.68L1626.05 645.88L1618.85 653.08L1611.65 645.88Z" fill="#ff8a00" stroke="#000" stroke-width="1"/>
<path d="M1628.51 671L1635.71 678.2L1628.51 685.4L1621.31 678.2Z" fill="#ff8a00" stroke="#000" stroke-width="1"/>
<path d="M1638.16 665.89L1645.36 673.09L1638.16 680.29L1630.96 673.09Z" fill="#ff8a00" stroke="#000" stroke-width="1"/>
<path d="M1676.77 733.94L1683.97 741.14L1676.77 748.34L1669.57 741.14Z" fill="#ff8a00" stroke="#000" stroke-width="1"/>
<path d="M1705.73 783.27L1712.93 790.47L1705.73 797.67L1698.53 790.47Z" fill="#ff8a00" stroke="#000" stroke-width="1"/>
<path d="M1609.2 819.37L1616.2 830.37L1602.2 830.37Z" fill="#a4520a" stroke="#000" stroke-width="1"/>
<path d="M1618.85 737.72L1625.85 748.72L1611.85 748.72Z" fill="#a4520a" stroke="#000" stroke-width="1"/>
<path d="M1628.51 747.93L1635.51 758.93L1621.51 758.93Z" fill="#a4520a" stroke="#000" stroke-width="1"/>
<path d="M1647.81 724.11L1654.81 735.11L1640.81 735.11Z" fill="#a4520a" stroke="#000" stroke-width="1"/>
<path d="M1676.77 819.37L1683.77 830.37L1669.77 830.37Z" fill="#a4520a" stroke="#000" stroke-width="1"/>
<path d="M1705.73 761.54L1712.73 772.54L1698.73 772.54Z" fill="#a4520a" stroke="#000" stroke-width="1"/>
<path d="M1744.34 809.17L1751.34 820.17L1737.34 820.17Z" fill="#a4520a" stroke="#000" stroke-width="1"/>
<path d="M1811.91 819.37L1818.91 830.37L1804.91 830.37Z" fill="#a4520a" stroke="#000" stroke-width="1"/>
<path d="M1879.48 819.37L1886.48 830.37L1872.48 830.37Z" fill="#a4520a" stroke="#000" stroke-width="1"/>
<polygon points="1609.2,819.89 1603.47,823.04 1603.47,829.34 1609.2,832.49 1614.93,829.34 1614.93,823.04" fill="#8a8a00" stroke="#000" stroke-width="1"/>
<polygon points="1618.85,712.72 1613.12,715.87 1613.12,722.17 1618.85,725.32 1624.58,722.17 1624.58,715.87" fill="#8a8a00" stroke="#000" stroke-width="1"/>
<polygon points="1628.51,704.22 1622.78,707.37 1622.78,713.67 1628.51,716.82 1634.23,713.67 1634.23,707.37" fill="#8a8a00" stroke="#000" stroke-width="1"/>
<polygon points="1638.16,711.02 1632.43,714.17 1632.43,720.47 1638.16,723.62 1643.89,720.47 1643.89,714.17" fill="#8a8a00" stroke="#000" stroke-width="1"/>
<polygon points="1647.81,819.89 1642.08,823.04 1642.08,829.34 1647.81,832.49 1653.54,829.34 1653.54,823.04" fill="#8a8a00" stroke="#000" stroke-width="1"/>
<polygon points="1676.77,819.89 1671.04,823.04 1671.04,829.34 1676.77,832.49 1682.5,829.34 1682.5,823.04" fill="#8a8a00" stroke="#000" stroke-width="1"/>
<polygon points="1705.73,758.65 1700,761.8 1700,768.1 1705.73,771.25 1711.46,768.1 1711.46,761.8" fill="#8a8a00" stroke="#000" stroke-width="1"/>
<polygon points="1744.34,707.62 1738.61,710.77 1738.61,717.07 1744.34,720.22 1750.07,717.07 1750.07,710.77" fill="#8a8a00" stroke="#000" stroke-width="1"/>
<polygon points="1811.91,819.89 1806.18,823.04 1806.18,829.34 1811.91,832.49 1817.64,829.34 1817.64,823.04" fill="#8a8a00" stroke="#000" stroke-width="1"/>
<polygon points="1879.48,819.89 1873.76,823.04 1873.76,829.34 1879.48,832.49 1885.21,829.34 1885.21,823.04" fill="#8a8a00" stroke="#000" stroke-width="1"/>
<rect x="1107.7" y="964.1" width="306" height="306.6" fill="none" stroke="#6a6a6a" stroke-width="1.7"/>
<line x1="1098.7" y1="1270.7" x2="1107.7" y2="1270.7" stroke="#6a6a6a" stroke-width="1.7"/>
<text x="1088" y="1278.8" font-family="'Liberation Sans', Arial, sans-serif" font-size="22.5" font-weight="bold" text-anchor="end">1</text>
<line x1="1098.7" y1="1236.63" x2="1107.7" y2="1236.63" stroke="#222" stroke-width="1.35"/>
<text x="1088" y="1244.73" font-family="'Liberation Sans', Arial, sans-serif" font-size="22.5" font-weight="bold" text-anchor="end">2</text>
<line x1="1098.7" y1="1202.57" x2="1107.7" y2="1202.57" stroke="#222" stroke-width="1.35"/>
<text x="1088" y="1210.67" font-family="'Liberation Sans', Arial, sans-serif" font-size="22.5" font-weight="bold" text-anchor="end">3</text>
<line x1="1098.7" y1="1168.5" x2="1107.7" y2="1168.5" stroke="#222" stroke-width="1.35"/>
<text x="1088" y="1176.6" font-family="'Liberation Sans', Arial, sans-serif" font-size="22.5" font-weight="bold" text-anchor="end">4</text>
<line x1="1098.7" y1="1134.43" x2="1107.7" y2="1134.43" stroke="#222" stroke-width="1.35"/>
<text x="1088" y="1142.53" font-family="'Liberation Sans', Arial, sans-serif" font-size="22.5" font-weight="bold" text-anchor="end">5</text>
<line x1="1098.7" y1="1100.37" x2="1107.7" y2="1100.37" stroke="#222" stroke-width="1.35"/>
<text x="1088" y="1108.47" font-family="'Liberation Sans', Arial, sans-serif" font-size="22.5" font-weight="bold" text-anchor="end">6</text>
<line x1="1098.7" y1="1066.3" x2="1107.7" y2="1066.3" stroke="#222" stroke-width="1.35"/>
<text x="1088" y="1074.4" font-family="'Liberation Sans', Arial, sans-serif" font-size="22.5" font-weight="bold" text-anchor="end">7</text>
<line x1="1098.7" y1="1032.23" x2="1107.7" y2="1032.23" stroke="#222" stroke-width="1.35"/>
<text x="1088" y="1040.33" font-family="'Liberation Sans', Arial, sans-serif" font-size="22.5" font-weight="bold" text-anchor="end">8</text>
<line x1="1098.7" y1="998.17" x2="1107.7" y2="998.17" stroke="#222" stroke-width="1.35"/>
<text x="1088" y="1006.27" font-family="'Liberation Sans', Arial, sans-serif" font-size="22.5" font-weight="bold" text-anchor="end">9</text>
<line x1="1098.7" y1="964.1" x2="1107.7" y2="964.1" stroke="#6a6a6a" stroke-width="1.7"/>
<text x="1088" y="972.2" font-family="'Liberation Sans', Arial, sans-serif" font-size="22.5" font-weight="bold" text-anchor="end">10</text>
<line x1="1124.7" y1="1270.7" x2="1124.7" y2="1277.2" stroke="#222" stroke-width="1.35"/>
<text x="1131.36" y="1293.41" font-family="'Liberation Sans', Arial, sans-serif" font-size="18" font-weight="bold" text-anchor="end" transform="rotate(-45 1131.36 1293.41)" letter-spacing="-1.3">0</text>
<line x1="1143.97" y1="1270.7" x2="1143.97" y2="1277.2" stroke="#222" stroke-width="1.35"/>
<text x="1150.62" y="1293.41" font-family="'Liberation Sans', Arial, sans-serif" font-size="18" font-weight="bold" text-anchor="end" transform="rotate(-45 1150.62 1293.41)" letter-spacing="-1.3">2</text>
<line x1="1163.23" y1="1270.7" x2="1163.23" y2="1277.2" stroke="#222" stroke-width="1.35"/>
<text x="1169.89" y="1293.41" font-family="'Liberation Sans', Arial, sans-serif" font-size="18" font-weight="bold" text-anchor="end" transform="rotate(-45 1169.89 1293.41)" letter-spacing="-1.3">4</text>
<line x1="1182.5" y1="1270.7" x2="1182.5" y2="1277.2" stroke="#222" stroke-width="1.35"/>
<text x="1189.16" y="1293.41" font-family="'Liberation Sans', Arial, sans-serif" font-size="18" font-weight="bold" text-anchor="end" transform="rotate(-45 1189.16 1293.41)" letter-spacing="-1.3">6</text>
<line x1="1201.76" y1="1270.7" x2="1201.76" y2="1277.2" stroke="#222" stroke-width="1.35"/>
<text x="1208.42" y="1293.41" font-family="'Liberation Sans', Arial, sans-serif" font-size="18" font-weight="bold" text-anchor="end" transform="rotate(-45 1208.42 1293.41)" letter-spacing="-1.3">8</text>
<line x1="1221.03" y1="1270.7" x2="1221.03" y2="1277.2" stroke="#222" stroke-width="1.35"/>
<text x="1227.69" y="1293.41" font-family="'Liberation Sans', Arial, sans-serif" font-size="18" font-weight="bold" text-anchor="end" transform="rotate(-45 1227.69 1293.41)" letter-spacing="-1.3">10</text>
<line x1="1240.3" y1="1270.7" x2="1240.3" y2="1277.2" stroke="#222" stroke-width="1.35"/>
<text x="1246.95" y="1293.41" font-family="'Liberation Sans', Arial, sans-serif" font-size="18" font-weight="bold" text-anchor="end" transform="rotate(-45 1246.95 1293.41)" letter-spacing="-1.3">12</text>
<line x1="1259.56" y1="1270.7" x2="1259.56" y2="1277.2" stroke="#222" stroke-width="1.35"/>
<text x="1266.22" y="1293.41" font-family="'Liberation Sans', Arial, sans-serif" font-size="18" font-weight="bold" text-anchor="end" transform="rotate(-45 1266.22 1293.41)" letter-spacing="-1.3">14</text>
<line x1="1278.83" y1="1270.7" x2="1278.83" y2="1277.2" stroke="#222" stroke-width="1.35"/>
<text x="1285.49" y="1293.41" font-family="'Liberation Sans', Arial, sans-serif" font-size="18" font-weight="bold" text-anchor="end" transform="rotate(-45 1285.49 1293.41)" letter-spacing="-1.3">16</text>
<line x1="1298.09" y1="1270.7" x2="1298.09" y2="1277.2" stroke="#222" stroke-width="1.35"/>
<text x="1304.75" y="1293.41" font-family="'Liberation Sans', Arial, sans-serif" font-size="18" font-weight="bold" text-anchor="end" transform="rotate(-45 1304.75 1293.41)" letter-spacing="-1.3">18</text>
<line x1="1317.36" y1="1270.7" x2="1317.36" y2="1277.2" stroke="#222" stroke-width="1.35"/>
<text x="1324.02" y="1293.41" font-family="'Liberation Sans', Arial, sans-serif" font-size="18" font-weight="bold" text-anchor="end" transform="rotate(-45 1324.02 1293.41)" letter-spacing="-1.3">20</text>
<line x1="1336.63" y1="1270.7" x2="1336.63" y2="1277.2" stroke="#222" stroke-width="1.35"/>
<text x="1343.28" y="1293.41" font-family="'Liberation Sans', Arial, sans-serif" font-size="18" font-weight="bold" text-anchor="end" transform="rotate(-45 1343.28 1293.41)" letter-spacing="-1.3">22</text>
<line x1="1355.89" y1="1270.7" x2="1355.89" y2="1277.2" stroke="#222" stroke-width="1.35"/>
<text x="1362.55" y="1293.41" font-family="'Liberation Sans', Arial, sans-serif" font-size="18" font-weight="bold" text-anchor="end" transform="rotate(-45 1362.55 1293.41)" letter-spacing="-1.3">24</text>
<line x1="1375.16" y1="1270.7" x2="1375.16" y2="1277.2" stroke="#222" stroke-width="1.35"/>
<text x="1381.82" y="1293.41" font-family="'Liberation Sans', Arial, sans-serif" font-size="18" font-weight="bold" text-anchor="end" transform="rotate(-45 1381.82 1293.41)" letter-spacing="-1.3">26</text>
<line x1="1394.42" y1="1270.7" x2="1394.42" y2="1277.2" stroke="#222" stroke-width="1.35"/>
<text x="1401.08" y="1293.41" font-family="'Liberation Sans', Arial, sans-serif" font-size="18" font-weight="bold" text-anchor="end" transform="rotate(-45 1401.08 1293.41)" letter-spacing="-1.3">28</text>
<line x1="1413.69" y1="1270.7" x2="1413.69" y2="1277.2" stroke="#222" stroke-width="1.35"/>
<text x="1420.35" y="1293.41" font-family="'Liberation Sans', Arial, sans-serif" font-size="18" font-weight="bold" text-anchor="end" transform="rotate(-45 1420.35 1293.41)" letter-spacing="-1.3">30</text>
<rect x="1132.9" y="989.65" width="11.5" height="4.5" fill="#00b050"/>
<rect x="1132.9" y="998.45" width="11.5" height="4.5" fill="#00b050"/>
<rect x="1132.9" y="1006.65" width="91" height="4.5" fill="#00b050"/>
<rect x="1132.9" y="1014.85" width="91" height="4.5" fill="#00b050"/>
<text x="1375" y="1002.4" font-family="'Liberation Serif', 'Times New Roman', serif" font-size="40" font-weight="bold" text-anchor="start">K</text>
<polyline points="1124.7,1260.48 1134.33,1226.41 1143.97,1260.48" fill="none" stroke="#000" stroke-width="1.6"/>
<polyline points="1124.7,1260.48 1134.33,1187.24 1143.97,1194.05" fill="none" stroke="#000" stroke-width="1.6"/>
<polyline points="1124.7,1260.48 1134.33,1180.42 1143.97,1192.35 1153.6,1226.41 1163.23,1233.23 1192.13,1212.79 1221.03,1260.48 1259.56,1260.48 1326.99,1260.48 1394.42,1260.48" fill="none" stroke="#000" stroke-width="1.6"/>
<polyline points="1124.7,1260.48 1134.33,1131.03 1143.97,1204.27 1153.6,1236.63 1163.23,1260.48 1192.13,1260.48 1221.03,1260.48 1259.56,1260.48 1326.99,1260.48 1394.42,1260.48" fill="none" stroke="#000" stroke-width="1.6"/>
<circle cx="1124.7" cy="1260.48" r="6" fill="#4b1a8a" stroke="#000" stroke-width="1"/>
<circle cx="1134.33" cy="1226.41" r="6" fill="#4b1a8a" stroke="#000" stroke-width="1"/>
<circle cx="1143.97" cy="1260.48" r="6" fill="#4b1a8a" stroke="#000" stroke-width="1"/>
<path d="M1124.7 1267.3L1131.7 1256.3L1117.7 1256.3Z" fill="#000080" stroke="#000" stroke-width="1"/>
<path d="M1134.33 1194.06L1141.33 1183.06L1127.33 1183.06Z" fill="#000080" stroke="#000" stroke-width="1"/>
<path d="M1143.97 1200.87L1150.97 1189.87L1136.97 1189.87Z" fill="#000080" stroke="#000" stroke-width="1"/>
<rect x="1118.9" y="1254.68" width="11.6" height="11.6" fill="#0a14ff" stroke="#000" stroke-width="1"/>
<rect x="1128.53" y="1174.62" width="11.6" height="11.6" fill="#0a14ff" stroke="#000" stroke-width="1"/>
<rect x="1138.17" y="1186.55" width="11.6" height="11.6" fill="#0a14ff" stroke="#000" stroke-width="1"/>
<rect x="1147.8" y="1220.61" width="11.6" height="11.6" fill="#0a14ff" stroke="#000" stroke-width="1"/>
<rect x="1157.43" y="1227.43" width="11.6" height="11.6" fill="#0a14ff" stroke="#000" stroke-width="1"/>
<rect x="1186.33" y="1206.99" width="11.6" height="11.6" fill="#0a14ff" stroke="#000" stroke-width="1"/>
<rect x="1215.23" y="1254.68" width="11.6" height="11.6" fill="#0a14ff" stroke="#000" stroke-width="1"/>
<rect x="1253.76" y="1254.68" width="11.6" height="11.6" fill="#0a14ff" stroke="#000" stroke-width="1"/>
<rect x="1321.19" y="1254.68" width="11.6" height="11.6" fill="#0a14ff" stroke="#000" stroke-width="1"/>
<rect x="1388.62" y="1254.68" width="11.6" height="11.6" fill="#0a14ff" stroke="#000" stroke-width="1"/>
<path d="M1124.7 1253.28L1131.9 1260.48L1124.7 1267.68L1117.5 1260.48Z" fill="#14c814" stroke="#000" stroke-width="1"/>
<path d="M1134.33 1123.83L1141.53 1131.03L1134.33 1138.23L1127.13 1131.03Z" fill="#14c814" stroke="#000" stroke-width="1"/>
<path d="M1143.97 1197.07L1151.17 1204.27L1143.97 1211.47L1136.77 1204.27Z" fill="#14c814" stroke="#000" stroke-width="1"/>
<path d="M1153.6 1229.43L1160.8 1236.63L1153.6 1243.83L1146.4 1236.63Z" fill="#14c814" stroke="#000" stroke-width="1"/>
<path d="M1163.23 1253.28L1170.43 1260.48L1163.23 1267.68L1156.03 1260.48Z" fill="#14c814" stroke="#000" stroke-width="1"/>
<path d="M1192.13 1253.28L1199.33 1260.48L1192.13 1267.68L1184.93 1260.48Z" fill="#14c814" stroke="#000" stroke-width="1"/>
<path d="M1221.03 1253.28L1228.23 1260.48L1221.03 1267.68L1213.83 1260.48Z" fill="#14c814" stroke="#000" stroke-width="1"/>
<path d="M1259.56 1253.28L1266.76 1260.48L1259.56 1267.68L1252.36 1260.48Z" fill="#14c814" stroke="#000" stroke-width="1"/>
<path d="M1326.99 1253.28L1334.19 1260.48L1326.99 1267.68L1319.79 1260.48Z" fill="#14c814" stroke="#000" stroke-width="1"/>
<path d="M1394.42 1253.28L1401.62 1260.48L1394.42 1267.68L1387.22 1260.48Z" fill="#14c814" stroke="#000" stroke-width="1"/>
<rect x="1593.1" y="964.1" width="305.9" height="307.2" fill="none" stroke="#6a6a6a" stroke-width="1.7"/>
<line x1="1584.1" y1="1271.3" x2="1593.1" y2="1271.3" stroke="#6a6a6a" stroke-width="1.7"/>
<text x="1573.3" y="1279.4" font-family="'Liberation Sans', Arial, sans-serif" font-size="22.5" font-weight="bold" text-anchor="end">1</text>
<line x1="1584.1" y1="1237.17" x2="1593.1" y2="1237.17" stroke="#222" stroke-width="1.35"/>
<text x="1573.3" y="1245.27" font-family="'Liberation Sans', Arial, sans-serif" font-size="22.5" font-weight="bold" text-anchor="end">2</text>
<line x1="1584.1" y1="1203.03" x2="1593.1" y2="1203.03" stroke="#222" stroke-width="1.35"/>
<text x="1573.3" y="1211.13" font-family="'Liberation Sans', Arial, sans-serif" font-size="22.5" font-weight="bold" text-anchor="end">3</text>
<line x1="1584.1" y1="1168.9" x2="1593.1" y2="1168.9" stroke="#222" stroke-width="1.35"/>
<text x="1573.3" y="1177" font-family="'Liberation Sans', Arial, sans-serif" font-size="22.5" font-weight="bold" text-anchor="end">4</text>
<line x1="1584.1" y1="1134.77" x2="1593.1" y2="1134.77" stroke="#222" stroke-width="1.35"/>
<text x="1573.3" y="1142.87" font-family="'Liberation Sans', Arial, sans-serif" font-size="22.5" font-weight="bold" text-anchor="end">5</text>
<line x1="1584.1" y1="1100.63" x2="1593.1" y2="1100.63" stroke="#222" stroke-width="1.35"/>
<text x="1573.3" y="1108.73" font-family="'Liberation Sans', Arial, sans-serif" font-size="22.5" font-weight="bold" text-anchor="end">6</text>
<line x1="1584.1" y1="1066.5" x2="1593.1" y2="1066.5" stroke="#222" stroke-width="1.35"/>
<text x="1573.3" y="1074.6" font-family="'Liberation Sans', Arial, sans-serif" font-size="22.5" font-weight="bold" text-anchor="end">7</text>
<line x1="1584.1" y1="1032.37" x2="1593.1" y2="1032.37" stroke="#222" stroke-width="1.35"/>
<text x="1573.3" y="1040.47" font-family="'Liberation Sans', Arial, sans-serif" font-size="22.5" font-weight="bold" text-anchor="end">8</text>
<line x1="1584.1" y1="998.23" x2="1593.1" y2="998.23" stroke="#222" stroke-width="1.35"/>
<text x="1573.3" y="1006.33" font-family="'Liberation Sans', Arial, sans-serif" font-size="22.5" font-weight="bold" text-anchor="end">9</text>
<line x1="1584.1" y1="964.1" x2="1593.1" y2="964.1" stroke="#6a6a6a" stroke-width="1.7"/>
<text x="1573.3" y="972.2" font-family="'Liberation Sans', Arial, sans-serif" font-size="22.5" font-weight="bold" text-anchor="end">10</text>
<line x1="1609.5" y1="1271.3" x2="1609.5" y2="1277.8" stroke="#222" stroke-width="1.35"/>
<text x="1616.16" y="1294.01" font-family="'Liberation Sans', Arial, sans-serif" font-size="18" font-weight="bold" text-anchor="end" transform="rotate(-45 1616.16 1294.01)" letter-spacing="-1.3">0</text>
<line x1="1628.8" y1="1271.3" x2="1628.8" y2="1277.8" stroke="#222" stroke-width="1.35"/>
<text x="1635.46" y="1294.01" font-family="'Liberation Sans', Arial, sans-serif" font-size="18" font-weight="bold" text-anchor="end" transform="rotate(-45 1635.46 1294.01)" letter-spacing="-1.3">2</text>
<line x1="1648.1" y1="1271.3" x2="1648.1" y2="1277.8" stroke="#222" stroke-width="1.35"/>
<text x="1654.76" y="1294.01" font-family="'Liberation Sans', Arial, sans-serif" font-size="18" font-weight="bold" text-anchor="end" transform="rotate(-45 1654.76 1294.01)" letter-spacing="-1.3">4</text>
<line x1="1667.4" y1="1271.3" x2="1667.4" y2="1277.8" stroke="#222" stroke-width="1.35"/>
<text x="1674.06" y="1294.01" font-family="'Liberation Sans', Arial, sans-serif" font-size="18" font-weight="bold" text-anchor="end" transform="rotate(-45 1674.06 1294.01)" letter-spacing="-1.3">6</text>
<line x1="1686.7" y1="1271.3" x2="1686.7" y2="1277.8" stroke="#222" stroke-width="1.35"/>
<text x="1693.36" y="1294.01" font-family="'Liberation Sans', Arial, sans-serif" font-size="18" font-weight="bold" text-anchor="end" transform="rotate(-45 1693.36 1294.01)" letter-spacing="-1.3">8</text>
<line x1="1706" y1="1271.3" x2="1706" y2="1277.8" stroke="#222" stroke-width="1.35"/>
<text x="1712.66" y="1294.01" font-family="'Liberation Sans', Arial, sans-serif" font-size="18" font-weight="bold" text-anchor="end" transform="rotate(-45 1712.66 1294.01)" letter-spacing="-1.3">10</text>
<line x1="1725.3" y1="1271.3" x2="1725.3" y2="1277.8" stroke="#222" stroke-width="1.35"/>
<text x="1731.96" y="1294.01" font-family="'Liberation Sans', Arial, sans-serif" font-size="18" font-weight="bold" text-anchor="end" transform="rotate(-45 1731.96 1294.01)" letter-spacing="-1.3">12</text>
<line x1="1744.6" y1="1271.3" x2="1744.6" y2="1277.8" stroke="#222" stroke-width="1.35"/>
<text x="1751.26" y="1294.01" font-family="'Liberation Sans', Arial, sans-serif" font-size="18" font-weight="bold" text-anchor="end" transform="rotate(-45 1751.26 1294.01)" letter-spacing="-1.3">14</text>
<line x1="1763.9" y1="1271.3" x2="1763.9" y2="1277.8" stroke="#222" stroke-width="1.35"/>
<text x="1770.56" y="1294.01" font-family="'Liberation Sans', Arial, sans-serif" font-size="18" font-weight="bold" text-anchor="end" transform="rotate(-45 1770.56 1294.01)" letter-spacing="-1.3">16</text>
<line x1="1783.2" y1="1271.3" x2="1783.2" y2="1277.8" stroke="#222" stroke-width="1.35"/>
<text x="1789.86" y="1294.01" font-family="'Liberation Sans', Arial, sans-serif" font-size="18" font-weight="bold" text-anchor="end" transform="rotate(-45 1789.86 1294.01)" letter-spacing="-1.3">18</text>
<line x1="1802.5" y1="1271.3" x2="1802.5" y2="1277.8" stroke="#222" stroke-width="1.35"/>
<text x="1809.16" y="1294.01" font-family="'Liberation Sans', Arial, sans-serif" font-size="18" font-weight="bold" text-anchor="end" transform="rotate(-45 1809.16 1294.01)" letter-spacing="-1.3">20</text>
<line x1="1821.8" y1="1271.3" x2="1821.8" y2="1277.8" stroke="#222" stroke-width="1.35"/>
<text x="1828.46" y="1294.01" font-family="'Liberation Sans', Arial, sans-serif" font-size="18" font-weight="bold" text-anchor="end" transform="rotate(-45 1828.46 1294.01)" letter-spacing="-1.3">22</text>
<line x1="1841.1" y1="1271.3" x2="1841.1" y2="1277.8" stroke="#222" stroke-width="1.35"/>
<text x="1847.76" y="1294.01" font-family="'Liberation Sans', Arial, sans-serif" font-size="18" font-weight="bold" text-anchor="end" transform="rotate(-45 1847.76 1294.01)" letter-spacing="-1.3">24</text>
<line x1="1860.4" y1="1271.3" x2="1860.4" y2="1277.8" stroke="#222" stroke-width="1.35"/>
<text x="1867.06" y="1294.01" font-family="'Liberation Sans', Arial, sans-serif" font-size="18" font-weight="bold" text-anchor="end" transform="rotate(-45 1867.06 1294.01)" letter-spacing="-1.3">26</text>
<line x1="1879.7" y1="1271.3" x2="1879.7" y2="1277.8" stroke="#222" stroke-width="1.35"/>
<text x="1886.36" y="1294.01" font-family="'Liberation Sans', Arial, sans-serif" font-size="18" font-weight="bold" text-anchor="end" transform="rotate(-45 1886.36 1294.01)" letter-spacing="-1.3">28</text>
<line x1="1899" y1="1271.3" x2="1899" y2="1277.8" stroke="#222" stroke-width="1.35"/>
<text x="1905.66" y="1294.01" font-family="'Liberation Sans', Arial, sans-serif" font-size="18" font-weight="bold" text-anchor="end" transform="rotate(-45 1905.66 1294.01)" letter-spacing="-1.3">30</text>
<rect x="1623.2" y="992.55" width="12.1" height="4.5" fill="#00b050"/>
<rect x="1623.2" y="1000.05" width="12.1" height="4.5" fill="#00b050"/>
<rect x="1623.2" y="1007.95" width="91.6" height="4.5" fill="#00b050"/>
<rect x="1623.2" y="1015.45" width="91.6" height="4.5" fill="#00b050"/>
<text x="1864" y="1005" font-family="'Liberation Serif', 'Times New Roman', serif" font-size="40" font-weight="bold" text-anchor="start">L</text>
<polyline points="1609.5,1261.06 1619.15,1261.06 1628.8,1261.06" fill="none" stroke="#000" stroke-width="1.6"/>
<polyline points="1609.5,1261.06 1619.15,1261.06 1628.8,1213.27" fill="none" stroke="#000" stroke-width="1.6"/>
<polyline points="1609.5,1261.06 1619.15,1261.06 1628.8,1203.03 1638.45,1226.93 1648.1,1223.51 1677.05,1221.81 1706,1261.06 1744.6,1261.06 1812.15,1261.06 1879.7,1261.06" fill="none" stroke="#000" stroke-width="1.6"/>
<polyline points="1609.5,1261.06 1619.15,1261.06 1628.8,1220.1 1638.45,1261.06 1648.1,1261.06 1677.05,1261.06 1706,1261.06 1744.6,1261.06 1812.15,1261.06 1879.7,1261.06" fill="none" stroke="#000" stroke-width="1.6"/>
<circle cx="1609.5" cy="1261.06" r="6" fill="#4b1a8a" stroke="#000" stroke-width="1"/>
<circle cx="1619.15" cy="1261.06" r="6" fill="#4b1a8a" stroke="#000" stroke-width="1"/>
<circle cx="1628.8" cy="1261.06" r="6" fill="#4b1a8a" stroke="#000" stroke-width="1"/>
<path d="M1609.5 1267.88L1616.5 1256.88L1602.5 1256.88Z" fill="#000080" stroke="#000" stroke-width="1"/>
<path d="M1619.15 1267.88L1626.15 1256.88L1612.15 1256.88Z" fill="#000080" stroke="#000" stroke-width="1"/>
<path d="M1628.8 1220.09L1635.8 1209.09L1621.8 1209.09Z" fill="#000080" stroke="#000" stroke-width="1"/>
<rect x="1603.7" y="1255.26" width="11.6" height="11.6" fill="#0a14ff" stroke="#000" stroke-width="1"/>
<rect x="1613.35" y="1255.26" width="11.6" height="11.6" fill="#0a14ff" stroke="#000" stroke-width="1"/>
<rect x="1623" y="1197.23" width="11.6" height="11.6" fill="#0a14ff" stroke="#000" stroke-width="1"/>
<rect x="1632.65" y="1221.13" width="11.6" height="11.6" fill="#0a14ff" stroke="#000" stroke-width="1"/>
<rect x="1642.3" y="1217.71" width="11.6" height="11.6" fill="#0a14ff" stroke="#000" stroke-width="1"/>
<rect x="1671.25" y="1216.01" width="11.6" height="11.6" fill="#0a14ff" stroke="#000" stroke-width="1"/>
<rect x="1700.2" y="1255.26" width="11.6" height="11.6" fill="#0a14ff" stroke="#000" stroke-width="1"/>
<rect x="1738.8" y="1255.26" width="11.6" height="11.6" fill="#0a14ff" stroke="#000" stroke-width="1"/>
<rect x="1806.35" y="1255.26" width="11.6" height="11.6" fill="#0a14ff" stroke="#000" stroke-width="1"/>
<rect x="1873.9" y="1255.26" width="11.6" height="11.6" fill="#0a14ff" stroke="#000" stroke-width="1"/>
<path d="M1609.5 1253.86L1616.7 1261.06L1609.5 1268.26L1602.3 1261.06Z" fill="#14c814" stroke="#000" stroke-width="1"/>
<path d="M1619.15 1253.86L1626.35 1261.06L1619.15 1268.26L1611.95 1261.06Z" fill="#14c814" stroke="#000" stroke-width="1"/>
<path d="M1628.8 1212.9L1636 1220.1L1628.8 1227.3L1621.6 1220.1Z" fill="#14c814" stroke="#000" stroke-width="1"/>
<path d="M1638.45 1253.86L1645.65 1261.06L1638.45 1268.26L1631.25 1261.06Z" fill="#14c814" stroke="#000" stroke-width="1"/>
<path d="M1648.1 1253.86L1655.3 1261.06L1648.1 1268.26L1640.9 1261.06Z" fill="#14c814" stroke="#000" stroke-width="1"/>
<path d="M1677.05 1253.86L1684.25 1261.06L1677.05 1268.26L1669.85 1261.06Z" fill="#14c814" stroke="#000" stroke-width="1"/>
<path d="M1706 1253.86L1713.2 1261.06L1706 1268.26L1698.8 1261.06Z" fill="#14c814" stroke="#000" stroke-width="1"/>
<path d="M1744.6 1253.86L1751.8 1261.06L1744.6 1268.26L1737.4 1261.06Z" fill="#14c814" stroke="#000" stroke-width="1"/>
<path d="M1812.15 1253.86L1819.35 1261.06L1812.15 1268.26L1804.95 1261.06Z" fill="#14c814" stroke="#000" stroke-width="1"/>
<path d="M1879.7 1253.86L1886.9 1261.06L1879.7 1268.26L1872.5 1261.06Z" fill="#14c814" stroke="#000" stroke-width="1"/>
<text x="161.5" y="429.18" font-family="'Liberation Sans', Arial, sans-serif" font-size="12" font-weight="bold" text-anchor="end" textLength="21" lengthAdjust="spacingAndGlyphs" stroke="#000" stroke-width="0.35">S62</text>
<text x="161.5" y="443.83" font-family="'Liberation Sans', Arial, sans-serif" font-size="12" font-weight="bold" text-anchor="end" textLength="21" lengthAdjust="spacingAndGlyphs" stroke="#000" stroke-width="0.35">S63</text>
<text x="161.5" y="458.49" font-family="'Liberation Sans', Arial, sans-serif" font-size="12" font-weight="bold" text-anchor="end" textLength="21" lengthAdjust="spacingAndGlyphs" stroke="#000" stroke-width="0.35">S64</text>
<text x="161.5" y="473.15" font-family="'Liberation Sans', Arial, sans-serif" font-size="12" font-weight="bold" text-anchor="end" textLength="21" lengthAdjust="spacingAndGlyphs" stroke="#000" stroke-width="0.35">S65</text>
<text x="161.5" y="487.81" font-family="'Liberation Sans', Arial, sans-serif" font-size="12" font-weight="bold" text-anchor="end" textLength="21" lengthAdjust="spacingAndGlyphs" stroke="#000" stroke-width="0.35">S60</text>
<text x="161.5" y="502.46" font-family="'Liberation Sans', Arial, sans-serif" font-size="12" font-weight="bold" text-anchor="end" textLength="21" lengthAdjust="spacingAndGlyphs" stroke="#000" stroke-width="0.35">S61</text>
<rect x="164.1" y="419.7" width="22.4" height="29.63" fill="#2f4f95"/>
<rect x="164.1" y="448.33" width="44.9" height="57.27" fill="#2f4f95"/>
<rect x="166.1" y="421.7" width="7.9" height="10.32" fill="#ff0000"/>
<rect x="166.1" y="436.02" width="7.9" height="10.32" fill="#00b050"/>
<rect x="166.1" y="450.33" width="7.9" height="10.32" fill="#00b050"/>
<rect x="166.1" y="464.65" width="7.9" height="10.32" fill="#00b050"/>
<rect x="166.1" y="478.97" width="7.9" height="10.32" fill="#ff0000"/>
<rect x="166.1" y="493.28" width="7.9" height="10.32" fill="#ff0000"/>
<rect x="176" y="421.7" width="8.5" height="10.32" fill="#ff0000"/>
<rect x="176" y="436.02" width="8.5" height="10.32" fill="#ff0000"/>
<rect x="176" y="450.33" width="9.5" height="10.32" fill="#00b050"/>
<rect x="176" y="464.65" width="9.5" height="10.32" fill="#00b050"/>
<rect x="176" y="478.97" width="9.5" height="10.32" fill="#00b050"/>
<rect x="176" y="493.28" width="9.5" height="10.32" fill="#ff0000"/>
<rect x="187.5" y="450.33" width="9.3" height="10.32" fill="#00b050"/>
<rect x="187.5" y="464.65" width="9.3" height="10.32" fill="#00b050"/>
<rect x="187.5" y="478.97" width="9.3" height="10.32" fill="#ff0000"/>
<rect x="187.5" y="493.28" width="9.3" height="10.32" fill="#00b050"/>
<rect x="198.8" y="450.33" width="8.2" height="10.32" fill="#00b050"/>
<rect x="198.8" y="464.65" width="8.2" height="10.32" fill="#00b050"/>
<rect x="198.8" y="478.97" width="8.2" height="10.32" fill="#00b050"/>
<rect x="198.8" y="493.28" width="8.2" height="10.32" fill="#00b050"/>
<rect x="219" y="449.5" width="12.7" height="56.1" fill="#2f4f95"/>
<rect x="221" y="451.5" width="8.7" height="10.03" fill="#00b050"/>
<rect x="221" y="465.52" width="8.7" height="10.03" fill="#00b050"/>
<rect x="221" y="479.55" width="8.7" height="10.03" fill="#00b050"/>
<rect x="221" y="493.58" width="8.7" height="10.03" fill="#00b050"/>
<rect x="246.8" y="451.8" width="12.3" height="53.8" fill="#2f4f95"/>
<rect x="248.8" y="453.8" width="8.3" height="9.45" fill="#00b050"/>
<rect x="248.8" y="467.25" width="8.3" height="9.45" fill="#00b050"/>
<rect x="248.8" y="480.7" width="8.3" height="9.45" fill="#00b050"/>
<rect x="248.8" y="494.15" width="8.3" height="9.45" fill="#00b050"/>
<rect x="281.9" y="477.4" width="12.7" height="28.2" fill="#2f4f95"/>
<rect x="283.9" y="479.4" width="8.7" height="10.1" fill="#00b050"/>
<rect x="283.9" y="493.5" width="8.7" height="10.1" fill="#00b050"/>
<rect x="352" y="483" width="12.4" height="22.6" fill="#2f4f95"/>
<rect x="354" y="485" width="8.4" height="7.3" fill="#00b050"/>
<rect x="354" y="496.3" width="8.4" height="7.3" fill="#00b050"/>
<rect x="419.1" y="483" width="12.9" height="22.6" fill="#2f4f95"/>
<rect x="421.1" y="485" width="8.9" height="7.3" fill="#00b050"/>
<rect x="421.1" y="496.3" width="8.9" height="7.3" fill="#00b050"/>
<text x="632.5" y="430.23" font-family="'Liberation Sans', Arial, sans-serif" font-size="12" font-weight="bold" text-anchor="end" textLength="21" lengthAdjust="spacingAndGlyphs" stroke="#000" stroke-width="0.35">S62</text>
<text x="632.5" y="444.58" font-family="'Liberation Sans', Arial, sans-serif" font-size="12" font-weight="bold" text-anchor="end" textLength="21" lengthAdjust="spacingAndGlyphs" stroke="#000" stroke-width="0.35">S63</text>
<text x="632.5" y="458.94" font-family="'Liberation Sans', Arial, sans-serif" font-size="12" font-weight="bold" text-anchor="end" textLength="21" lengthAdjust="spacingAndGlyphs" stroke="#000" stroke-width="0.35">S64</text>
<text x="632.5" y="473.3" font-family="'Liberation Sans', Arial, sans-serif" font-size="12" font-weight="bold" text-anchor="end" textLength="21" lengthAdjust="spacingAndGlyphs" stroke="#000" stroke-width="0.35">S65</text>
<text x="632.5" y="487.65" font-family="'Liberation Sans', Arial, sans-serif" font-size="12" font-weight="bold" text-anchor="end" textLength="21" lengthAdjust="spacingAndGlyphs" stroke="#000" stroke-width="0.35">S60</text>
<text x="632.5" y="502.01" font-family="'Liberation Sans', Arial, sans-serif" font-size="12" font-weight="bold" text-anchor="end" textLength="21" lengthAdjust="spacingAndGlyphs" stroke="#000" stroke-width="0.35">S61</text>
<rect x="640.2" y="420.9" width="21.3" height="29.03" fill="#2f4f95"/>
<rect x="640.2" y="448.93" width="42.6" height="56.07" fill="#2f4f95"/>
<rect x="642.2" y="422.9" width="7.8" height="10.02" fill="#ff0000"/>
<rect x="642.2" y="436.92" width="7.8" height="10.02" fill="#00b050"/>
<rect x="642.2" y="450.93" width="7.8" height="10.02" fill="#ff0000"/>
<rect x="642.2" y="464.95" width="7.8" height="10.02" fill="#ff0000"/>
<rect x="642.2" y="478.97" width="7.8" height="10.02" fill="#ff0000"/>
<rect x="642.2" y="492.98" width="7.8" height="10.02" fill="#ff0000"/>
<rect x="652" y="422.9" width="7.5" height="10.02" fill="#ff0000"/>
<rect x="652" y="436.92" width="7.5" height="10.02" fill="#ff0000"/>
<rect x="652" y="450.93" width="8.5" height="10.02" fill="#ff0000"/>
<rect x="652" y="464.95" width="8.5" height="10.02" fill="#ff0000"/>
<rect x="652" y="478.97" width="8.5" height="10.02" fill="#ff0000"/>
<rect x="652" y="492.98" width="8.5" height="10.02" fill="#ff0000"/>
<rect x="662.5" y="450.93" width="8.7" height="10.02" fill="#00b050"/>
<rect x="662.5" y="464.95" width="8.7" height="10.02" fill="#00b050"/>
<rect x="662.5" y="478.97" width="8.7" height="10.02" fill="#ff0000"/>
<rect x="662.5" y="492.98" width="8.7" height="10.02" fill="#00b050"/>
<rect x="673.2" y="450.93" width="7.6" height="10.02" fill="#ff0000"/>
<rect x="673.2" y="464.95" width="7.6" height="10.02" fill="#ff0000"/>
<rect x="673.2" y="478.97" width="7.6" height="10.02" fill="#ff0000"/>
<rect x="673.2" y="492.98" width="7.6" height="10.02" fill="#00b050"/>
<rect x="695.7" y="449.4" width="12.1" height="55.6" fill="#2f4f95"/>
<rect x="697.7" y="451.4" width="8.1" height="9.9" fill="#00b050"/>
<rect x="697.7" y="465.3" width="8.1" height="9.9" fill="#00b050"/>
<rect x="697.7" y="479.2" width="8.1" height="9.9" fill="#00b050"/>
<rect x="697.7" y="493.1" width="8.1" height="9.9" fill="#00b050"/>
<rect x="723.9" y="451.8" width="11.7" height="53.2" fill="#2f4f95"/>
<rect x="725.9" y="453.8" width="7.7" height="9.3" fill="#00b050"/>
<rect x="725.9" y="467.1" width="7.7" height="9.3" fill="#00b050"/>
<rect x="725.9" y="480.4" width="7.7" height="9.3" fill="#00b050"/>
<rect x="725.9" y="493.7" width="7.7" height="9.3" fill="#00b050"/>
<rect x="757.3" y="478" width="12.1" height="27" fill="#2f4f95"/>
<rect x="759.3" y="480" width="8.1" height="9.5" fill="#00b050"/>
<rect x="759.3" y="493.5" width="8.1" height="9.5" fill="#00b050"/>
<rect x="829.2" y="483.7" width="12.1" height="21.3" fill="#2f4f95"/>
<rect x="831.2" y="485.7" width="8.1" height="6.65" fill="#00b050"/>
<rect x="831.2" y="496.35" width="8.1" height="6.65" fill="#00b050"/>
<rect x="893.1" y="483.7" width="12.2" height="21.3" fill="#2f4f95"/>
<rect x="895.1" y="485.7" width="8.2" height="6.65" fill="#00b050"/>
<rect x="895.1" y="496.35" width="8.2" height="6.65" fill="#00b050"/>
<text x="1122" y="441.14" font-family="'Liberation Sans', Arial, sans-serif" font-size="12" font-weight="bold" text-anchor="end" textLength="19" lengthAdjust="spacingAndGlyphs" stroke="#000" stroke-width="0.35">S47</text>
<text x="1122" y="455.11" font-family="'Liberation Sans', Arial, sans-serif" font-size="12" font-weight="bold" text-anchor="end" textLength="19" lengthAdjust="spacingAndGlyphs" stroke="#000" stroke-width="0.35">S48</text>
<text x="1122" y="469.08" font-family="'Liberation Sans', Arial, sans-serif" font-size="12" font-weight="bold" text-anchor="end" textLength="19" lengthAdjust="spacingAndGlyphs" stroke="#000" stroke-width="0.35">S43</text>
<text x="1122" y="483.06" font-family="'Liberation Sans', Arial, sans-serif" font-size="12" font-weight="bold" text-anchor="end" textLength="19" lengthAdjust="spacingAndGlyphs" stroke="#000" stroke-width="0.35">S46</text>
<text x="1122" y="497.03" font-family="'Liberation Sans', Arial, sans-serif" font-size="12" font-weight="bold" text-anchor="end" textLength="19" lengthAdjust="spacingAndGlyphs" stroke="#000" stroke-width="0.35">S44</text>
<text x="1122" y="511" font-family="'Liberation Sans', Arial, sans-serif" font-size="12" font-weight="bold" text-anchor="end" textLength="19" lengthAdjust="spacingAndGlyphs" stroke="#000" stroke-width="0.35">S45</text>
<rect x="1130.9" y="432" width="20.5" height="28.27" fill="#2f4f95"/>
<rect x="1130.9" y="459.27" width="41.4" height="54.53" fill="#2f4f95"/>
<rect x="1132.9" y="434" width="7.2" height="9.63" fill="#ff0000"/>
<rect x="1132.9" y="447.63" width="7.2" height="9.63" fill="#ff0000"/>
<rect x="1132.9" y="461.27" width="7.2" height="9.63" fill="#ff0000"/>
<rect x="1132.9" y="474.9" width="7.2" height="9.63" fill="#ff0000"/>
<rect x="1132.9" y="488.53" width="7.2" height="9.63" fill="#ff0000"/>
<rect x="1132.9" y="502.17" width="7.2" height="9.63" fill="#ff0000"/>
<rect x="1142.1" y="434" width="7.3" height="9.63" fill="#ff0000"/>
<rect x="1142.1" y="447.63" width="7.3" height="9.63" fill="#ff0000"/>
<rect x="1142.1" y="461.27" width="8.3" height="9.63" fill="#ff0000"/>
<rect x="1142.1" y="474.9" width="8.3" height="9.63" fill="#ff0000"/>
<rect x="1142.1" y="488.53" width="8.3" height="9.63" fill="#ff0000"/>
<rect x="1142.1" y="502.17" width="8.3" height="9.63" fill="#ff0000"/>
<rect x="1152.4" y="461.27" width="8.3" height="9.63" fill="#ff0000"/>
<rect x="1152.4" y="474.9" width="8.3" height="9.63" fill="#ff0000"/>
<rect x="1152.4" y="488.53" width="8.3" height="9.63" fill="#ff0000"/>
<rect x="1152.4" y="502.17" width="8.3" height="9.63" fill="#ff0000"/>
<rect x="1162.7" y="461.27" width="7.6" height="9.63" fill="#ff0000"/>
<rect x="1162.7" y="474.9" width="7.6" height="9.63" fill="#ff0000"/>
<rect x="1162.7" y="488.53" width="7.6" height="9.63" fill="#ff0000"/>
<rect x="1162.7" y="502.17" width="7.6" height="9.63" fill="#ff0000"/>
<rect x="1185.3" y="459.8" width="11.7" height="54" fill="#2f4f95"/>
<rect x="1187.3" y="461.8" width="7.7" height="9.5" fill="#00b050"/>
<rect x="1187.3" y="475.3" width="7.7" height="9.5" fill="#00b050"/>
<rect x="1187.3" y="488.8" width="7.7" height="9.5" fill="#00b050"/>
<rect x="1187.3" y="502.3" width="7.7" height="9.5" fill="#00b050"/>
<rect x="1212.4" y="461.8" width="11.9" height="52" fill="#2f4f95"/>
<rect x="1214.4" y="463.8" width="7.9" height="9" fill="#00b050"/>
<rect x="1214.4" y="476.8" width="7.9" height="9" fill="#00b050"/>
<rect x="1214.4" y="489.8" width="7.9" height="9" fill="#00b050"/>
<rect x="1214.4" y="502.8" width="7.9" height="9" fill="#00b050"/>
<rect x="1246.3" y="487.5" width="10.5" height="26.3" fill="#2f4f95"/>
<rect x="1248.3" y="489.5" width="6.5" height="9.15" fill="#00b050"/>
<rect x="1248.3" y="502.65" width="6.5" height="9.15" fill="#00b050"/>
<rect x="1315.7" y="493.6" width="11.7" height="20.2" fill="#2f4f95"/>
<rect x="1317.7" y="495.6" width="7.7" height="6.1" fill="#00b050"/>
<rect x="1317.7" y="505.7" width="7.7" height="6.1" fill="#00b050"/>
<rect x="1378.8" y="493.6" width="11.5" height="20.2" fill="#2f4f95"/>
<rect x="1380.8" y="495.6" width="7.5" height="6.1" fill="#00b050"/>
<rect x="1380.8" y="505.7" width="7.5" height="6.1" fill="#00b050"/>
<text x="1611" y="447.21" font-family="'Liberation Sans', Arial, sans-serif" font-size="12" font-weight="bold" text-anchor="end" textLength="19" lengthAdjust="spacingAndGlyphs" stroke="#000" stroke-width="0.35">S47</text>
<text x="1611" y="461.14" font-family="'Liberation Sans', Arial, sans-serif" font-size="12" font-weight="bold" text-anchor="end" textLength="19" lengthAdjust="spacingAndGlyphs" stroke="#000" stroke-width="0.35">S48</text>
<text x="1611" y="475.06" font-family="'Liberation Sans', Arial, sans-serif" font-size="12" font-weight="bold" text-anchor="end" textLength="19" lengthAdjust="spacingAndGlyphs" stroke="#000" stroke-width="0.35">S43</text>
<text x="1611" y="488.98" font-family="'Liberation Sans', Arial, sans-serif" font-size="12" font-weight="bold" text-anchor="end" textLength="19" lengthAdjust="spacingAndGlyphs" stroke="#000" stroke-width="0.35">S46</text>
<text x="1611" y="502.91" font-family="'Liberation Sans', Arial, sans-serif" font-size="12" font-weight="bold" text-anchor="end" textLength="19" lengthAdjust="spacingAndGlyphs" stroke="#000" stroke-width="0.35">S44</text>
<text x="1611" y="516.83" font-family="'Liberation Sans', Arial, sans-serif" font-size="12" font-weight="bold" text-anchor="end" textLength="19" lengthAdjust="spacingAndGlyphs" stroke="#000" stroke-width="0.35">S45</text>
<rect x="1618.9" y="438.1" width="20.9" height="28.17" fill="#2f4f95"/>
<rect x="1618.9" y="465.27" width="41.4" height="54.33" fill="#2f4f95"/>
<rect x="1620.9" y="440.1" width="7.5" height="9.58" fill="#ff0000"/>
<rect x="1620.9" y="453.68" width="7.5" height="9.58" fill="#00b050"/>
<rect x="1620.9" y="467.27" width="7.5" height="9.58" fill="#ff0000"/>
<rect x="1620.9" y="480.85" width="7.5" height="9.58" fill="#ff0000"/>
<rect x="1620.9" y="494.43" width="7.5" height="9.58" fill="#ff0000"/>
<rect x="1620.9" y="508.02" width="7.5" height="9.58" fill="#00b050"/>
<rect x="1630.4" y="440.1" width="7.4" height="9.58" fill="#00b050"/>
<rect x="1630.4" y="453.68" width="7.4" height="9.58" fill="#ff0000"/>
<rect x="1630.4" y="467.27" width="8.4" height="9.58" fill="#00b050"/>
<rect x="1630.4" y="480.85" width="8.4" height="9.58" fill="#ff0000"/>
<rect x="1630.4" y="494.43" width="8.4" height="9.58" fill="#ff0000"/>
<rect x="1630.4" y="508.02" width="8.4" height="9.58" fill="#ff0000"/>
<rect x="1640.8" y="467.27" width="8.1" height="9.58" fill="#ff0000"/>
<rect x="1640.8" y="480.85" width="8.1" height="9.58" fill="#ff0000"/>
<rect x="1640.8" y="494.43" width="8.1" height="9.58" fill="#ff0000"/>
<rect x="1640.8" y="508.02" width="8.1" height="9.58" fill="#ff0000"/>
<rect x="1650.9" y="467.27" width="7.4" height="9.58" fill="#00b050"/>
<rect x="1650.9" y="480.85" width="7.4" height="9.58" fill="#00b050"/>
<rect x="1650.9" y="494.43" width="7.4" height="9.58" fill="#00b050"/>
<rect x="1650.9" y="508.02" width="7.4" height="9.58" fill="#00b050"/>
<rect x="1673.3" y="465.8" width="11.4" height="53.8" fill="#2f4f95"/>
<rect x="1675.3" y="467.8" width="7.4" height="9.45" fill="#00b050"/>
<rect x="1675.3" y="481.25" width="7.4" height="9.45" fill="#00b050"/>
<rect x="1675.3" y="494.7" width="7.4" height="9.45" fill="#00b050"/>
<rect x="1675.3" y="508.15" width="7.4" height="9.45" fill="#00b050"/>
<rect x="1701.7" y="468.1" width="10.1" height="51.5" fill="#2f4f95"/>
<rect x="1703.7" y="470.1" width="6.1" height="8.88" fill="#00b050"/>
<rect x="1703.7" y="482.98" width="6.1" height="8.88" fill="#00b050"/>
<rect x="1703.7" y="495.85" width="6.1" height="8.88" fill="#00b050"/>
<rect x="1703.7" y="508.73" width="6.1" height="8.88" fill="#00b050"/>
<rect x="1734.6" y="493.5" width="10.4" height="26.1" fill="#2f4f95"/>
<rect x="1736.6" y="495.5" width="6.4" height="9.05" fill="#00b050"/>
<rect x="1736.6" y="508.55" width="6.4" height="9.05" fill="#00b050"/>
<rect x="1803.6" y="499.4" width="12.4" height="20.2" fill="#2f4f95"/>
<rect x="1805.6" y="501.4" width="8.4" height="6.1" fill="#00b050"/>
<rect x="1805.6" y="511.5" width="8.4" height="6.1" fill="#00b050"/>
<rect x="1867.2" y="499.4" width="12" height="20.2" fill="#2f4f95"/>
<rect x="1869.2" y="501.4" width="8" height="6.1" fill="#00b050"/>
<rect x="1869.2" y="511.5" width="8" height="6.1" fill="#00b050"/>
<text x="1114.6" y="880.6" font-family="'Liberation Sans', Arial, sans-serif" font-size="12" font-weight="bold" text-anchor="end" textLength="25" lengthAdjust="spacingAndGlyphs" stroke="#000" stroke-width="0.35">S111</text>
<text x="1114.6" y="894.51" font-family="'Liberation Sans', Arial, sans-serif" font-size="12" font-weight="bold" text-anchor="end" textLength="25" lengthAdjust="spacingAndGlyphs" stroke="#000" stroke-width="0.35">S112</text>
<text x="1114.6" y="908.42" font-family="'Liberation Sans', Arial, sans-serif" font-size="12" font-weight="bold" text-anchor="end" textLength="25" lengthAdjust="spacingAndGlyphs" stroke="#000" stroke-width="0.35">S113</text>
<text x="1114.6" y="922.32" font-family="'Liberation Sans', Arial, sans-serif" font-size="12" font-weight="bold" text-anchor="end" textLength="25" lengthAdjust="spacingAndGlyphs" stroke="#000" stroke-width="0.35">S115</text>
<text x="1114.6" y="936.23" font-family="'Liberation Sans', Arial, sans-serif" font-size="12" font-weight="bold" text-anchor="end" textLength="25" lengthAdjust="spacingAndGlyphs" stroke="#000" stroke-width="0.35">S109</text>
<text x="1114.6" y="950.14" font-family="'Liberation Sans', Arial, sans-serif" font-size="12" font-weight="bold" text-anchor="end" textLength="25" lengthAdjust="spacingAndGlyphs" stroke="#000" stroke-width="0.35">S110</text>
<rect x="1124.9" y="871.5" width="19.8" height="28.13" fill="#2f4f95"/>
<rect x="1124.9" y="898.63" width="40.7" height="54.27" fill="#2f4f95"/>
<rect x="1126.9" y="873.5" width="6.7" height="9.57" fill="#ff0000"/>
<rect x="1126.9" y="887.07" width="6.7" height="9.57" fill="#00b050"/>
<rect x="1126.9" y="900.63" width="6.7" height="9.57" fill="#00b050"/>
<rect x="1126.9" y="914.2" width="6.7" height="9.57" fill="#00b050"/>
<rect x="1126.9" y="927.77" width="6.7" height="9.57" fill="#00b050"/>
<rect x="1126.9" y="941.33" width="6.7" height="9.57" fill="#00b050"/>
<rect x="1135.6" y="873.5" width="7.1" height="9.57" fill="#ff0000"/>
<rect x="1135.6" y="887.07" width="7.1" height="9.57" fill="#ff0000"/>
<rect x="1135.6" y="900.63" width="8.1" height="9.57" fill="#00b050"/>
<rect x="1135.6" y="914.2" width="8.1" height="9.57" fill="#ff0000"/>
<rect x="1135.6" y="927.77" width="8.1" height="9.57" fill="#00b050"/>
<rect x="1135.6" y="941.33" width="8.1" height="9.57" fill="#00b050"/>
<rect x="1145.7" y="900.63" width="8.5" height="9.57" fill="#00b050"/>
<rect x="1145.7" y="914.2" width="8.5" height="9.57" fill="#00b050"/>
<rect x="1145.7" y="927.77" width="8.5" height="9.57" fill="#00b050"/>
<rect x="1145.7" y="941.33" width="8.5" height="9.57" fill="#00b050"/>
<rect x="1156.2" y="900.63" width="7.4" height="9.57" fill="#00b050"/>
<rect x="1156.2" y="914.2" width="7.4" height="9.57" fill="#00b050"/>
<rect x="1156.2" y="927.77" width="7.4" height="9.57" fill="#00b050"/>
<rect x="1156.2" y="941.33" width="7.4" height="9.57" fill="#00b050"/>
<rect x="1178.9" y="899.2" width="11.1" height="53.7" fill="#2f4f95"/>
<rect x="1180.9" y="901.2" width="7.1" height="9.42" fill="#00b050"/>
<rect x="1180.9" y="914.62" width="7.1" height="9.42" fill="#00b050"/>
<rect x="1180.9" y="928.05" width="7.1" height="9.42" fill="#00b050"/>
<rect x="1180.9" y="941.48" width="7.1" height="9.42" fill="#00b050"/>
<rect x="1207.3" y="900.8" width="10.1" height="52.1" fill="#2f4f95"/>
<rect x="1209.3" y="902.8" width="6.1" height="9.03" fill="#00b050"/>
<rect x="1209.3" y="915.82" width="6.1" height="9.03" fill="#00b050"/>
<rect x="1209.3" y="928.85" width="6.1" height="9.03" fill="#00b050"/>
<rect x="1209.3" y="941.88" width="6.1" height="9.03" fill="#00b050"/>
<rect x="1239.8" y="926.9" width="10.8" height="26" fill="#2f4f95"/>
<rect x="1241.8" y="928.9" width="6.8" height="9" fill="#00b050"/>
<rect x="1241.8" y="941.9" width="6.8" height="9" fill="#00b050"/>
<rect x="1309.9" y="932.7" width="11.4" height="20.2" fill="#2f4f95"/>
<rect x="1311.9" y="934.7" width="7.4" height="6.1" fill="#00b050"/>
<rect x="1311.9" y="944.8" width="7.4" height="6.1" fill="#00b050"/>
<rect x="1372.7" y="932.7" width="10.8" height="20.2" fill="#2f4f95"/>
<rect x="1374.7" y="934.7" width="6.8" height="6.1" fill="#00b050"/>
<rect x="1374.7" y="944.8" width="6.8" height="6.1" fill="#00b050"/>
<text x="1604.5" y="882.95" font-family="'Liberation Sans', Arial, sans-serif" font-size="12" font-weight="bold" text-anchor="end" textLength="25" lengthAdjust="spacingAndGlyphs" stroke="#000" stroke-width="0.35">S111</text>
<text x="1604.5" y="896.76" font-family="'Liberation Sans', Arial, sans-serif" font-size="12" font-weight="bold" text-anchor="end" textLength="25" lengthAdjust="spacingAndGlyphs" stroke="#000" stroke-width="0.35">S112</text>
<text x="1604.5" y="910.57" font-family="'Liberation Sans', Arial, sans-serif" font-size="12" font-weight="bold" text-anchor="end" textLength="25" lengthAdjust="spacingAndGlyphs" stroke="#000" stroke-width="0.35">S113</text>
<text x="1604.5" y="924.37" font-family="'Liberation Sans', Arial, sans-serif" font-size="12" font-weight="bold" text-anchor="end" textLength="25" lengthAdjust="spacingAndGlyphs" stroke="#000" stroke-width="0.35">S115</text>
<text x="1604.5" y="938.18" font-family="'Liberation Sans', Arial, sans-serif" font-size="12" font-weight="bold" text-anchor="end" textLength="25" lengthAdjust="spacingAndGlyphs" stroke="#000" stroke-width="0.35">S109</text>
<text x="1604.5" y="951.99" font-family="'Liberation Sans', Arial, sans-serif" font-size="12" font-weight="bold" text-anchor="end" textLength="25" lengthAdjust="spacingAndGlyphs" stroke="#000" stroke-width="0.35">S110</text>
<rect x="1613.7" y="873.9" width="20.5" height="27.93" fill="#2f4f95"/>
<rect x="1613.7" y="900.83" width="41.7" height="53.87" fill="#2f4f95"/>
<rect x="1615.7" y="875.9" width="7.1" height="9.47" fill="#ff0000"/>
<rect x="1615.7" y="889.37" width="7.1" height="9.47" fill="#00b050"/>
<rect x="1615.7" y="902.83" width="7.1" height="9.47" fill="#ff0000"/>
<rect x="1615.7" y="916.3" width="7.1" height="9.47" fill="#ff0000"/>
<rect x="1615.7" y="929.77" width="7.1" height="9.47" fill="#00b050"/>
<rect x="1615.7" y="943.23" width="7.1" height="9.47" fill="#00b050"/>
<rect x="1624.8" y="875.9" width="7.4" height="9.47" fill="#ff0000"/>
<rect x="1624.8" y="889.37" width="7.4" height="9.47" fill="#ff0000"/>
<rect x="1624.8" y="902.83" width="8.4" height="9.47" fill="#ff0000"/>
<rect x="1624.8" y="916.3" width="8.4" height="9.47" fill="#ff0000"/>
<rect x="1624.8" y="929.77" width="8.4" height="9.47" fill="#00b050"/>
<rect x="1624.8" y="943.23" width="8.4" height="9.47" fill="#00b050"/>
<rect x="1635.2" y="902.83" width="8.5" height="9.47" fill="#00b050"/>
<rect x="1635.2" y="916.3" width="8.5" height="9.47" fill="#ff0000"/>
<rect x="1635.2" y="929.77" width="8.5" height="9.47" fill="#00b050"/>
<rect x="1635.2" y="943.23" width="8.5" height="9.47" fill="#00b050"/>
<rect x="1645.7" y="902.83" width="7.7" height="9.47" fill="#00b050"/>
<rect x="1645.7" y="916.3" width="7.7" height="9.47" fill="#00b050"/>
<rect x="1645.7" y="929.77" width="7.7" height="9.47" fill="#ff0000"/>
<rect x="1645.7" y="943.23" width="7.7" height="9.47" fill="#00b050"/>
<rect x="1668.4" y="900.9" width="10.8" height="53.8" fill="#2f4f95"/>
<rect x="1670.4" y="902.9" width="6.8" height="9.45" fill="#00b050"/>
<rect x="1670.4" y="916.35" width="6.8" height="9.45" fill="#00b050"/>
<rect x="1670.4" y="929.8" width="6.8" height="9.45" fill="#00b050"/>
<rect x="1670.4" y="943.25" width="6.8" height="9.45" fill="#00b050"/>
<rect x="1696.1" y="902.5" width="10.5" height="52.2" fill="#2f4f95"/>
<rect x="1698.1" y="904.5" width="6.5" height="9.05" fill="#00b050"/>
<rect x="1698.1" y="917.55" width="6.5" height="9.05" fill="#00b050"/>
<rect x="1698.1" y="930.6" width="6.5" height="9.05" fill="#00b050"/>
<rect x="1698.1" y="943.65" width="6.5" height="9.05" fill="#00b050"/>
<rect x="1729.4" y="928.6" width="10.7" height="26.1" fill="#2f4f95"/>
<rect x="1731.4" y="930.6" width="6.7" height="9.05" fill="#00b050"/>
<rect x="1731.4" y="943.65" width="6.7" height="9.05" fill="#00b050"/>
<rect x="1799.4" y="934.1" width="10.8" height="20.6" fill="#2f4f95"/>
<rect x="1801.4" y="936.1" width="6.8" height="6.3" fill="#00b050"/>
<rect x="1801.4" y="946.4" width="6.8" height="6.3" fill="#00b050"/>
<rect x="1861.6" y="934.1" width="11.4" height="20.6" fill="#2f4f95"/>
<rect x="1863.6" y="936.1" width="7.4" height="6.3" fill="#00b050"/>
<rect x="1863.6" y="946.4" width="7.4" height="6.3" fill="#00b050"/>
<text x="1120" y="1313.56" font-family="'Liberation Sans', Arial, sans-serif" font-size="12" font-weight="bold" text-anchor="end" textLength="19" lengthAdjust="spacingAndGlyphs" stroke="#000" stroke-width="0.35">S76</text>
<text x="1120" y="1327.8" font-family="'Liberation Sans', Arial, sans-serif" font-size="12" font-weight="bold" text-anchor="end" textLength="19" lengthAdjust="spacingAndGlyphs" stroke="#000" stroke-width="0.35">S77</text>
<text x="1120" y="1342.04" font-family="'Liberation Sans', Arial, sans-serif" font-size="12" font-weight="bold" text-anchor="end" textLength="19" lengthAdjust="spacingAndGlyphs" stroke="#000" stroke-width="0.35">S74</text>
<text x="1120" y="1356.28" font-family="'Liberation Sans', Arial, sans-serif" font-size="12" font-weight="bold" text-anchor="end" textLength="19" lengthAdjust="spacingAndGlyphs" stroke="#000" stroke-width="0.35">S75</text>
<rect x="1130.3" y="1304.4" width="20.6" height="28.35" fill="#2f4f95"/>
<rect x="1130.3" y="1331.75" width="41.2" height="27.35" fill="#2f4f95"/>
<rect x="1132.3" y="1306.4" width="7.1" height="9.67" fill="#00b050"/>
<rect x="1132.3" y="1320.08" width="7.1" height="9.67" fill="#00b050"/>
<rect x="1132.3" y="1333.75" width="7.1" height="9.67" fill="#00b050"/>
<rect x="1132.3" y="1347.42" width="7.1" height="9.67" fill="#00b050"/>
<rect x="1141.4" y="1306.4" width="7.5" height="9.67" fill="#00b050"/>
<rect x="1141.4" y="1320.08" width="7.5" height="9.67" fill="#00b050"/>
<rect x="1141.4" y="1333.75" width="8.5" height="9.67" fill="#00b050"/>
<rect x="1141.4" y="1347.42" width="8.5" height="9.67" fill="#00b050"/>
<rect x="1151.9" y="1333.75" width="7.8" height="9.67" fill="#00b050"/>
<rect x="1151.9" y="1347.42" width="7.8" height="9.67" fill="#00b050"/>
<rect x="1161.7" y="1333.75" width="7.8" height="9.67" fill="#00b050"/>
<rect x="1161.7" y="1347.42" width="7.8" height="9.67" fill="#00b050"/>
<rect x="1184.3" y="1332.2" width="11.4" height="26.9" fill="#2f4f95"/>
<rect x="1186.3" y="1334.2" width="7.4" height="9.45" fill="#00b050"/>
<rect x="1186.3" y="1347.65" width="7.4" height="9.45" fill="#00b050"/>
<rect x="1211.5" y="1332.2" width="11.4" height="26.9" fill="#2f4f95"/>
<rect x="1213.5" y="1334.2" width="7.4" height="9.45" fill="#00b050"/>
<rect x="1213.5" y="1347.65" width="7.4" height="9.45" fill="#00b050"/>
<rect x="1245.8" y="1332.2" width="10.5" height="26.9" fill="#2f4f95"/>
<rect x="1247.8" y="1334.2" width="6.5" height="9.45" fill="#00b050"/>
<rect x="1247.8" y="1347.65" width="6.5" height="9.45" fill="#00b050"/>
<rect x="1315.2" y="1338.8" width="12.4" height="20.3" fill="#2f4f95"/>
<rect x="1317.2" y="1340.8" width="8.4" height="6.15" fill="#00b050"/>
<rect x="1317.2" y="1350.95" width="8.4" height="6.15" fill="#00b050"/>
<rect x="1377.7" y="1338.8" width="11.5" height="20.3" fill="#2f4f95"/>
<rect x="1379.7" y="1340.8" width="7.5" height="6.15" fill="#00b050"/>
<rect x="1379.7" y="1350.95" width="7.5" height="6.15" fill="#00b050"/>
<text x="1607" y="1313.44" font-family="'Liberation Sans', Arial, sans-serif" font-size="12" font-weight="bold" text-anchor="end" textLength="19" lengthAdjust="spacingAndGlyphs" stroke="#000" stroke-width="0.35">S76</text>
<text x="1607" y="1327.66" font-family="'Liberation Sans', Arial, sans-serif" font-size="12" font-weight="bold" text-anchor="end" textLength="19" lengthAdjust="spacingAndGlyphs" stroke="#000" stroke-width="0.35">S77</text>
<text x="1607" y="1341.88" font-family="'Liberation Sans', Arial, sans-serif" font-size="12" font-weight="bold" text-anchor="end" textLength="19" lengthAdjust="spacingAndGlyphs" stroke="#000" stroke-width="0.35">S74</text>
<text x="1607" y="1356.1" font-family="'Liberation Sans', Arial, sans-serif" font-size="12" font-weight="bold" text-anchor="end" textLength="19" lengthAdjust="spacingAndGlyphs" stroke="#000" stroke-width="0.35">S75</text>
<rect x="1615.7" y="1304.3" width="20" height="28.3" fill="#2f4f95"/>
<rect x="1615.7" y="1331.6" width="40.9" height="27.3" fill="#2f4f95"/>
<rect x="1617.7" y="1306.3" width="7.2" height="9.65" fill="#00b050"/>
<rect x="1617.7" y="1319.95" width="7.2" height="9.65" fill="#00b050"/>
<rect x="1617.7" y="1333.6" width="7.2" height="9.65" fill="#00b050"/>
<rect x="1617.7" y="1347.25" width="7.2" height="9.65" fill="#00b050"/>
<rect x="1626.9" y="1306.3" width="6.8" height="9.65" fill="#00b050"/>
<rect x="1626.9" y="1319.95" width="6.8" height="9.65" fill="#00b050"/>
<rect x="1626.9" y="1333.6" width="7.8" height="9.65" fill="#00b050"/>
<rect x="1626.9" y="1347.25" width="7.8" height="9.65" fill="#00b050"/>
<rect x="1636.7" y="1333.6" width="8.4" height="9.65" fill="#00b050"/>
<rect x="1636.7" y="1347.25" width="8.4" height="9.65" fill="#00b050"/>
<rect x="1647.1" y="1333.6" width="7.5" height="9.65" fill="#00b050"/>
<rect x="1647.1" y="1347.25" width="7.5" height="9.65" fill="#00b050"/>
<rect x="1670.7" y="1332.1" width="10.4" height="26.8" fill="#2f4f95"/>
<rect x="1672.7" y="1334.1" width="6.4" height="9.4" fill="#00b050"/>
<rect x="1672.7" y="1347.5" width="6.4" height="9.4" fill="#00b050"/>
<rect x="1698.5" y="1332.1" width="9.8" height="26.8" fill="#2f4f95"/>
<rect x="1700.5" y="1334.1" width="5.8" height="9.4" fill="#00b050"/>
<rect x="1700.5" y="1347.5" width="5.8" height="9.4" fill="#00b050"/>
<rect x="1731.2" y="1332.1" width="10.5" height="26.8" fill="#2f4f95"/>
<rect x="1733.2" y="1334.1" width="6.5" height="9.4" fill="#00b050"/>
<rect x="1733.2" y="1347.5" width="6.5" height="9.4" fill="#00b050"/>
<rect x="1800.6" y="1338.7" width="11.4" height="20.2" fill="#2f4f95"/>
<rect x="1802.6" y="1340.7" width="7.4" height="6.1" fill="#00b050"/>
<rect x="1802.6" y="1350.8" width="7.4" height="6.1" fill="#00b050"/>
<rect x="1863" y="1338.7" width="12.1" height="20.2" fill="#2f4f95"/>
<rect x="1865" y="1340.7" width="8.1" height="6.1" fill="#00b050"/>
<rect x="1865" y="1350.8" width="8.1" height="6.1" fill="#00b050"/>
<rect x="164.1" y="462.5" width="44.9" height="1.3" fill="#c4cce0"/>
<rect x="246.8" y="465.3" width="12.3" height="1.4" fill="#ffffff"/>
<line x1="1086" y1="1359.6" x2="1918" y2="1359.6" stroke="#e2e2e2" stroke-width="1.2"/>
<rect x="469.1" y="123.6" width="110.9" height="168.5" fill="#fff" stroke="#333" stroke-width="1.6"/>
<line x1="481.9" y1="147.1" x2="523.4" y2="147.1" stroke="#000" stroke-width="1.6"/>
<circle cx="502.6" cy="147.1" r="6" fill="#8b0000" stroke="#000" stroke-width="1"/>
<text x="535.1" y="153.36" font-family="'Liberation Sans', Arial, sans-serif" font-size="17.4" font-weight="bold" text-anchor="start">S62</text>
<line x1="481.9" y1="171.4" x2="523.4" y2="171.4" stroke="#000" stroke-width="1.6"/>
<path d="M502.6 178.22L509.6 167.22L495.6 167.22Z" fill="#c8d200" stroke="#000" stroke-width="1"/>
<text x="535.1" y="177.66" font-family="'Liberation Sans', Arial, sans-serif" font-size="17.4" font-weight="bold" text-anchor="start">S63</text>
<line x1="481.9" y1="195.7" x2="523.4" y2="195.7" stroke="#000" stroke-width="1.6"/>
<rect x="496.8" y="189.9" width="11.6" height="11.6" fill="#650000" stroke="#000" stroke-width="1"/>
<text x="535.1" y="201.96" font-family="'Liberation Sans', Arial, sans-serif" font-size="17.4" font-weight="bold" text-anchor="start">S64</text>
<line x1="481.9" y1="220" x2="523.4" y2="220" stroke="#000" stroke-width="1.6"/>
<path d="M502.6 212.8L509.8 220L502.6 227.2L495.4 220Z" fill="#ff8a00" stroke="#000" stroke-width="1"/>
<text x="535.1" y="226.26" font-family="'Liberation Sans', Arial, sans-serif" font-size="17.4" font-weight="bold" text-anchor="start">S65</text>
<line x1="481.9" y1="244.3" x2="523.4" y2="244.3" stroke="#000" stroke-width="1.6"/>
<path d="M502.6 237.48L509.6 248.48L495.6 248.48Z" fill="#a4520a" stroke="#000" stroke-width="1"/>
<text x="535.1" y="250.56" font-family="'Liberation Sans', Arial, sans-serif" font-size="17.4" font-weight="bold" text-anchor="start">S60</text>
<line x1="481.9" y1="268.6" x2="523.4" y2="268.6" stroke="#000" stroke-width="1.6"/>
<polygon points="502.6,262.3 496.87,265.45 496.87,271.75 502.6,274.9 508.33,271.75 508.33,265.45" fill="#8a8a00" stroke="#000" stroke-width="1"/>
<text x="535.1" y="274.86" font-family="'Liberation Sans', Arial, sans-serif" font-size="17.4" font-weight="bold" text-anchor="start">S61</text>
<rect x="1426.8" y="89.4" width="112.6" height="170.2" fill="#fff" stroke="#333" stroke-width="1.6"/>
<line x1="1439.2" y1="113" x2="1482.9" y2="113" stroke="#000" stroke-width="1.6"/>
<circle cx="1460.7" cy="113" r="6" fill="#000080" stroke="#000" stroke-width="1"/>
<text x="1493.7" y="119.41" font-family="'Liberation Sans', Arial, sans-serif" font-size="17.8" font-weight="normal" text-anchor="start">S47</text>
<line x1="1439.2" y1="137.5" x2="1482.9" y2="137.5" stroke="#000" stroke-width="1.6"/>
<circle cx="1460.7" cy="137.5" r="6" fill="#1e8fff" stroke="#000" stroke-width="1"/>
<text x="1493.7" y="143.91" font-family="'Liberation Sans', Arial, sans-serif" font-size="17.8" font-weight="normal" text-anchor="start">S48</text>
<line x1="1439.2" y1="162" x2="1482.9" y2="162" stroke="#000" stroke-width="1.6"/>
<path d="M1460.7 168.82L1467.7 157.82L1453.7 157.82Z" fill="#000070" stroke="#000" stroke-width="1"/>
<text x="1493.7" y="168.41" font-family="'Liberation Sans', Arial, sans-serif" font-size="17.8" font-weight="normal" text-anchor="start">S43</text>
<line x1="1439.2" y1="186.5" x2="1482.9" y2="186.5" stroke="#000" stroke-width="1.6"/>
<path d="M1460.7 179.68L1467.7 190.68L1453.7 190.68Z" fill="#008080" stroke="#000" stroke-width="1"/>
<text x="1493.7" y="192.91" font-family="'Liberation Sans', Arial, sans-serif" font-size="17.8" font-weight="normal" text-anchor="start">S46</text>
<line x1="1439.2" y1="211" x2="1482.9" y2="211" stroke="#000" stroke-width="1.6"/>
<rect x="1454.9" y="205.2" width="11.6" height="11.6" fill="#0c3f8c" stroke="#000" stroke-width="1"/>
<text x="1493.7" y="217.41" font-family="'Liberation Sans', Arial, sans-serif" font-size="17.8" font-weight="normal" text-anchor="start">S44</text>
<line x1="1439.2" y1="235.5" x2="1482.9" y2="235.5" stroke="#000" stroke-width="1.6"/>
<rect x="1454.9" y="229.7" width="11.6" height="11.6" fill="#1fe0e0" stroke="#000" stroke-width="1"/>
<text x="1493.7" y="241.91" font-family="'Liberation Sans', Arial, sans-serif" font-size="17.8" font-weight="normal" text-anchor="start">S45</text>
<rect x="1420.6" y="528.9" width="123.8" height="169" fill="#fff" stroke="#333" stroke-width="1.6"/>
<line x1="1433.6" y1="552.3" x2="1476.6" y2="552.3" stroke="#000" stroke-width="1.6"/>
<circle cx="1454.8" cy="552.3" r="6" fill="#8b0000" stroke="#000" stroke-width="1"/>
<text x="1487.4" y="558.71" font-family="'Liberation Sans', Arial, sans-serif" font-size="17.8" font-weight="normal" text-anchor="start">S111</text>
<line x1="1433.6" y1="576.6" x2="1476.6" y2="576.6" stroke="#000" stroke-width="1.6"/>
<path d="M1454.8 583.42L1461.8 572.42L1447.8 572.42Z" fill="#c8d200" stroke="#000" stroke-width="1"/>
<text x="1487.4" y="583.01" font-family="'Liberation Sans', Arial, sans-serif" font-size="17.8" font-weight="normal" text-anchor="start">S112</text>
<line x1="1433.6" y1="600.9" x2="1476.6" y2="600.9" stroke="#000" stroke-width="1.6"/>
<rect x="1449" y="595.1" width="11.6" height="11.6" fill="#650000" stroke="#000" stroke-width="1"/>
<text x="1487.4" y="607.31" font-family="'Liberation Sans', Arial, sans-serif" font-size="17.8" font-weight="normal" text-anchor="start">S113</text>
<line x1="1433.6" y1="625.2" x2="1476.6" y2="625.2" stroke="#000" stroke-width="1.6"/>
<path d="M1454.8 618L1462 625.2L1454.8 632.4L1447.6 625.2Z" fill="#ff8a00" stroke="#000" stroke-width="1"/>
<text x="1487.4" y="631.61" font-family="'Liberation Sans', Arial, sans-serif" font-size="17.8" font-weight="normal" text-anchor="start">S115</text>
<line x1="1433.6" y1="649.5" x2="1476.6" y2="649.5" stroke="#000" stroke-width="1.6"/>
<path d="M1454.8 642.68L1461.8 653.68L1447.8 653.68Z" fill="#a4520a" stroke="#000" stroke-width="1"/>
<text x="1487.4" y="655.91" font-family="'Liberation Sans', Arial, sans-serif" font-size="17.8" font-weight="normal" text-anchor="start">S109</text>
<line x1="1433.6" y1="673.8" x2="1476.6" y2="673.8" stroke="#000" stroke-width="1.6"/>
<polygon points="1454.8,667.5 1449.07,670.65 1449.07,676.95 1454.8,680.1 1460.53,676.95 1460.53,670.65" fill="#8a8a00" stroke="#000" stroke-width="1"/>
<text x="1487.4" y="680.21" font-family="'Liberation Sans', Arial, sans-serif" font-size="17.8" font-weight="normal" text-anchor="start">S110</text>
<rect x="1426.8" y="962.4" width="112.6" height="121.1" fill="#fff" stroke="#333" stroke-width="1.6"/>
<line x1="1438.2" y1="986" x2="1482.1" y2="986" stroke="#000" stroke-width="1.6"/>
<circle cx="1460.2" cy="986" r="6" fill="#4b1a8a" stroke="#000" stroke-width="1"/>
<text x="1492.2" y="992.41" font-family="'Liberation Sans', Arial, sans-serif" font-size="17.8" font-weight="normal" text-anchor="start">S76</text>
<line x1="1438.2" y1="1010.5" x2="1482.1" y2="1010.5" stroke="#000" stroke-width="1.6"/>
<path d="M1460.2 1017.32L1467.2 1006.32L1453.2 1006.32Z" fill="#000080" stroke="#000" stroke-width="1"/>
<text x="1492.2" y="1016.91" font-family="'Liberation Sans', Arial, sans-serif" font-size="17.8" font-weight="normal" text-anchor="start">S77</text>
<line x1="1438.2" y1="1035" x2="1482.1" y2="1035" stroke="#000" stroke-width="1.6"/>
<rect x="1454.4" y="1029.2" width="11.6" height="11.6" fill="#0a14ff" stroke="#000" stroke-width="1"/>
<text x="1492.2" y="1041.41" font-family="'Liberation Sans', Arial, sans-serif" font-size="17.8" font-weight="normal" text-anchor="start">S74</text>
<line x1="1438.2" y1="1059.5" x2="1482.1" y2="1059.5" stroke="#000" stroke-width="1.6"/>
<path d="M1460.2 1052.3L1467.4 1059.5L1460.2 1066.7L1453 1059.5Z" fill="#14c814" stroke="#000" stroke-width="1"/>
<text x="1492.2" y="1065.91" font-family="'Liberation Sans', Arial, sans-serif" font-size="17.8" font-weight="normal" text-anchor="start">S75</text>
<text x="436.9" y="39.2" font-family="'Liberation Serif', 'Times New Roman', serif" font-size="41.5" font-weight="bold" text-anchor="start">Hamsters</text>
<text x="1433" y="39.3" font-family="'Liberation Serif', 'Times New Roman', serif" font-size="41.5" font-weight="bold" text-anchor="start">NHP</text>
<text x="206.7" y="53" font-family="'Liberation Serif', 'Times New Roman', serif" font-size="31.2" font-weight="bold" text-anchor="start">nasal swabs</text>
<text x="638.8" y="51" font-family="'Liberation Serif', 'Times New Roman', serif" font-size="31.5" font-weight="bold" text-anchor="start">oropharyngeal swabs</text>
<text x="1188.5" y="52.7" font-family="'Liberation Serif', 'Times New Roman', serif" font-size="31.2" font-weight="bold" text-anchor="start">nasal swabs</text>
<text x="1598.4" y="52" font-family="'Liberation Serif', 'Times New Roman', serif" font-size="31.5" font-weight="bold" text-anchor="start">oropharyngeal swabs</text>
<text x="412.6" y="929" font-family="'Liberation Serif', 'Times New Roman', serif" font-size="36.2" font-weight="bold" text-anchor="start">Faecal pellets</text>
<text x="363.6" y="1392" font-family="'Liberation Serif', 'Times New Roman', serif" font-size="36" font-weight="bold" text-anchor="start">Days post infection</text>
<text x="1328.2" y="1392.7" font-family="'Liberation Serif', 'Times New Roman', serif" font-size="36" font-weight="bold" text-anchor="start">Days post infection</text>
<text x="1961.5" y="248.3" font-family="'Liberation Serif', 'Times New Roman', serif" font-size="26.6" font-weight="bold" text-anchor="middle" transform="rotate(90 1961.5 248.3)">Cynomolgus</text>
<text x="1929.5" y="254.9" font-family="'Liberation Serif', 'Times New Roman', serif" font-size="26.6" font-weight="bold" text-anchor="middle" transform="rotate(90 1929.5 254.9)">macaque</text>
<text x="1932" y="725" font-family="'Liberation Serif', 'Times New Roman', serif" font-size="26" font-weight="bold" text-anchor="middle" transform="rotate(90 1932 725)">Tamarin</text>
<text x="1928.5" y="1147.1" font-family="'Liberation Serif', 'Times New Roman', serif" font-size="26.5" font-weight="bold" text-anchor="middle" transform="rotate(90 1928.5 1147.1)">Marmoset</text>
<text x="43.9" y="244" font-family="'Liberation Serif', 'Times New Roman', serif" font-size="31.7" font-weight="bold" text-anchor="middle" transform="rotate(-90 43.9 244)">SARS-CoV-2 genomic RNA</text>
<text x="79.4" y="228.6" font-family="'Liberation Serif', 'Times New Roman', serif" font-size="32.2" font-weight="bold" text-anchor="middle" transform="rotate(-90 79.4 228.6)">(log<tspan font-size="21.25" dy="7.08">10</tspan><tspan dy="-7.08"> IU/mL)</tspan></text>
<text x="40.6" y="678.5" font-family="'Liberation Serif', 'Times New Roman', serif" font-size="31.8" font-weight="bold" text-anchor="middle" transform="rotate(-90 40.6 678.5)">SARS-CoV-2 sg RNA</text>
<text x="77.2" y="672" font-family="'Liberation Serif', 'Times New Roman', serif" font-size="30.8" font-weight="bold" text-anchor="middle" transform="rotate(-90 77.2 672)">(log<tspan font-size="20.33" dy="6.78">10</tspan><tspan dy="-6.78"> copies/mL)</tspan></text>
<text x="38" y="1123.6" font-family="'Liberation Serif', 'Times New Roman', serif" font-size="31.5" font-weight="bold" text-anchor="middle" transform="rotate(-90 38 1123.6)">SARS-CoV-2 g RNA</text>
<text x="72" y="1115" font-family="'Liberation Serif', 'Times New Roman', serif" font-size="31" font-weight="bold" text-anchor="middle" transform="rotate(-90 72 1115)">(log<tspan font-size="20.46" dy="6.82">10</tspan><tspan dy="-6.82"> IU/pellet)</tspan></text>
<text x="507" y="1138.8" font-family="'Liberation Serif', 'Times New Roman', serif" font-size="31.8" font-weight="bold" text-anchor="middle" transform="rotate(-90 507 1138.8)">SARS-CoV-2 sg RNA</text>
<text x="543.5" y="1139" font-family="'Liberation Serif', 'Times New Roman', serif" font-size="31" font-weight="bold" text-anchor="middle" transform="rotate(-90 543.5 1139)">(log<tspan font-size="20.46" dy="6.82">10</tspan><tspan dy="-6.82"> copies/pellet)</tspan></text>
<text x="1046.8" y="722" font-family="'Liberation Serif', 'Times New Roman', serif" font-size="27.6" font-weight="bold" text-anchor="middle" transform="rotate(-90 1046.8 722)">SARS-CoV-2&#160; genomic RNA (log<tspan font-size="18.22" dy="6.07">10</tspan><tspan dy="-6.07"> IU/mL)</tspan></text>
</svg>
</body></html>
